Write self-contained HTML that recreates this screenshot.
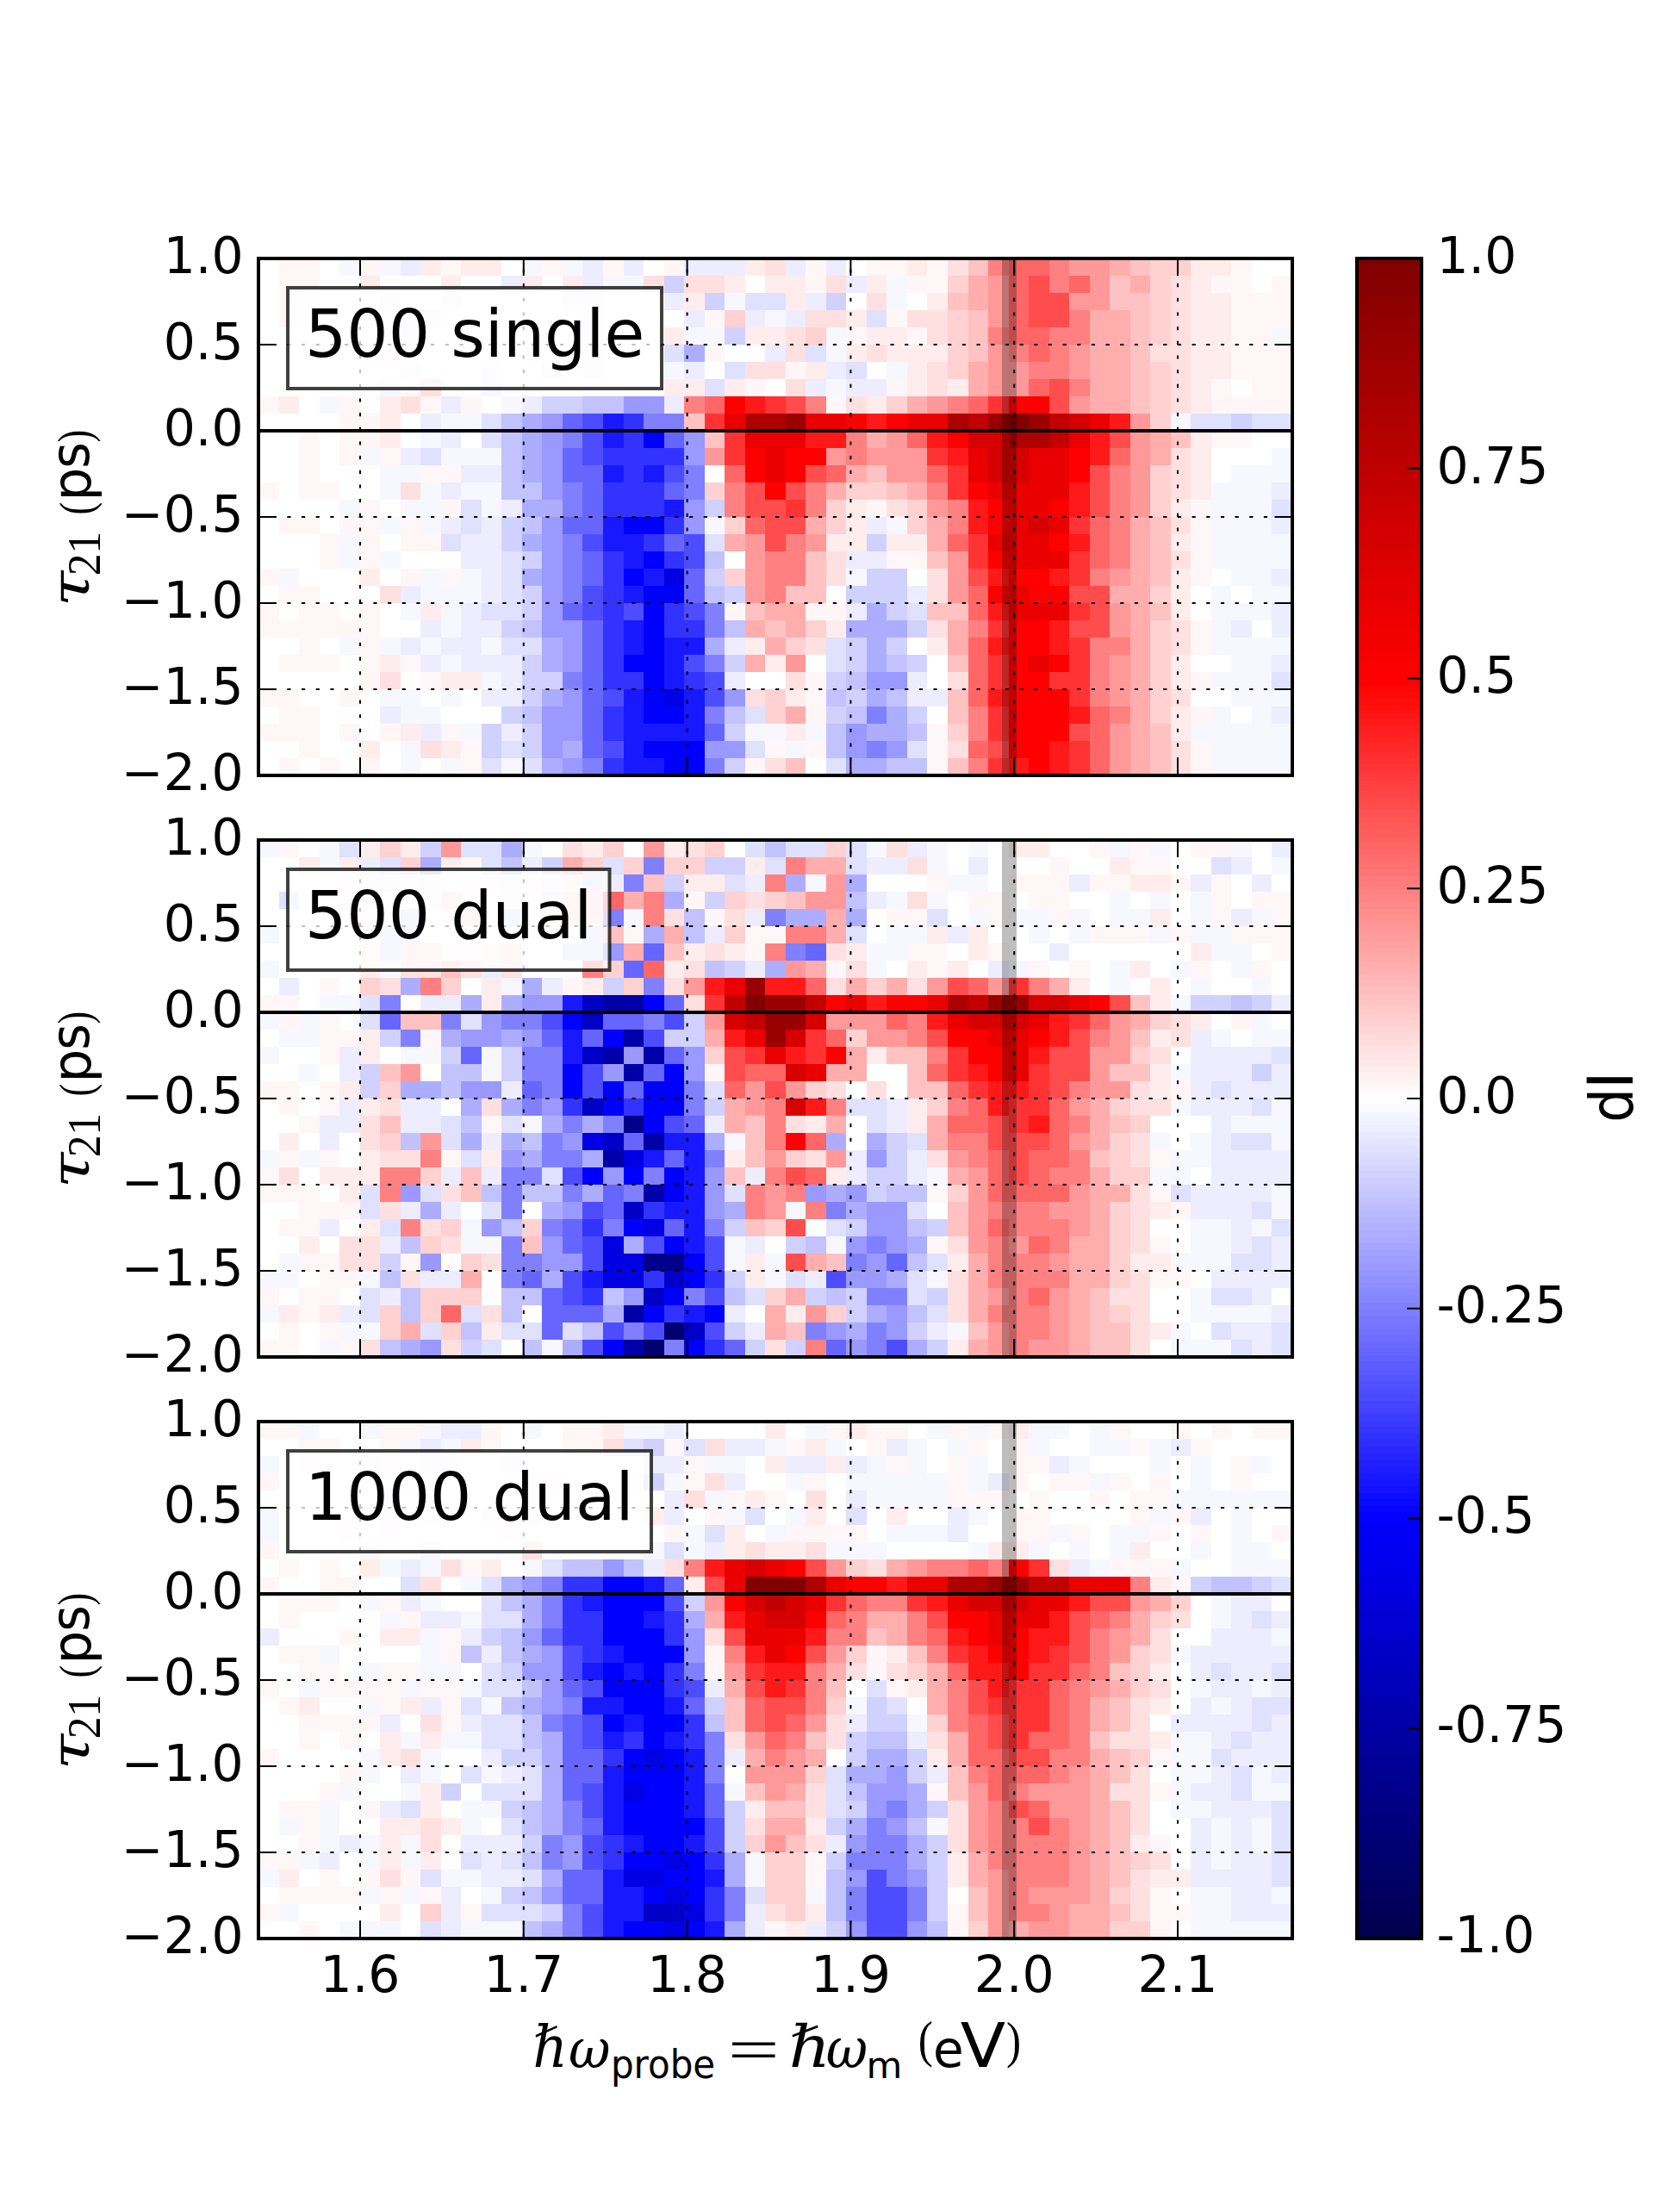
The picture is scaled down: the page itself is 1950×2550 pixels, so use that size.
<!DOCTYPE html><html><head><meta charset="utf-8"><style>html,body{margin:0;padding:0;background:#fff;width:1950px;height:2550px;overflow:hidden}svg{display:block}</style></head><body>
<svg width="1950" height="2550" viewBox="0 0 1950 2550">
<rect width="1950" height="2550" fill="#fff"/>
<g shape-rendering="crispEdges">
<rect x="324" y="300" width="47" height="20" fill="#fff7f7"/>
<rect x="394" y="300" width="24" height="20" fill="#f7f7ff"/>
<rect x="418" y="300" width="23" height="20" fill="#fff7f7"/>
<rect x="441" y="300" width="24" height="20" fill="#f7f7ff"/>
<rect x="465" y="300" width="23" height="20" fill="#ededff"/>
<rect x="488" y="300" width="24" height="20" fill="#ffeded"/>
<rect x="512" y="300" width="23" height="20" fill="#fff7f7"/>
<rect x="535" y="300" width="47" height="20" fill="#ffeded"/>
<rect x="606" y="300" width="23" height="20" fill="#f7f7ff"/>
<rect x="629" y="300" width="24" height="20" fill="#fff7f7"/>
<rect x="653" y="300" width="23" height="20" fill="#f7f7ff"/>
<rect x="676" y="300" width="24" height="20" fill="#ededff"/>
<rect x="700" y="300" width="24" height="20" fill="#fff7f7"/>
<rect x="724" y="300" width="23" height="20" fill="#ededff"/>
<rect x="771" y="300" width="23" height="20" fill="#fff7f7"/>
<rect x="794" y="300" width="71" height="20" fill="#ededff"/>
<rect x="865" y="300" width="23" height="20" fill="#ffeded"/>
<rect x="888" y="300" width="24" height="20" fill="#ffe0e0"/>
<rect x="912" y="300" width="23" height="20" fill="#ededff"/>
<rect x="935" y="300" width="24" height="20" fill="#fff7f7"/>
<rect x="959" y="300" width="23" height="20" fill="#ededff"/>
<rect x="1006" y="300" width="47" height="20" fill="#fff7f7"/>
<rect x="1053" y="300" width="23" height="20" fill="#ffeded"/>
<rect x="1076" y="300" width="24" height="20" fill="#fff7f7"/>
<rect x="1100" y="300" width="24" height="20" fill="#ffe0e0"/>
<rect x="1124" y="300" width="23" height="20" fill="#ffc2c2"/>
<rect x="1147" y="300" width="24" height="20" fill="#ff8080"/>
<rect x="1171" y="300" width="47" height="20" fill="#ff6666"/>
<rect x="1218" y="300" width="23" height="20" fill="#ff8080"/>
<rect x="1241" y="300" width="47" height="20" fill="#ff9999"/>
<rect x="1288" y="300" width="24" height="20" fill="#ffadad"/>
<rect x="1312" y="300" width="23" height="20" fill="#ffc2c2"/>
<rect x="1335" y="300" width="47" height="20" fill="#ffd1d1"/>
<rect x="1382" y="300" width="47" height="20" fill="#ffeded"/>
<rect x="1429" y="300" width="24" height="20" fill="#fff7f7"/>
<rect x="324" y="320" width="47" height="20" fill="#fff7f7"/>
<rect x="418" y="320" width="23" height="20" fill="#ffeded"/>
<rect x="512" y="320" width="23" height="20" fill="#ffeded"/>
<rect x="582" y="320" width="24" height="20" fill="#ededff"/>
<rect x="606" y="320" width="23" height="20" fill="#ffeded"/>
<rect x="653" y="320" width="23" height="20" fill="#ffeded"/>
<rect x="676" y="320" width="24" height="20" fill="#ededff"/>
<rect x="700" y="320" width="47" height="20" fill="#f7f7ff"/>
<rect x="747" y="320" width="24" height="20" fill="#ffe0e0"/>
<rect x="771" y="320" width="23" height="20" fill="#d1d1ff"/>
<rect x="794" y="320" width="47" height="20" fill="#ffe0e0"/>
<rect x="841" y="320" width="24" height="20" fill="#ffeded"/>
<rect x="888" y="320" width="47" height="20" fill="#ffeded"/>
<rect x="935" y="320" width="24" height="20" fill="#fff7f7"/>
<rect x="959" y="320" width="23" height="20" fill="#ffe0e0"/>
<rect x="982" y="320" width="24" height="20" fill="#ededff"/>
<rect x="1006" y="320" width="23" height="20" fill="#ffeded"/>
<rect x="1029" y="320" width="24" height="20" fill="#f7f7ff"/>
<rect x="1053" y="320" width="47" height="20" fill="#fff7f7"/>
<rect x="1100" y="320" width="24" height="20" fill="#ffd1d1"/>
<rect x="1124" y="320" width="23" height="20" fill="#ffadad"/>
<rect x="1147" y="320" width="24" height="20" fill="#ff9999"/>
<rect x="1171" y="320" width="23" height="20" fill="#ff6666"/>
<rect x="1194" y="320" width="24" height="20" fill="#ff4d4d"/>
<rect x="1218" y="320" width="23" height="20" fill="#ff8080"/>
<rect x="1241" y="320" width="24" height="20" fill="#ff6666"/>
<rect x="1265" y="320" width="23" height="20" fill="#ff9999"/>
<rect x="1288" y="320" width="24" height="20" fill="#ffc2c2"/>
<rect x="1312" y="320" width="23" height="20" fill="#ffadad"/>
<rect x="1335" y="320" width="24" height="20" fill="#ffd1d1"/>
<rect x="1359" y="320" width="23" height="20" fill="#ffe0e0"/>
<rect x="1382" y="320" width="24" height="20" fill="#ffeded"/>
<rect x="1406" y="320" width="47" height="20" fill="#fff7f7"/>
<rect x="1476" y="320" width="24" height="20" fill="#fff7f7"/>
<rect x="324" y="340" width="47" height="20" fill="#fff7f7"/>
<rect x="441" y="340" width="24" height="20" fill="#f7f7ff"/>
<rect x="512" y="340" width="23" height="20" fill="#f7f7ff"/>
<rect x="653" y="340" width="47" height="20" fill="#f7f7ff"/>
<rect x="771" y="340" width="23" height="20" fill="#ededff"/>
<rect x="794" y="340" width="24" height="20" fill="#ffeded"/>
<rect x="818" y="340" width="23" height="20" fill="#d1d1ff"/>
<rect x="841" y="340" width="24" height="20" fill="#f7f7ff"/>
<rect x="865" y="340" width="47" height="20" fill="#e0e0ff"/>
<rect x="912" y="340" width="23" height="20" fill="#ffeded"/>
<rect x="935" y="340" width="24" height="20" fill="#ededff"/>
<rect x="959" y="340" width="23" height="20" fill="#d1d1ff"/>
<rect x="1006" y="340" width="23" height="20" fill="#ffe0e0"/>
<rect x="1029" y="340" width="24" height="20" fill="#f7f7ff"/>
<rect x="1076" y="340" width="24" height="20" fill="#ffeded"/>
<rect x="1100" y="340" width="24" height="20" fill="#ffc2c2"/>
<rect x="1124" y="340" width="23" height="20" fill="#ffadad"/>
<rect x="1147" y="340" width="24" height="20" fill="#ff9999"/>
<rect x="1171" y="340" width="23" height="20" fill="#ff6666"/>
<rect x="1194" y="340" width="47" height="20" fill="#ff4d4d"/>
<rect x="1241" y="340" width="47" height="20" fill="#ff9999"/>
<rect x="1288" y="340" width="47" height="20" fill="#ffc2c2"/>
<rect x="1335" y="340" width="24" height="20" fill="#ffd1d1"/>
<rect x="1359" y="340" width="23" height="20" fill="#ffe0e0"/>
<rect x="1382" y="340" width="47" height="20" fill="#ffeded"/>
<rect x="1429" y="340" width="71" height="20" fill="#fff7f7"/>
<rect x="324" y="360" width="23" height="20" fill="#fff7f7"/>
<rect x="465" y="360" width="47" height="20" fill="#f7f7ff"/>
<rect x="676" y="360" width="24" height="20" fill="#f7f7ff"/>
<rect x="794" y="360" width="24" height="20" fill="#ededff"/>
<rect x="818" y="360" width="23" height="20" fill="#fff7f7"/>
<rect x="841" y="360" width="24" height="20" fill="#ffd1d1"/>
<rect x="865" y="360" width="23" height="20" fill="#ededff"/>
<rect x="888" y="360" width="24" height="20" fill="#f7f7ff"/>
<rect x="912" y="360" width="23" height="20" fill="#ededff"/>
<rect x="935" y="360" width="47" height="20" fill="#ffe0e0"/>
<rect x="982" y="360" width="24" height="20" fill="#ffeded"/>
<rect x="1006" y="360" width="23" height="20" fill="#e0e0ff"/>
<rect x="1029" y="360" width="24" height="20" fill="#fff7f7"/>
<rect x="1053" y="360" width="47" height="20" fill="#ffe0e0"/>
<rect x="1100" y="360" width="24" height="20" fill="#ffd1d1"/>
<rect x="1124" y="360" width="23" height="20" fill="#ffc2c2"/>
<rect x="1147" y="360" width="24" height="20" fill="#ff9999"/>
<rect x="1171" y="360" width="23" height="20" fill="#ff6666"/>
<rect x="1194" y="360" width="47" height="20" fill="#ff4d4d"/>
<rect x="1241" y="360" width="24" height="20" fill="#ff8080"/>
<rect x="1265" y="360" width="47" height="20" fill="#ffadad"/>
<rect x="1312" y="360" width="23" height="20" fill="#ffc2c2"/>
<rect x="1335" y="360" width="24" height="20" fill="#ffd1d1"/>
<rect x="1359" y="360" width="23" height="20" fill="#ffe0e0"/>
<rect x="1382" y="360" width="47" height="20" fill="#ffeded"/>
<rect x="1429" y="360" width="71" height="20" fill="#fff7f7"/>
<rect x="465" y="380" width="23" height="20" fill="#f7f7ff"/>
<rect x="676" y="380" width="24" height="20" fill="#f7f7ff"/>
<rect x="771" y="380" width="23" height="20" fill="#ffeded"/>
<rect x="794" y="380" width="47" height="20" fill="#f7f7ff"/>
<rect x="841" y="380" width="24" height="20" fill="#d1d1ff"/>
<rect x="865" y="380" width="47" height="20" fill="#ffeded"/>
<rect x="912" y="380" width="23" height="20" fill="#ffe0e0"/>
<rect x="935" y="380" width="24" height="20" fill="#ffd1d1"/>
<rect x="959" y="380" width="23" height="20" fill="#f7f7ff"/>
<rect x="982" y="380" width="24" height="20" fill="#fff7f7"/>
<rect x="1006" y="380" width="47" height="20" fill="#ffeded"/>
<rect x="1053" y="380" width="23" height="20" fill="#fff7f7"/>
<rect x="1076" y="380" width="24" height="20" fill="#ffe0e0"/>
<rect x="1100" y="380" width="24" height="20" fill="#ffd1d1"/>
<rect x="1124" y="380" width="23" height="20" fill="#ffc2c2"/>
<rect x="1147" y="380" width="24" height="20" fill="#ff8080"/>
<rect x="1171" y="380" width="47" height="20" fill="#ff6666"/>
<rect x="1218" y="380" width="47" height="20" fill="#ff8080"/>
<rect x="1265" y="380" width="47" height="20" fill="#ffadad"/>
<rect x="1312" y="380" width="23" height="20" fill="#ffc2c2"/>
<rect x="1335" y="380" width="24" height="20" fill="#ffd1d1"/>
<rect x="1359" y="380" width="23" height="20" fill="#ffe0e0"/>
<rect x="1382" y="380" width="47" height="20" fill="#ffeded"/>
<rect x="1429" y="380" width="47" height="20" fill="#fff7f7"/>
<rect x="1476" y="380" width="24" height="20" fill="#f7f7ff"/>
<rect x="418" y="400" width="47" height="20" fill="#fff7f7"/>
<rect x="606" y="400" width="23" height="20" fill="#fff7f7"/>
<rect x="676" y="400" width="24" height="20" fill="#f7f7ff"/>
<rect x="771" y="400" width="23" height="20" fill="#e0e0ff"/>
<rect x="794" y="400" width="24" height="20" fill="#adadff"/>
<rect x="818" y="400" width="23" height="20" fill="#fff7f7"/>
<rect x="888" y="400" width="24" height="20" fill="#ededff"/>
<rect x="912" y="400" width="23" height="20" fill="#ffe0e0"/>
<rect x="935" y="400" width="24" height="20" fill="#e0e0ff"/>
<rect x="959" y="400" width="23" height="20" fill="#f7f7ff"/>
<rect x="982" y="400" width="24" height="20" fill="#ffeded"/>
<rect x="1006" y="400" width="23" height="20" fill="#ffe0e0"/>
<rect x="1029" y="400" width="71" height="20" fill="#ffeded"/>
<rect x="1100" y="400" width="24" height="20" fill="#ffd1d1"/>
<rect x="1124" y="400" width="23" height="20" fill="#ffc2c2"/>
<rect x="1147" y="400" width="24" height="20" fill="#ff9999"/>
<rect x="1171" y="400" width="23" height="20" fill="#ff8080"/>
<rect x="1194" y="400" width="24" height="20" fill="#ff6666"/>
<rect x="1218" y="400" width="23" height="20" fill="#ff8080"/>
<rect x="1241" y="400" width="24" height="20" fill="#ff9999"/>
<rect x="1265" y="400" width="47" height="20" fill="#ffadad"/>
<rect x="1312" y="400" width="23" height="20" fill="#ffc2c2"/>
<rect x="1335" y="400" width="47" height="20" fill="#ffe0e0"/>
<rect x="1382" y="400" width="47" height="20" fill="#ffeded"/>
<rect x="1429" y="400" width="71" height="20" fill="#fff7f7"/>
<rect x="465" y="420" width="23" height="20" fill="#f7f7ff"/>
<rect x="559" y="420" width="23" height="20" fill="#f7f7ff"/>
<rect x="629" y="420" width="24" height="20" fill="#f7f7ff"/>
<rect x="676" y="420" width="24" height="20" fill="#f7f7ff"/>
<rect x="771" y="420" width="23" height="20" fill="#f7f7ff"/>
<rect x="794" y="420" width="24" height="20" fill="#ededff"/>
<rect x="841" y="420" width="24" height="20" fill="#e0e0ff"/>
<rect x="865" y="420" width="47" height="20" fill="#ffe0e0"/>
<rect x="912" y="420" width="23" height="20" fill="#fff7f7"/>
<rect x="935" y="420" width="24" height="20" fill="#ffeded"/>
<rect x="959" y="420" width="23" height="20" fill="#ededff"/>
<rect x="982" y="420" width="24" height="20" fill="#e0e0ff"/>
<rect x="1029" y="420" width="24" height="20" fill="#f7f7ff"/>
<rect x="1053" y="420" width="23" height="20" fill="#ffeded"/>
<rect x="1076" y="420" width="24" height="20" fill="#ffe0e0"/>
<rect x="1100" y="420" width="24" height="20" fill="#ffd1d1"/>
<rect x="1124" y="420" width="23" height="20" fill="#ffadad"/>
<rect x="1147" y="420" width="47" height="20" fill="#ff9999"/>
<rect x="1194" y="420" width="47" height="20" fill="#ff8080"/>
<rect x="1241" y="420" width="24" height="20" fill="#ff9999"/>
<rect x="1265" y="420" width="47" height="20" fill="#ffadad"/>
<rect x="1312" y="420" width="23" height="20" fill="#ffc2c2"/>
<rect x="1335" y="420" width="24" height="20" fill="#ffd1d1"/>
<rect x="1359" y="420" width="23" height="20" fill="#ffe0e0"/>
<rect x="1382" y="420" width="47" height="20" fill="#ffeded"/>
<rect x="1429" y="420" width="71" height="20" fill="#fff7f7"/>
<rect x="441" y="440" width="24" height="20" fill="#f7f7ff"/>
<rect x="465" y="440" width="23" height="20" fill="#fff7f7"/>
<rect x="488" y="440" width="24" height="20" fill="#ffe0e0"/>
<rect x="559" y="440" width="23" height="20" fill="#f7f7ff"/>
<rect x="771" y="440" width="47" height="20" fill="#ffeded"/>
<rect x="818" y="440" width="23" height="20" fill="#e0e0ff"/>
<rect x="841" y="440" width="24" height="20" fill="#ffeded"/>
<rect x="865" y="440" width="23" height="20" fill="#fff7f7"/>
<rect x="912" y="440" width="23" height="20" fill="#ffe0e0"/>
<rect x="935" y="440" width="24" height="20" fill="#ededff"/>
<rect x="959" y="440" width="23" height="20" fill="#f7f7ff"/>
<rect x="982" y="440" width="47" height="20" fill="#ededff"/>
<rect x="1029" y="440" width="24" height="20" fill="#fff7f7"/>
<rect x="1053" y="440" width="23" height="20" fill="#ffeded"/>
<rect x="1076" y="440" width="24" height="20" fill="#ffe0e0"/>
<rect x="1100" y="440" width="24" height="20" fill="#ffeded"/>
<rect x="1124" y="440" width="23" height="20" fill="#ffadad"/>
<rect x="1147" y="440" width="47" height="20" fill="#ff9999"/>
<rect x="1194" y="440" width="24" height="20" fill="#ff6666"/>
<rect x="1218" y="440" width="23" height="20" fill="#ff4d4d"/>
<rect x="1241" y="440" width="24" height="20" fill="#ff8080"/>
<rect x="1265" y="440" width="47" height="20" fill="#ffadad"/>
<rect x="1312" y="440" width="23" height="20" fill="#ffc2c2"/>
<rect x="1335" y="440" width="24" height="20" fill="#ffd1d1"/>
<rect x="1359" y="440" width="23" height="20" fill="#ffe0e0"/>
<rect x="1382" y="440" width="24" height="20" fill="#ffeded"/>
<rect x="1406" y="440" width="23" height="20" fill="#fff7f7"/>
<rect x="1453" y="440" width="47" height="20" fill="#fff7f7"/>
<rect x="300" y="460" width="24" height="20" fill="#fff7f7"/>
<rect x="324" y="460" width="23" height="20" fill="#ffeded"/>
<rect x="371" y="460" width="23" height="20" fill="#f7f7ff"/>
<rect x="394" y="460" width="24" height="20" fill="#fff7f7"/>
<rect x="441" y="460" width="24" height="20" fill="#ffeded"/>
<rect x="465" y="460" width="23" height="20" fill="#ffe0e0"/>
<rect x="488" y="460" width="24" height="20" fill="#fff7f7"/>
<rect x="512" y="460" width="23" height="20" fill="#ededff"/>
<rect x="535" y="460" width="24" height="20" fill="#fff7f7"/>
<rect x="582" y="460" width="24" height="20" fill="#f7f7ff"/>
<rect x="606" y="460" width="23" height="20" fill="#ededff"/>
<rect x="629" y="460" width="47" height="20" fill="#d1d1ff"/>
<rect x="676" y="460" width="48" height="20" fill="#c2c2ff"/>
<rect x="724" y="460" width="47" height="20" fill="#9999ff"/>
<rect x="771" y="460" width="23" height="20" fill="#ededff"/>
<rect x="794" y="460" width="24" height="20" fill="#ff8080"/>
<rect x="818" y="460" width="23" height="20" fill="#ff6666"/>
<rect x="841" y="460" width="24" height="20" fill="#ff0000"/>
<rect x="865" y="460" width="23" height="20" fill="#ff1919"/>
<rect x="888" y="460" width="24" height="20" fill="#ff3333"/>
<rect x="912" y="460" width="23" height="20" fill="#ff4d4d"/>
<rect x="935" y="460" width="24" height="20" fill="#ff8080"/>
<rect x="959" y="460" width="23" height="20" fill="#fff7f7"/>
<rect x="982" y="460" width="24" height="20" fill="#ffe0e0"/>
<rect x="1006" y="460" width="23" height="20" fill="#ffeded"/>
<rect x="1029" y="460" width="24" height="20" fill="#ffd1d1"/>
<rect x="1053" y="460" width="23" height="20" fill="#ffadad"/>
<rect x="1076" y="460" width="24" height="20" fill="#ff9999"/>
<rect x="1100" y="460" width="24" height="20" fill="#ff8080"/>
<rect x="1124" y="460" width="23" height="20" fill="#ff6666"/>
<rect x="1147" y="460" width="24" height="20" fill="#ff3333"/>
<rect x="1171" y="460" width="47" height="20" fill="#ff0000"/>
<rect x="1218" y="460" width="23" height="20" fill="#ff4d4d"/>
<rect x="1241" y="460" width="24" height="20" fill="#ff9999"/>
<rect x="1265" y="460" width="47" height="20" fill="#ffadad"/>
<rect x="1312" y="460" width="23" height="20" fill="#ffc2c2"/>
<rect x="1335" y="460" width="24" height="20" fill="#ffd1d1"/>
<rect x="1359" y="460" width="23" height="20" fill="#ffe0e0"/>
<rect x="1382" y="460" width="24" height="20" fill="#ffeded"/>
<rect x="1406" y="460" width="94" height="20" fill="#fff7f7"/>
<rect x="394" y="480" width="47" height="20" fill="#fff7f7"/>
<rect x="441" y="480" width="24" height="20" fill="#ffeded"/>
<rect x="488" y="480" width="24" height="20" fill="#ededff"/>
<rect x="512" y="480" width="47" height="20" fill="#f7f7ff"/>
<rect x="559" y="480" width="23" height="20" fill="#e0e0ff"/>
<rect x="582" y="480" width="24" height="20" fill="#c2c2ff"/>
<rect x="606" y="480" width="23" height="20" fill="#adadff"/>
<rect x="629" y="480" width="24" height="20" fill="#9999ff"/>
<rect x="653" y="480" width="23" height="20" fill="#6666ff"/>
<rect x="676" y="480" width="24" height="20" fill="#4d4dff"/>
<rect x="700" y="480" width="24" height="20" fill="#1919ff"/>
<rect x="724" y="480" width="23" height="20" fill="#3333ff"/>
<rect x="747" y="480" width="47" height="20" fill="#8080ff"/>
<rect x="794" y="480" width="24" height="20" fill="#ffc2c2"/>
<rect x="818" y="480" width="23" height="20" fill="#ff3333"/>
<rect x="841" y="480" width="24" height="20" fill="#eb0000"/>
<rect x="865" y="480" width="47" height="20" fill="#ad0000"/>
<rect x="912" y="480" width="23" height="20" fill="#990000"/>
<rect x="935" y="480" width="47" height="20" fill="#eb0000"/>
<rect x="982" y="480" width="24" height="20" fill="#ff0000"/>
<rect x="1006" y="480" width="23" height="20" fill="#ff1919"/>
<rect x="1029" y="480" width="24" height="20" fill="#ff0000"/>
<rect x="1053" y="480" width="47" height="20" fill="#eb0000"/>
<rect x="1100" y="480" width="24" height="20" fill="#ad0000"/>
<rect x="1124" y="480" width="23" height="20" fill="#c20000"/>
<rect x="1147" y="480" width="24" height="20" fill="#990000"/>
<rect x="1171" y="480" width="23" height="20" fill="#800000"/>
<rect x="1194" y="480" width="24" height="20" fill="#990000"/>
<rect x="1218" y="480" width="23" height="20" fill="#c20000"/>
<rect x="1241" y="480" width="24" height="20" fill="#d60000"/>
<rect x="1265" y="480" width="23" height="20" fill="#eb0000"/>
<rect x="1288" y="480" width="24" height="20" fill="#ff1919"/>
<rect x="1312" y="480" width="23" height="20" fill="#ff9999"/>
<rect x="1335" y="480" width="24" height="20" fill="#ffd1d1"/>
<rect x="1359" y="480" width="23" height="20" fill="#f7f7ff"/>
<rect x="1382" y="480" width="47" height="20" fill="#e0e0ff"/>
<rect x="1429" y="480" width="24" height="20" fill="#d1d1ff"/>
<rect x="1453" y="480" width="47" height="20" fill="#e0e0ff"/>
<rect x="347" y="500" width="24" height="20" fill="#fff7f7"/>
<rect x="394" y="500" width="47" height="20" fill="#fff7f7"/>
<rect x="441" y="500" width="24" height="20" fill="#ffeded"/>
<rect x="488" y="500" width="24" height="20" fill="#f7f7ff"/>
<rect x="512" y="500" width="23" height="20" fill="#ededff"/>
<rect x="559" y="500" width="23" height="20" fill="#e0e0ff"/>
<rect x="582" y="500" width="24" height="20" fill="#c2c2ff"/>
<rect x="606" y="500" width="23" height="20" fill="#adadff"/>
<rect x="629" y="500" width="24" height="20" fill="#9999ff"/>
<rect x="653" y="500" width="23" height="20" fill="#8080ff"/>
<rect x="676" y="500" width="24" height="20" fill="#4d4dff"/>
<rect x="700" y="500" width="24" height="20" fill="#1919ff"/>
<rect x="724" y="500" width="23" height="20" fill="#3333ff"/>
<rect x="747" y="500" width="24" height="20" fill="#0000ff"/>
<rect x="771" y="500" width="23" height="20" fill="#6666ff"/>
<rect x="794" y="500" width="24" height="20" fill="#9999ff"/>
<rect x="818" y="500" width="23" height="20" fill="#ffc2c2"/>
<rect x="841" y="500" width="24" height="20" fill="#ff3333"/>
<rect x="865" y="500" width="70" height="20" fill="#eb0000"/>
<rect x="935" y="500" width="47" height="20" fill="#ff1919"/>
<rect x="982" y="500" width="24" height="20" fill="#ff8080"/>
<rect x="1006" y="500" width="23" height="20" fill="#ffadad"/>
<rect x="1029" y="500" width="24" height="20" fill="#ff9999"/>
<rect x="1053" y="500" width="23" height="20" fill="#ff6666"/>
<rect x="1076" y="500" width="24" height="20" fill="#ff1919"/>
<rect x="1100" y="500" width="24" height="20" fill="#ff0000"/>
<rect x="1124" y="500" width="47" height="20" fill="#d60000"/>
<rect x="1171" y="500" width="47" height="20" fill="#ad0000"/>
<rect x="1218" y="500" width="23" height="20" fill="#c20000"/>
<rect x="1241" y="500" width="24" height="20" fill="#eb0000"/>
<rect x="1265" y="500" width="23" height="20" fill="#ff1919"/>
<rect x="1288" y="500" width="24" height="20" fill="#ff4d4d"/>
<rect x="1312" y="500" width="23" height="20" fill="#ff9999"/>
<rect x="1335" y="500" width="24" height="20" fill="#ffadad"/>
<rect x="1359" y="500" width="23" height="20" fill="#ffc2c2"/>
<rect x="1382" y="500" width="24" height="20" fill="#ffeded"/>
<rect x="1406" y="500" width="47" height="20" fill="#fff7f7"/>
<rect x="347" y="520" width="24" height="20" fill="#fff7f7"/>
<rect x="394" y="520" width="24" height="20" fill="#fff7f7"/>
<rect x="418" y="520" width="23" height="20" fill="#f7f7ff"/>
<rect x="441" y="520" width="24" height="20" fill="#fff7f7"/>
<rect x="465" y="520" width="23" height="20" fill="#ededff"/>
<rect x="488" y="520" width="24" height="20" fill="#e0e0ff"/>
<rect x="512" y="520" width="70" height="20" fill="#f7f7ff"/>
<rect x="582" y="520" width="24" height="20" fill="#c2c2ff"/>
<rect x="606" y="520" width="23" height="20" fill="#adadff"/>
<rect x="629" y="520" width="24" height="20" fill="#9999ff"/>
<rect x="653" y="520" width="23" height="20" fill="#6666ff"/>
<rect x="676" y="520" width="24" height="20" fill="#4d4dff"/>
<rect x="700" y="520" width="94" height="20" fill="#3333ff"/>
<rect x="794" y="520" width="24" height="20" fill="#9999ff"/>
<rect x="818" y="520" width="23" height="20" fill="#ff9999"/>
<rect x="841" y="520" width="24" height="20" fill="#ff3333"/>
<rect x="865" y="520" width="23" height="20" fill="#ff0000"/>
<rect x="888" y="520" width="24" height="20" fill="#eb0000"/>
<rect x="912" y="520" width="47" height="20" fill="#ff0000"/>
<rect x="959" y="520" width="23" height="20" fill="#ff9999"/>
<rect x="982" y="520" width="24" height="20" fill="#ff8080"/>
<rect x="1006" y="520" width="70" height="20" fill="#ff9999"/>
<rect x="1076" y="520" width="24" height="20" fill="#ff3333"/>
<rect x="1100" y="520" width="24" height="20" fill="#ff1919"/>
<rect x="1124" y="520" width="23" height="20" fill="#eb0000"/>
<rect x="1147" y="520" width="47" height="20" fill="#d60000"/>
<rect x="1194" y="520" width="47" height="20" fill="#eb0000"/>
<rect x="1241" y="520" width="24" height="20" fill="#ff0000"/>
<rect x="1265" y="520" width="23" height="20" fill="#ff1919"/>
<rect x="1288" y="520" width="24" height="20" fill="#ff6666"/>
<rect x="1312" y="520" width="23" height="20" fill="#ff9999"/>
<rect x="1335" y="520" width="24" height="20" fill="#ffadad"/>
<rect x="1359" y="520" width="23" height="20" fill="#ffe0e0"/>
<rect x="1382" y="520" width="24" height="20" fill="#ffeded"/>
<rect x="1476" y="520" width="24" height="20" fill="#f7f7ff"/>
<rect x="347" y="540" width="24" height="20" fill="#fff7f7"/>
<rect x="441" y="540" width="47" height="20" fill="#f7f7ff"/>
<rect x="488" y="540" width="47" height="20" fill="#fff7f7"/>
<rect x="535" y="540" width="47" height="20" fill="#ededff"/>
<rect x="582" y="540" width="24" height="20" fill="#c2c2ff"/>
<rect x="606" y="540" width="23" height="20" fill="#adadff"/>
<rect x="629" y="540" width="24" height="20" fill="#9999ff"/>
<rect x="653" y="540" width="47" height="20" fill="#6666ff"/>
<rect x="700" y="540" width="24" height="20" fill="#1919ff"/>
<rect x="724" y="540" width="23" height="20" fill="#3333ff"/>
<rect x="747" y="540" width="24" height="20" fill="#1919ff"/>
<rect x="771" y="540" width="23" height="20" fill="#4d4dff"/>
<rect x="794" y="540" width="24" height="20" fill="#8080ff"/>
<rect x="841" y="540" width="24" height="20" fill="#ff6666"/>
<rect x="865" y="540" width="23" height="20" fill="#ff0000"/>
<rect x="888" y="540" width="24" height="20" fill="#eb0000"/>
<rect x="912" y="540" width="23" height="20" fill="#ff0000"/>
<rect x="935" y="540" width="24" height="20" fill="#ff4d4d"/>
<rect x="959" y="540" width="23" height="20" fill="#ff6666"/>
<rect x="982" y="540" width="24" height="20" fill="#ffadad"/>
<rect x="1006" y="540" width="23" height="20" fill="#ffc2c2"/>
<rect x="1029" y="540" width="47" height="20" fill="#ff9999"/>
<rect x="1076" y="540" width="24" height="20" fill="#ff6666"/>
<rect x="1100" y="540" width="24" height="20" fill="#ff3333"/>
<rect x="1124" y="540" width="23" height="20" fill="#eb0000"/>
<rect x="1147" y="540" width="47" height="20" fill="#d60000"/>
<rect x="1194" y="540" width="47" height="20" fill="#eb0000"/>
<rect x="1241" y="540" width="24" height="20" fill="#ff0000"/>
<rect x="1265" y="540" width="23" height="20" fill="#ff4d4d"/>
<rect x="1288" y="540" width="24" height="20" fill="#ff8080"/>
<rect x="1312" y="540" width="23" height="20" fill="#ff9999"/>
<rect x="1335" y="540" width="24" height="20" fill="#ffd1d1"/>
<rect x="1359" y="540" width="23" height="20" fill="#ffe0e0"/>
<rect x="1382" y="540" width="24" height="20" fill="#ffeded"/>
<rect x="1429" y="540" width="71" height="20" fill="#f7f7ff"/>
<rect x="300" y="560" width="24" height="20" fill="#fff7f7"/>
<rect x="347" y="560" width="47" height="20" fill="#fff7f7"/>
<rect x="441" y="560" width="24" height="20" fill="#f7f7ff"/>
<rect x="465" y="560" width="23" height="20" fill="#ffe0e0"/>
<rect x="488" y="560" width="24" height="20" fill="#f7f7ff"/>
<rect x="512" y="560" width="23" height="20" fill="#ededff"/>
<rect x="535" y="560" width="47" height="20" fill="#f7f7ff"/>
<rect x="582" y="560" width="47" height="20" fill="#c2c2ff"/>
<rect x="629" y="560" width="24" height="20" fill="#9999ff"/>
<rect x="653" y="560" width="23" height="20" fill="#8080ff"/>
<rect x="676" y="560" width="24" height="20" fill="#6666ff"/>
<rect x="700" y="560" width="71" height="20" fill="#3333ff"/>
<rect x="771" y="560" width="23" height="20" fill="#6666ff"/>
<rect x="794" y="560" width="24" height="20" fill="#8080ff"/>
<rect x="818" y="560" width="23" height="20" fill="#ffd1d1"/>
<rect x="841" y="560" width="24" height="20" fill="#ff8080"/>
<rect x="865" y="560" width="23" height="20" fill="#ff4d4d"/>
<rect x="888" y="560" width="24" height="20" fill="#ff0000"/>
<rect x="912" y="560" width="23" height="20" fill="#ff4d4d"/>
<rect x="935" y="560" width="24" height="20" fill="#ff8080"/>
<rect x="959" y="560" width="23" height="20" fill="#ffadad"/>
<rect x="982" y="560" width="47" height="20" fill="#ffd1d1"/>
<rect x="1029" y="560" width="24" height="20" fill="#ffc2c2"/>
<rect x="1053" y="560" width="23" height="20" fill="#ffadad"/>
<rect x="1076" y="560" width="24" height="20" fill="#ff8080"/>
<rect x="1100" y="560" width="24" height="20" fill="#ff3333"/>
<rect x="1124" y="560" width="23" height="20" fill="#ff0000"/>
<rect x="1147" y="560" width="94" height="20" fill="#eb0000"/>
<rect x="1241" y="560" width="24" height="20" fill="#ff1919"/>
<rect x="1265" y="560" width="23" height="20" fill="#ff4d4d"/>
<rect x="1288" y="560" width="24" height="20" fill="#ff8080"/>
<rect x="1312" y="560" width="23" height="20" fill="#ff9999"/>
<rect x="1335" y="560" width="24" height="20" fill="#ffd1d1"/>
<rect x="1359" y="560" width="23" height="20" fill="#ffe0e0"/>
<rect x="1382" y="560" width="24" height="20" fill="#ffeded"/>
<rect x="1406" y="560" width="70" height="20" fill="#f7f7ff"/>
<rect x="1476" y="560" width="24" height="20" fill="#ededff"/>
<rect x="394" y="580" width="24" height="20" fill="#f7f7ff"/>
<rect x="418" y="580" width="23" height="20" fill="#fff7f7"/>
<rect x="465" y="580" width="47" height="20" fill="#f7f7ff"/>
<rect x="512" y="580" width="23" height="20" fill="#fff7f7"/>
<rect x="535" y="580" width="24" height="20" fill="#e0e0ff"/>
<rect x="559" y="580" width="23" height="20" fill="#f7f7ff"/>
<rect x="582" y="580" width="24" height="20" fill="#ededff"/>
<rect x="606" y="580" width="47" height="20" fill="#adadff"/>
<rect x="653" y="580" width="23" height="20" fill="#8080ff"/>
<rect x="676" y="580" width="24" height="20" fill="#6666ff"/>
<rect x="700" y="580" width="71" height="20" fill="#3333ff"/>
<rect x="771" y="580" width="23" height="20" fill="#1919ff"/>
<rect x="794" y="580" width="24" height="20" fill="#9999ff"/>
<rect x="818" y="580" width="23" height="20" fill="#d1d1ff"/>
<rect x="841" y="580" width="24" height="20" fill="#ff8080"/>
<rect x="865" y="580" width="47" height="20" fill="#ff4d4d"/>
<rect x="912" y="580" width="23" height="20" fill="#ff3333"/>
<rect x="935" y="580" width="24" height="20" fill="#ff8080"/>
<rect x="959" y="580" width="23" height="20" fill="#ffd1d1"/>
<rect x="982" y="580" width="24" height="20" fill="#ffeded"/>
<rect x="1006" y="580" width="23" height="20" fill="#fff7f7"/>
<rect x="1029" y="580" width="24" height="20" fill="#ffe0e0"/>
<rect x="1053" y="580" width="23" height="20" fill="#ffd1d1"/>
<rect x="1076" y="580" width="24" height="20" fill="#ff9999"/>
<rect x="1100" y="580" width="24" height="20" fill="#ff8080"/>
<rect x="1124" y="580" width="23" height="20" fill="#ff1919"/>
<rect x="1147" y="580" width="24" height="20" fill="#ff0000"/>
<rect x="1171" y="580" width="47" height="20" fill="#eb0000"/>
<rect x="1218" y="580" width="23" height="20" fill="#ff0000"/>
<rect x="1241" y="580" width="24" height="20" fill="#ff1919"/>
<rect x="1265" y="580" width="23" height="20" fill="#ff4d4d"/>
<rect x="1288" y="580" width="24" height="20" fill="#ff8080"/>
<rect x="1312" y="580" width="23" height="20" fill="#ff9999"/>
<rect x="1335" y="580" width="24" height="20" fill="#ffd1d1"/>
<rect x="1359" y="580" width="23" height="20" fill="#ffeded"/>
<rect x="1382" y="580" width="24" height="20" fill="#fff7f7"/>
<rect x="1406" y="580" width="70" height="20" fill="#f7f7ff"/>
<rect x="1476" y="580" width="24" height="20" fill="#e0e0ff"/>
<rect x="324" y="600" width="47" height="20" fill="#fff7f7"/>
<rect x="394" y="600" width="47" height="20" fill="#fff7f7"/>
<rect x="441" y="600" width="24" height="20" fill="#f7f7ff"/>
<rect x="465" y="600" width="23" height="20" fill="#fff7f7"/>
<rect x="488" y="600" width="24" height="20" fill="#f7f7ff"/>
<rect x="512" y="600" width="23" height="20" fill="#ededff"/>
<rect x="535" y="600" width="24" height="20" fill="#e0e0ff"/>
<rect x="559" y="600" width="23" height="20" fill="#ededff"/>
<rect x="582" y="600" width="24" height="20" fill="#d1d1ff"/>
<rect x="606" y="600" width="23" height="20" fill="#c2c2ff"/>
<rect x="629" y="600" width="24" height="20" fill="#9999ff"/>
<rect x="653" y="600" width="47" height="20" fill="#6666ff"/>
<rect x="700" y="600" width="24" height="20" fill="#1919ff"/>
<rect x="724" y="600" width="47" height="20" fill="#0000ff"/>
<rect x="771" y="600" width="23" height="20" fill="#3333ff"/>
<rect x="794" y="600" width="24" height="20" fill="#9999ff"/>
<rect x="818" y="600" width="23" height="20" fill="#f7f7ff"/>
<rect x="841" y="600" width="24" height="20" fill="#ffd1d1"/>
<rect x="865" y="600" width="23" height="20" fill="#ff6666"/>
<rect x="888" y="600" width="47" height="20" fill="#ff4d4d"/>
<rect x="935" y="600" width="24" height="20" fill="#ffadad"/>
<rect x="959" y="600" width="23" height="20" fill="#ffd1d1"/>
<rect x="982" y="600" width="24" height="20" fill="#ffeded"/>
<rect x="1006" y="600" width="23" height="20" fill="#ededff"/>
<rect x="1029" y="600" width="24" height="20" fill="#f7f7ff"/>
<rect x="1053" y="600" width="23" height="20" fill="#ffd1d1"/>
<rect x="1076" y="600" width="24" height="20" fill="#ffadad"/>
<rect x="1100" y="600" width="24" height="20" fill="#ff8080"/>
<rect x="1124" y="600" width="23" height="20" fill="#ff1919"/>
<rect x="1147" y="600" width="24" height="20" fill="#ff0000"/>
<rect x="1171" y="600" width="23" height="20" fill="#eb0000"/>
<rect x="1194" y="600" width="24" height="20" fill="#d60000"/>
<rect x="1218" y="600" width="23" height="20" fill="#eb0000"/>
<rect x="1241" y="600" width="24" height="20" fill="#ff3333"/>
<rect x="1265" y="600" width="23" height="20" fill="#ff6666"/>
<rect x="1288" y="600" width="24" height="20" fill="#ff8080"/>
<rect x="1312" y="600" width="23" height="20" fill="#ffadad"/>
<rect x="1335" y="600" width="24" height="20" fill="#ffc2c2"/>
<rect x="1359" y="600" width="23" height="20" fill="#ffe0e0"/>
<rect x="1382" y="600" width="24" height="20" fill="#fff7f7"/>
<rect x="1406" y="600" width="70" height="20" fill="#f7f7ff"/>
<rect x="1476" y="600" width="24" height="20" fill="#ededff"/>
<rect x="371" y="620" width="23" height="20" fill="#fff7f7"/>
<rect x="394" y="620" width="24" height="20" fill="#f7f7ff"/>
<rect x="418" y="620" width="23" height="20" fill="#fff7f7"/>
<rect x="465" y="620" width="47" height="20" fill="#fff7f7"/>
<rect x="512" y="620" width="23" height="20" fill="#e0e0ff"/>
<rect x="535" y="620" width="47" height="20" fill="#ededff"/>
<rect x="582" y="620" width="24" height="20" fill="#d1d1ff"/>
<rect x="606" y="620" width="23" height="20" fill="#adadff"/>
<rect x="629" y="620" width="24" height="20" fill="#9999ff"/>
<rect x="653" y="620" width="23" height="20" fill="#8080ff"/>
<rect x="676" y="620" width="24" height="20" fill="#4d4dff"/>
<rect x="700" y="620" width="47" height="20" fill="#1919ff"/>
<rect x="747" y="620" width="24" height="20" fill="#3333ff"/>
<rect x="771" y="620" width="23" height="20" fill="#6666ff"/>
<rect x="794" y="620" width="24" height="20" fill="#4d4dff"/>
<rect x="818" y="620" width="23" height="20" fill="#e0e0ff"/>
<rect x="841" y="620" width="24" height="20" fill="#ffadad"/>
<rect x="865" y="620" width="23" height="20" fill="#ff9999"/>
<rect x="888" y="620" width="24" height="20" fill="#ff4d4d"/>
<rect x="912" y="620" width="23" height="20" fill="#ff8080"/>
<rect x="935" y="620" width="24" height="20" fill="#ff9999"/>
<rect x="959" y="620" width="47" height="20" fill="#ffeded"/>
<rect x="1006" y="620" width="23" height="20" fill="#d1d1ff"/>
<rect x="1029" y="620" width="47" height="20" fill="#ffeded"/>
<rect x="1076" y="620" width="24" height="20" fill="#ffadad"/>
<rect x="1100" y="620" width="24" height="20" fill="#ff6666"/>
<rect x="1124" y="620" width="23" height="20" fill="#ff3333"/>
<rect x="1147" y="620" width="71" height="20" fill="#eb0000"/>
<rect x="1218" y="620" width="23" height="20" fill="#ff0000"/>
<rect x="1241" y="620" width="24" height="20" fill="#ff1919"/>
<rect x="1265" y="620" width="23" height="20" fill="#ff6666"/>
<rect x="1288" y="620" width="24" height="20" fill="#ff8080"/>
<rect x="1312" y="620" width="23" height="20" fill="#ffadad"/>
<rect x="1335" y="620" width="24" height="20" fill="#ffc2c2"/>
<rect x="1359" y="620" width="23" height="20" fill="#ffeded"/>
<rect x="1382" y="620" width="24" height="20" fill="#fff7f7"/>
<rect x="1406" y="620" width="94" height="20" fill="#f7f7ff"/>
<rect x="371" y="640" width="23" height="20" fill="#fff7f7"/>
<rect x="394" y="640" width="24" height="20" fill="#f7f7ff"/>
<rect x="418" y="640" width="23" height="20" fill="#fff7f7"/>
<rect x="441" y="640" width="24" height="20" fill="#f7f7ff"/>
<rect x="535" y="640" width="47" height="20" fill="#ededff"/>
<rect x="582" y="640" width="24" height="20" fill="#e0e0ff"/>
<rect x="606" y="640" width="23" height="20" fill="#d1d1ff"/>
<rect x="629" y="640" width="24" height="20" fill="#9999ff"/>
<rect x="653" y="640" width="23" height="20" fill="#8080ff"/>
<rect x="676" y="640" width="24" height="20" fill="#6666ff"/>
<rect x="700" y="640" width="24" height="20" fill="#3333ff"/>
<rect x="724" y="640" width="23" height="20" fill="#1919ff"/>
<rect x="747" y="640" width="24" height="20" fill="#0000ff"/>
<rect x="771" y="640" width="23" height="20" fill="#3333ff"/>
<rect x="794" y="640" width="24" height="20" fill="#4d4dff"/>
<rect x="818" y="640" width="23" height="20" fill="#c2c2ff"/>
<rect x="865" y="640" width="23" height="20" fill="#ff9999"/>
<rect x="888" y="640" width="47" height="20" fill="#ff8080"/>
<rect x="935" y="640" width="24" height="20" fill="#ffc2c2"/>
<rect x="959" y="640" width="23" height="20" fill="#ffe0e0"/>
<rect x="982" y="640" width="47" height="20" fill="#ededff"/>
<rect x="1029" y="640" width="47" height="20" fill="#fff7f7"/>
<rect x="1076" y="640" width="24" height="20" fill="#ffc2c2"/>
<rect x="1100" y="640" width="24" height="20" fill="#ff9999"/>
<rect x="1124" y="640" width="23" height="20" fill="#ff3333"/>
<rect x="1147" y="640" width="24" height="20" fill="#ff0000"/>
<rect x="1171" y="640" width="70" height="20" fill="#eb0000"/>
<rect x="1241" y="640" width="24" height="20" fill="#ff3333"/>
<rect x="1265" y="640" width="23" height="20" fill="#ff6666"/>
<rect x="1288" y="640" width="24" height="20" fill="#ff8080"/>
<rect x="1312" y="640" width="23" height="20" fill="#ffadad"/>
<rect x="1335" y="640" width="24" height="20" fill="#ffc2c2"/>
<rect x="1359" y="640" width="23" height="20" fill="#ffe0e0"/>
<rect x="1382" y="640" width="24" height="20" fill="#fff7f7"/>
<rect x="1406" y="640" width="94" height="20" fill="#f7f7ff"/>
<rect x="300" y="660" width="24" height="20" fill="#fff7f7"/>
<rect x="324" y="660" width="23" height="20" fill="#f7f7ff"/>
<rect x="418" y="660" width="23" height="20" fill="#ffeded"/>
<rect x="465" y="660" width="23" height="20" fill="#fff7f7"/>
<rect x="488" y="660" width="24" height="20" fill="#f7f7ff"/>
<rect x="512" y="660" width="23" height="20" fill="#fff7f7"/>
<rect x="535" y="660" width="24" height="20" fill="#f7f7ff"/>
<rect x="559" y="660" width="23" height="20" fill="#ededff"/>
<rect x="582" y="660" width="24" height="20" fill="#e0e0ff"/>
<rect x="606" y="660" width="23" height="20" fill="#adadff"/>
<rect x="629" y="660" width="24" height="20" fill="#9999ff"/>
<rect x="653" y="660" width="23" height="20" fill="#8080ff"/>
<rect x="676" y="660" width="24" height="20" fill="#6666ff"/>
<rect x="700" y="660" width="24" height="20" fill="#3333ff"/>
<rect x="724" y="660" width="23" height="20" fill="#0000ff"/>
<rect x="747" y="660" width="24" height="20" fill="#1919ff"/>
<rect x="771" y="660" width="23" height="20" fill="#0000e2"/>
<rect x="794" y="660" width="24" height="20" fill="#6666ff"/>
<rect x="818" y="660" width="23" height="20" fill="#d1d1ff"/>
<rect x="841" y="660" width="24" height="20" fill="#ffd1d1"/>
<rect x="865" y="660" width="23" height="20" fill="#ff9999"/>
<rect x="888" y="660" width="47" height="20" fill="#ff8080"/>
<rect x="935" y="660" width="24" height="20" fill="#ffc2c2"/>
<rect x="959" y="660" width="23" height="20" fill="#ffe0e0"/>
<rect x="982" y="660" width="24" height="20" fill="#f7f7ff"/>
<rect x="1006" y="660" width="47" height="20" fill="#d1d1ff"/>
<rect x="1076" y="660" width="24" height="20" fill="#ffe0e0"/>
<rect x="1100" y="660" width="24" height="20" fill="#ff9999"/>
<rect x="1124" y="660" width="23" height="20" fill="#ff4d4d"/>
<rect x="1147" y="660" width="24" height="20" fill="#ff1919"/>
<rect x="1171" y="660" width="47" height="20" fill="#ff0000"/>
<rect x="1218" y="660" width="23" height="20" fill="#ff1919"/>
<rect x="1241" y="660" width="24" height="20" fill="#ff3333"/>
<rect x="1265" y="660" width="23" height="20" fill="#ff8080"/>
<rect x="1288" y="660" width="24" height="20" fill="#ff9999"/>
<rect x="1312" y="660" width="23" height="20" fill="#ffadad"/>
<rect x="1335" y="660" width="24" height="20" fill="#ffc2c2"/>
<rect x="1359" y="660" width="23" height="20" fill="#ffeded"/>
<rect x="1382" y="660" width="24" height="20" fill="#fff7f7"/>
<rect x="1429" y="660" width="47" height="20" fill="#f7f7ff"/>
<rect x="1476" y="660" width="24" height="20" fill="#ededff"/>
<rect x="324" y="680" width="47" height="20" fill="#fff7f7"/>
<rect x="441" y="680" width="24" height="20" fill="#ffe0e0"/>
<rect x="465" y="680" width="23" height="20" fill="#ededff"/>
<rect x="488" y="680" width="71" height="20" fill="#f7f7ff"/>
<rect x="559" y="680" width="23" height="20" fill="#ededff"/>
<rect x="582" y="680" width="24" height="20" fill="#e0e0ff"/>
<rect x="606" y="680" width="23" height="20" fill="#d1d1ff"/>
<rect x="629" y="680" width="24" height="20" fill="#9999ff"/>
<rect x="653" y="680" width="23" height="20" fill="#8080ff"/>
<rect x="676" y="680" width="24" height="20" fill="#4d4dff"/>
<rect x="700" y="680" width="24" height="20" fill="#3333ff"/>
<rect x="724" y="680" width="23" height="20" fill="#1919ff"/>
<rect x="747" y="680" width="47" height="20" fill="#0000ff"/>
<rect x="794" y="680" width="24" height="20" fill="#6666ff"/>
<rect x="818" y="680" width="23" height="20" fill="#c2c2ff"/>
<rect x="841" y="680" width="24" height="20" fill="#d1d1ff"/>
<rect x="865" y="680" width="23" height="20" fill="#ff9999"/>
<rect x="888" y="680" width="24" height="20" fill="#ff8080"/>
<rect x="912" y="680" width="47" height="20" fill="#ffc2c2"/>
<rect x="982" y="680" width="71" height="20" fill="#d1d1ff"/>
<rect x="1053" y="680" width="23" height="20" fill="#ededff"/>
<rect x="1076" y="680" width="24" height="20" fill="#ffe0e0"/>
<rect x="1100" y="680" width="24" height="20" fill="#ff9999"/>
<rect x="1124" y="680" width="23" height="20" fill="#ff6666"/>
<rect x="1147" y="680" width="24" height="20" fill="#ff0000"/>
<rect x="1171" y="680" width="23" height="20" fill="#eb0000"/>
<rect x="1194" y="680" width="47" height="20" fill="#ff0000"/>
<rect x="1241" y="680" width="47" height="20" fill="#ff4d4d"/>
<rect x="1288" y="680" width="47" height="20" fill="#ffadad"/>
<rect x="1335" y="680" width="24" height="20" fill="#ffd1d1"/>
<rect x="1359" y="680" width="23" height="20" fill="#ffeded"/>
<rect x="1406" y="680" width="23" height="20" fill="#f7f7ff"/>
<rect x="1453" y="680" width="47" height="20" fill="#f7f7ff"/>
<rect x="300" y="700" width="24" height="20" fill="#fff7f7"/>
<rect x="347" y="700" width="47" height="20" fill="#fff7f7"/>
<rect x="418" y="700" width="23" height="20" fill="#fff7f7"/>
<rect x="465" y="700" width="23" height="20" fill="#f7f7ff"/>
<rect x="488" y="700" width="24" height="20" fill="#ffeded"/>
<rect x="512" y="700" width="23" height="20" fill="#f7f7ff"/>
<rect x="535" y="700" width="24" height="20" fill="#ededff"/>
<rect x="559" y="700" width="47" height="20" fill="#e0e0ff"/>
<rect x="606" y="700" width="23" height="20" fill="#d1d1ff"/>
<rect x="629" y="700" width="24" height="20" fill="#9999ff"/>
<rect x="653" y="700" width="23" height="20" fill="#6666ff"/>
<rect x="676" y="700" width="24" height="20" fill="#4d4dff"/>
<rect x="700" y="700" width="24" height="20" fill="#3333ff"/>
<rect x="724" y="700" width="23" height="20" fill="#4d4dff"/>
<rect x="747" y="700" width="24" height="20" fill="#0000ff"/>
<rect x="771" y="700" width="23" height="20" fill="#3333ff"/>
<rect x="794" y="700" width="24" height="20" fill="#4d4dff"/>
<rect x="818" y="700" width="23" height="20" fill="#8080ff"/>
<rect x="841" y="700" width="24" height="20" fill="#fff7f7"/>
<rect x="865" y="700" width="23" height="20" fill="#ffc2c2"/>
<rect x="888" y="700" width="47" height="20" fill="#ffadad"/>
<rect x="935" y="700" width="47" height="20" fill="#fff7f7"/>
<rect x="982" y="700" width="24" height="20" fill="#ededff"/>
<rect x="1006" y="700" width="23" height="20" fill="#adadff"/>
<rect x="1029" y="700" width="24" height="20" fill="#d1d1ff"/>
<rect x="1053" y="700" width="23" height="20" fill="#e0e0ff"/>
<rect x="1076" y="700" width="48" height="20" fill="#ffc2c2"/>
<rect x="1124" y="700" width="23" height="20" fill="#ff6666"/>
<rect x="1147" y="700" width="24" height="20" fill="#ff1919"/>
<rect x="1171" y="700" width="70" height="20" fill="#eb0000"/>
<rect x="1241" y="700" width="24" height="20" fill="#ff3333"/>
<rect x="1265" y="700" width="23" height="20" fill="#ff4d4d"/>
<rect x="1288" y="700" width="24" height="20" fill="#ff9999"/>
<rect x="1312" y="700" width="23" height="20" fill="#ffadad"/>
<rect x="1335" y="700" width="24" height="20" fill="#ffc2c2"/>
<rect x="1359" y="700" width="23" height="20" fill="#ffeded"/>
<rect x="1406" y="700" width="70" height="20" fill="#f7f7ff"/>
<rect x="1476" y="700" width="24" height="20" fill="#ededff"/>
<rect x="300" y="720" width="141" height="20" fill="#fff7f7"/>
<rect x="488" y="720" width="24" height="20" fill="#ededff"/>
<rect x="512" y="720" width="23" height="20" fill="#f7f7ff"/>
<rect x="535" y="720" width="47" height="20" fill="#ededff"/>
<rect x="582" y="720" width="24" height="20" fill="#d1d1ff"/>
<rect x="606" y="720" width="23" height="20" fill="#c2c2ff"/>
<rect x="629" y="720" width="47" height="20" fill="#9999ff"/>
<rect x="676" y="720" width="24" height="20" fill="#6666ff"/>
<rect x="700" y="720" width="24" height="20" fill="#3333ff"/>
<rect x="724" y="720" width="23" height="20" fill="#1919ff"/>
<rect x="747" y="720" width="24" height="20" fill="#0000ff"/>
<rect x="771" y="720" width="47" height="20" fill="#3333ff"/>
<rect x="818" y="720" width="23" height="20" fill="#8080ff"/>
<rect x="841" y="720" width="24" height="20" fill="#c2c2ff"/>
<rect x="865" y="720" width="23" height="20" fill="#ffadad"/>
<rect x="888" y="720" width="24" height="20" fill="#ffc2c2"/>
<rect x="912" y="720" width="23" height="20" fill="#ffadad"/>
<rect x="935" y="720" width="24" height="20" fill="#ffd1d1"/>
<rect x="959" y="720" width="23" height="20" fill="#ffeded"/>
<rect x="982" y="720" width="71" height="20" fill="#adadff"/>
<rect x="1053" y="720" width="23" height="20" fill="#d1d1ff"/>
<rect x="1076" y="720" width="24" height="20" fill="#ffe0e0"/>
<rect x="1100" y="720" width="24" height="20" fill="#ffadad"/>
<rect x="1124" y="720" width="23" height="20" fill="#ff8080"/>
<rect x="1147" y="720" width="24" height="20" fill="#ff3333"/>
<rect x="1171" y="720" width="47" height="20" fill="#ff0000"/>
<rect x="1218" y="720" width="23" height="20" fill="#ff1919"/>
<rect x="1241" y="720" width="47" height="20" fill="#ff4d4d"/>
<rect x="1288" y="720" width="24" height="20" fill="#ff9999"/>
<rect x="1312" y="720" width="23" height="20" fill="#ffadad"/>
<rect x="1335" y="720" width="24" height="20" fill="#ffd1d1"/>
<rect x="1359" y="720" width="23" height="20" fill="#ffe0e0"/>
<rect x="1382" y="720" width="24" height="20" fill="#fff7f7"/>
<rect x="1406" y="720" width="23" height="20" fill="#f7f7ff"/>
<rect x="1429" y="720" width="24" height="20" fill="#ededff"/>
<rect x="1476" y="720" width="24" height="20" fill="#ededff"/>
<rect x="347" y="740" width="24" height="20" fill="#fff7f7"/>
<rect x="394" y="740" width="24" height="20" fill="#f7f7ff"/>
<rect x="418" y="740" width="23" height="20" fill="#fff7f7"/>
<rect x="441" y="740" width="24" height="20" fill="#f7f7ff"/>
<rect x="465" y="740" width="23" height="20" fill="#ededff"/>
<rect x="488" y="740" width="24" height="20" fill="#f7f7ff"/>
<rect x="512" y="740" width="47" height="20" fill="#ededff"/>
<rect x="559" y="740" width="23" height="20" fill="#f7f7ff"/>
<rect x="582" y="740" width="47" height="20" fill="#e0e0ff"/>
<rect x="629" y="740" width="24" height="20" fill="#adadff"/>
<rect x="653" y="740" width="23" height="20" fill="#9999ff"/>
<rect x="676" y="740" width="24" height="20" fill="#6666ff"/>
<rect x="700" y="740" width="24" height="20" fill="#3333ff"/>
<rect x="724" y="740" width="23" height="20" fill="#1919ff"/>
<rect x="747" y="740" width="24" height="20" fill="#0000ff"/>
<rect x="771" y="740" width="47" height="20" fill="#1919ff"/>
<rect x="818" y="740" width="23" height="20" fill="#adadff"/>
<rect x="841" y="740" width="24" height="20" fill="#ededff"/>
<rect x="865" y="740" width="23" height="20" fill="#ffeded"/>
<rect x="888" y="740" width="24" height="20" fill="#ffadad"/>
<rect x="912" y="740" width="23" height="20" fill="#ffd1d1"/>
<rect x="935" y="740" width="24" height="20" fill="#ffe0e0"/>
<rect x="959" y="740" width="23" height="20" fill="#e0e0ff"/>
<rect x="982" y="740" width="24" height="20" fill="#d1d1ff"/>
<rect x="1006" y="740" width="23" height="20" fill="#adadff"/>
<rect x="1029" y="740" width="24" height="20" fill="#d1d1ff"/>
<rect x="1076" y="740" width="24" height="20" fill="#ffeded"/>
<rect x="1100" y="740" width="24" height="20" fill="#ffadad"/>
<rect x="1124" y="740" width="23" height="20" fill="#ff6666"/>
<rect x="1147" y="740" width="24" height="20" fill="#ff1919"/>
<rect x="1171" y="740" width="47" height="20" fill="#ff0000"/>
<rect x="1218" y="740" width="23" height="20" fill="#ff1919"/>
<rect x="1241" y="740" width="24" height="20" fill="#ff3333"/>
<rect x="1265" y="740" width="47" height="20" fill="#ff8080"/>
<rect x="1312" y="740" width="23" height="20" fill="#ffadad"/>
<rect x="1335" y="740" width="24" height="20" fill="#ffd1d1"/>
<rect x="1359" y="740" width="23" height="20" fill="#ffe0e0"/>
<rect x="1382" y="740" width="24" height="20" fill="#fff7f7"/>
<rect x="1406" y="740" width="94" height="20" fill="#f7f7ff"/>
<rect x="324" y="760" width="70" height="20" fill="#fff7f7"/>
<rect x="418" y="760" width="23" height="20" fill="#fff7f7"/>
<rect x="441" y="760" width="24" height="20" fill="#ffeded"/>
<rect x="465" y="760" width="23" height="20" fill="#fff7f7"/>
<rect x="488" y="760" width="24" height="20" fill="#ededff"/>
<rect x="512" y="760" width="23" height="20" fill="#f7f7ff"/>
<rect x="535" y="760" width="71" height="20" fill="#ededff"/>
<rect x="606" y="760" width="23" height="20" fill="#d1d1ff"/>
<rect x="629" y="760" width="24" height="20" fill="#adadff"/>
<rect x="653" y="760" width="23" height="20" fill="#9999ff"/>
<rect x="676" y="760" width="24" height="20" fill="#6666ff"/>
<rect x="700" y="760" width="24" height="20" fill="#3333ff"/>
<rect x="724" y="760" width="47" height="20" fill="#0000ff"/>
<rect x="771" y="760" width="23" height="20" fill="#1919ff"/>
<rect x="794" y="760" width="24" height="20" fill="#4d4dff"/>
<rect x="818" y="760" width="23" height="20" fill="#8080ff"/>
<rect x="841" y="760" width="24" height="20" fill="#d1d1ff"/>
<rect x="865" y="760" width="23" height="20" fill="#ffadad"/>
<rect x="888" y="760" width="24" height="20" fill="#ffeded"/>
<rect x="912" y="760" width="23" height="20" fill="#ff9999"/>
<rect x="959" y="760" width="23" height="20" fill="#e0e0ff"/>
<rect x="982" y="760" width="24" height="20" fill="#d1d1ff"/>
<rect x="1006" y="760" width="23" height="20" fill="#adadff"/>
<rect x="1029" y="760" width="24" height="20" fill="#c2c2ff"/>
<rect x="1053" y="760" width="23" height="20" fill="#d1d1ff"/>
<rect x="1100" y="760" width="24" height="20" fill="#ffc2c2"/>
<rect x="1124" y="760" width="23" height="20" fill="#ff6666"/>
<rect x="1147" y="760" width="24" height="20" fill="#ff3333"/>
<rect x="1171" y="760" width="23" height="20" fill="#ff0000"/>
<rect x="1194" y="760" width="24" height="20" fill="#eb0000"/>
<rect x="1218" y="760" width="23" height="20" fill="#ff0000"/>
<rect x="1241" y="760" width="24" height="20" fill="#ff3333"/>
<rect x="1265" y="760" width="23" height="20" fill="#ff8080"/>
<rect x="1288" y="760" width="24" height="20" fill="#ff9999"/>
<rect x="1312" y="760" width="23" height="20" fill="#ffadad"/>
<rect x="1335" y="760" width="24" height="20" fill="#ffd1d1"/>
<rect x="1359" y="760" width="23" height="20" fill="#ffeded"/>
<rect x="1429" y="760" width="47" height="20" fill="#f7f7ff"/>
<rect x="1476" y="760" width="24" height="20" fill="#ededff"/>
<rect x="418" y="780" width="23" height="20" fill="#fff7f7"/>
<rect x="441" y="780" width="24" height="20" fill="#ffe0e0"/>
<rect x="488" y="780" width="24" height="20" fill="#fff7f7"/>
<rect x="512" y="780" width="47" height="20" fill="#ffeded"/>
<rect x="559" y="780" width="23" height="20" fill="#f7f7ff"/>
<rect x="582" y="780" width="24" height="20" fill="#ededff"/>
<rect x="606" y="780" width="47" height="20" fill="#d1d1ff"/>
<rect x="653" y="780" width="23" height="20" fill="#8080ff"/>
<rect x="676" y="780" width="24" height="20" fill="#6666ff"/>
<rect x="700" y="780" width="47" height="20" fill="#3333ff"/>
<rect x="747" y="780" width="24" height="20" fill="#0000ff"/>
<rect x="771" y="780" width="23" height="20" fill="#1919ff"/>
<rect x="794" y="780" width="24" height="20" fill="#3333ff"/>
<rect x="818" y="780" width="23" height="20" fill="#4d4dff"/>
<rect x="841" y="780" width="24" height="20" fill="#ededff"/>
<rect x="912" y="780" width="23" height="20" fill="#ffe0e0"/>
<rect x="935" y="780" width="24" height="20" fill="#fff7f7"/>
<rect x="959" y="780" width="23" height="20" fill="#d1d1ff"/>
<rect x="982" y="780" width="24" height="20" fill="#c2c2ff"/>
<rect x="1006" y="780" width="47" height="20" fill="#9999ff"/>
<rect x="1053" y="780" width="23" height="20" fill="#ededff"/>
<rect x="1100" y="780" width="24" height="20" fill="#ffe0e0"/>
<rect x="1124" y="780" width="23" height="20" fill="#ff6666"/>
<rect x="1147" y="780" width="24" height="20" fill="#ff3333"/>
<rect x="1171" y="780" width="47" height="20" fill="#ff0000"/>
<rect x="1218" y="780" width="47" height="20" fill="#ff3333"/>
<rect x="1265" y="780" width="23" height="20" fill="#ff8080"/>
<rect x="1288" y="780" width="24" height="20" fill="#ff9999"/>
<rect x="1312" y="780" width="23" height="20" fill="#ffadad"/>
<rect x="1335" y="780" width="24" height="20" fill="#ffd1d1"/>
<rect x="1359" y="780" width="23" height="20" fill="#ffeded"/>
<rect x="1382" y="780" width="24" height="20" fill="#fff7f7"/>
<rect x="1406" y="780" width="70" height="20" fill="#f7f7ff"/>
<rect x="1476" y="780" width="24" height="20" fill="#e0e0ff"/>
<rect x="300" y="800" width="47" height="20" fill="#fff7f7"/>
<rect x="394" y="800" width="24" height="20" fill="#fff7f7"/>
<rect x="441" y="800" width="47" height="20" fill="#f7f7ff"/>
<rect x="512" y="800" width="23" height="20" fill="#f7f7ff"/>
<rect x="559" y="800" width="47" height="20" fill="#ededff"/>
<rect x="606" y="800" width="23" height="20" fill="#d1d1ff"/>
<rect x="629" y="800" width="24" height="20" fill="#adadff"/>
<rect x="653" y="800" width="23" height="20" fill="#9999ff"/>
<rect x="676" y="800" width="24" height="20" fill="#6666ff"/>
<rect x="700" y="800" width="24" height="20" fill="#4d4dff"/>
<rect x="724" y="800" width="23" height="20" fill="#1919ff"/>
<rect x="747" y="800" width="24" height="20" fill="#0000ff"/>
<rect x="771" y="800" width="23" height="20" fill="#0000e2"/>
<rect x="794" y="800" width="24" height="20" fill="#1919ff"/>
<rect x="818" y="800" width="23" height="20" fill="#4d4dff"/>
<rect x="841" y="800" width="24" height="20" fill="#9999ff"/>
<rect x="865" y="800" width="23" height="20" fill="#ffe0e0"/>
<rect x="888" y="800" width="24" height="20" fill="#ffd1d1"/>
<rect x="912" y="800" width="23" height="20" fill="#ffeded"/>
<rect x="935" y="800" width="24" height="20" fill="#fff7f7"/>
<rect x="959" y="800" width="23" height="20" fill="#c2c2ff"/>
<rect x="982" y="800" width="24" height="20" fill="#d1d1ff"/>
<rect x="1006" y="800" width="23" height="20" fill="#adadff"/>
<rect x="1029" y="800" width="24" height="20" fill="#c2c2ff"/>
<rect x="1053" y="800" width="47" height="20" fill="#ededff"/>
<rect x="1100" y="800" width="24" height="20" fill="#ffc2c2"/>
<rect x="1124" y="800" width="23" height="20" fill="#ff6666"/>
<rect x="1147" y="800" width="24" height="20" fill="#ff1919"/>
<rect x="1171" y="800" width="70" height="20" fill="#ff0000"/>
<rect x="1241" y="800" width="24" height="20" fill="#ff3333"/>
<rect x="1265" y="800" width="23" height="20" fill="#ff8080"/>
<rect x="1288" y="800" width="24" height="20" fill="#ff9999"/>
<rect x="1312" y="800" width="23" height="20" fill="#ffadad"/>
<rect x="1335" y="800" width="24" height="20" fill="#ffd1d1"/>
<rect x="1359" y="800" width="23" height="20" fill="#ffe0e0"/>
<rect x="1429" y="800" width="71" height="20" fill="#f7f7ff"/>
<rect x="324" y="820" width="47" height="20" fill="#fff7f7"/>
<rect x="441" y="820" width="24" height="20" fill="#ededff"/>
<rect x="465" y="820" width="47" height="20" fill="#f7f7ff"/>
<rect x="582" y="820" width="24" height="20" fill="#d1d1ff"/>
<rect x="606" y="820" width="23" height="20" fill="#c2c2ff"/>
<rect x="629" y="820" width="47" height="20" fill="#9999ff"/>
<rect x="676" y="820" width="24" height="20" fill="#6666ff"/>
<rect x="700" y="820" width="24" height="20" fill="#3333ff"/>
<rect x="724" y="820" width="23" height="20" fill="#1919ff"/>
<rect x="747" y="820" width="47" height="20" fill="#0000ff"/>
<rect x="794" y="820" width="24" height="20" fill="#1919ff"/>
<rect x="818" y="820" width="23" height="20" fill="#8080ff"/>
<rect x="841" y="820" width="24" height="20" fill="#c2c2ff"/>
<rect x="865" y="820" width="23" height="20" fill="#e0e0ff"/>
<rect x="888" y="820" width="24" height="20" fill="#ffd1d1"/>
<rect x="912" y="820" width="23" height="20" fill="#ffadad"/>
<rect x="935" y="820" width="24" height="20" fill="#fff7f7"/>
<rect x="959" y="820" width="23" height="20" fill="#d1d1ff"/>
<rect x="982" y="820" width="24" height="20" fill="#c2c2ff"/>
<rect x="1006" y="820" width="23" height="20" fill="#8080ff"/>
<rect x="1029" y="820" width="24" height="20" fill="#adadff"/>
<rect x="1053" y="820" width="23" height="20" fill="#d1d1ff"/>
<rect x="1100" y="820" width="24" height="20" fill="#ffc2c2"/>
<rect x="1124" y="820" width="23" height="20" fill="#ff8080"/>
<rect x="1147" y="820" width="24" height="20" fill="#ff3333"/>
<rect x="1171" y="820" width="70" height="20" fill="#ff0000"/>
<rect x="1241" y="820" width="24" height="20" fill="#ff1919"/>
<rect x="1265" y="820" width="23" height="20" fill="#ff6666"/>
<rect x="1288" y="820" width="24" height="20" fill="#ff8080"/>
<rect x="1312" y="820" width="23" height="20" fill="#ffadad"/>
<rect x="1335" y="820" width="24" height="20" fill="#ffd1d1"/>
<rect x="1359" y="820" width="23" height="20" fill="#ffeded"/>
<rect x="1382" y="820" width="24" height="20" fill="#fff7f7"/>
<rect x="1406" y="820" width="23" height="20" fill="#f7f7ff"/>
<rect x="1453" y="820" width="23" height="20" fill="#f7f7ff"/>
<rect x="1476" y="820" width="24" height="20" fill="#ededff"/>
<rect x="300" y="840" width="71" height="20" fill="#fff7f7"/>
<rect x="394" y="840" width="24" height="20" fill="#fff7f7"/>
<rect x="441" y="840" width="24" height="20" fill="#fff7f7"/>
<rect x="465" y="840" width="23" height="20" fill="#ffeded"/>
<rect x="488" y="840" width="24" height="20" fill="#ededff"/>
<rect x="512" y="840" width="23" height="20" fill="#fff7f7"/>
<rect x="535" y="840" width="24" height="20" fill="#f7f7ff"/>
<rect x="559" y="840" width="23" height="20" fill="#d1d1ff"/>
<rect x="582" y="840" width="24" height="20" fill="#ededff"/>
<rect x="606" y="840" width="23" height="20" fill="#d1d1ff"/>
<rect x="629" y="840" width="47" height="20" fill="#9999ff"/>
<rect x="676" y="840" width="24" height="20" fill="#6666ff"/>
<rect x="700" y="840" width="24" height="20" fill="#3333ff"/>
<rect x="724" y="840" width="94" height="20" fill="#1919ff"/>
<rect x="818" y="840" width="23" height="20" fill="#6666ff"/>
<rect x="841" y="840" width="24" height="20" fill="#d1d1ff"/>
<rect x="865" y="840" width="47" height="20" fill="#f7f7ff"/>
<rect x="912" y="840" width="23" height="20" fill="#ffeded"/>
<rect x="935" y="840" width="24" height="20" fill="#f7f7ff"/>
<rect x="959" y="840" width="23" height="20" fill="#c2c2ff"/>
<rect x="982" y="840" width="24" height="20" fill="#9999ff"/>
<rect x="1006" y="840" width="47" height="20" fill="#adadff"/>
<rect x="1053" y="840" width="23" height="20" fill="#c2c2ff"/>
<rect x="1076" y="840" width="24" height="20" fill="#fff7f7"/>
<rect x="1100" y="840" width="24" height="20" fill="#ffd1d1"/>
<rect x="1124" y="840" width="23" height="20" fill="#ff8080"/>
<rect x="1147" y="840" width="24" height="20" fill="#ff3333"/>
<rect x="1171" y="840" width="70" height="20" fill="#ff0000"/>
<rect x="1241" y="840" width="24" height="20" fill="#ff4d4d"/>
<rect x="1265" y="840" width="23" height="20" fill="#ff6666"/>
<rect x="1288" y="840" width="24" height="20" fill="#ff9999"/>
<rect x="1312" y="840" width="23" height="20" fill="#ffadad"/>
<rect x="1335" y="840" width="24" height="20" fill="#ffc2c2"/>
<rect x="1359" y="840" width="23" height="20" fill="#ffeded"/>
<rect x="1382" y="840" width="118" height="20" fill="#f7f7ff"/>
<rect x="347" y="860" width="24" height="20" fill="#fff7f7"/>
<rect x="418" y="860" width="23" height="20" fill="#ffeded"/>
<rect x="465" y="860" width="23" height="20" fill="#f7f7ff"/>
<rect x="488" y="860" width="24" height="20" fill="#ffe0e0"/>
<rect x="512" y="860" width="23" height="20" fill="#ffeded"/>
<rect x="535" y="860" width="24" height="20" fill="#fff7f7"/>
<rect x="559" y="860" width="23" height="20" fill="#d1d1ff"/>
<rect x="582" y="860" width="24" height="20" fill="#e0e0ff"/>
<rect x="606" y="860" width="23" height="20" fill="#d1d1ff"/>
<rect x="629" y="860" width="24" height="20" fill="#9999ff"/>
<rect x="653" y="860" width="23" height="20" fill="#adadff"/>
<rect x="676" y="860" width="24" height="20" fill="#6666ff"/>
<rect x="700" y="860" width="24" height="20" fill="#4d4dff"/>
<rect x="724" y="860" width="23" height="20" fill="#1919ff"/>
<rect x="747" y="860" width="71" height="20" fill="#0000ff"/>
<rect x="818" y="860" width="47" height="20" fill="#9999ff"/>
<rect x="865" y="860" width="23" height="20" fill="#e0e0ff"/>
<rect x="888" y="860" width="24" height="20" fill="#fff7f7"/>
<rect x="912" y="860" width="23" height="20" fill="#f7f7ff"/>
<rect x="935" y="860" width="24" height="20" fill="#fff7f7"/>
<rect x="959" y="860" width="23" height="20" fill="#c2c2ff"/>
<rect x="982" y="860" width="24" height="20" fill="#9999ff"/>
<rect x="1006" y="860" width="23" height="20" fill="#8080ff"/>
<rect x="1029" y="860" width="24" height="20" fill="#9999ff"/>
<rect x="1053" y="860" width="23" height="20" fill="#e0e0ff"/>
<rect x="1076" y="860" width="24" height="20" fill="#fff7f7"/>
<rect x="1100" y="860" width="24" height="20" fill="#ffe0e0"/>
<rect x="1124" y="860" width="23" height="20" fill="#ff6666"/>
<rect x="1147" y="860" width="24" height="20" fill="#ff4d4d"/>
<rect x="1171" y="860" width="47" height="20" fill="#ff0000"/>
<rect x="1218" y="860" width="23" height="20" fill="#ff1919"/>
<rect x="1241" y="860" width="24" height="20" fill="#ff3333"/>
<rect x="1265" y="860" width="23" height="20" fill="#ff6666"/>
<rect x="1288" y="860" width="24" height="20" fill="#ff9999"/>
<rect x="1312" y="860" width="23" height="20" fill="#ffadad"/>
<rect x="1335" y="860" width="24" height="20" fill="#ffc2c2"/>
<rect x="1359" y="860" width="23" height="20" fill="#ffe0e0"/>
<rect x="1382" y="860" width="24" height="20" fill="#fff7f7"/>
<rect x="1406" y="860" width="94" height="20" fill="#f7f7ff"/>
<rect x="324" y="880" width="23" height="20" fill="#fff7f7"/>
<rect x="371" y="880" width="23" height="20" fill="#fff7f7"/>
<rect x="418" y="880" width="23" height="20" fill="#fff7f7"/>
<rect x="465" y="880" width="23" height="20" fill="#f7f7ff"/>
<rect x="512" y="880" width="23" height="20" fill="#f7f7ff"/>
<rect x="535" y="880" width="24" height="20" fill="#fff7f7"/>
<rect x="559" y="880" width="23" height="20" fill="#e0e0ff"/>
<rect x="582" y="880" width="24" height="20" fill="#f7f7ff"/>
<rect x="606" y="880" width="23" height="20" fill="#e0e0ff"/>
<rect x="629" y="880" width="24" height="20" fill="#adadff"/>
<rect x="653" y="880" width="23" height="20" fill="#9999ff"/>
<rect x="676" y="880" width="24" height="20" fill="#8080ff"/>
<rect x="700" y="880" width="24" height="20" fill="#3333ff"/>
<rect x="724" y="880" width="47" height="20" fill="#1919ff"/>
<rect x="771" y="880" width="47" height="20" fill="#0000ff"/>
<rect x="818" y="880" width="23" height="20" fill="#8080ff"/>
<rect x="841" y="880" width="24" height="20" fill="#d1d1ff"/>
<rect x="865" y="880" width="23" height="20" fill="#fff7f7"/>
<rect x="888" y="880" width="24" height="20" fill="#ffe0e0"/>
<rect x="912" y="880" width="23" height="20" fill="#ffc2c2"/>
<rect x="959" y="880" width="23" height="20" fill="#e0e0ff"/>
<rect x="982" y="880" width="47" height="20" fill="#adadff"/>
<rect x="1029" y="880" width="47" height="20" fill="#c2c2ff"/>
<rect x="1076" y="880" width="24" height="20" fill="#fff7f7"/>
<rect x="1100" y="880" width="24" height="20" fill="#ffc2c2"/>
<rect x="1124" y="880" width="23" height="20" fill="#ff8080"/>
<rect x="1147" y="880" width="24" height="20" fill="#ff3333"/>
<rect x="1171" y="880" width="23" height="20" fill="#ff1919"/>
<rect x="1194" y="880" width="24" height="20" fill="#ff0000"/>
<rect x="1218" y="880" width="23" height="20" fill="#ff1919"/>
<rect x="1241" y="880" width="24" height="20" fill="#ff3333"/>
<rect x="1265" y="880" width="23" height="20" fill="#ff6666"/>
<rect x="1288" y="880" width="24" height="20" fill="#ff9999"/>
<rect x="1312" y="880" width="23" height="20" fill="#ffadad"/>
<rect x="1335" y="880" width="24" height="20" fill="#ffc2c2"/>
<rect x="1359" y="880" width="23" height="20" fill="#ffe0e0"/>
<rect x="1382" y="880" width="24" height="20" fill="#fff7f7"/>
<rect x="1406" y="880" width="94" height="20" fill="#f7f7ff"/>
</g>
<rect x="1163" y="300" width="17" height="600" fill="#000" fill-opacity="0.25"/>
<line x1="418.0" y1="900" x2="418.0" y2="300" stroke="#000" stroke-width="2" stroke-dasharray="4.17 12.5"/>
<line x1="607.8" y1="900" x2="607.8" y2="300" stroke="#000" stroke-width="2" stroke-dasharray="4.17 12.5"/>
<line x1="797.6" y1="900" x2="797.6" y2="300" stroke="#000" stroke-width="2" stroke-dasharray="4.17 12.5"/>
<line x1="987.4" y1="900" x2="987.4" y2="300" stroke="#000" stroke-width="2" stroke-dasharray="4.17 12.5"/>
<line x1="1177.2" y1="900" x2="1177.2" y2="300" stroke="#000" stroke-width="2" stroke-dasharray="4.17 12.5"/>
<line x1="1367.0" y1="900" x2="1367.0" y2="300" stroke="#000" stroke-width="2" stroke-dasharray="4.17 12.5"/>
<line x1="300" y1="400.0" x2="1500" y2="400.0" stroke="#000" stroke-width="2" stroke-dasharray="4.17 12.5"/>
<line x1="300" y1="600.0" x2="1500" y2="600.0" stroke="#000" stroke-width="2" stroke-dasharray="4.17 12.5"/>
<line x1="300" y1="700.0" x2="1500" y2="700.0" stroke="#000" stroke-width="2" stroke-dasharray="4.17 12.5"/>
<line x1="300" y1="800.0" x2="1500" y2="800.0" stroke="#000" stroke-width="2" stroke-dasharray="4.17 12.5"/>
<line x1="300" y1="500" x2="1500" y2="500" stroke="#000" stroke-width="4"/>
<path d="M418.0 300V320M418.0 900V879.5M607.8 300V320M607.8 900V879.5M797.6 300V320M797.6 900V879.5M987.4 300V320M987.4 900V879.5M1177.2 300V320M1177.2 900V879.5M1367.0 300V320M1367.0 900V879.5M300 300H320.5M1500 300H1479.5M300 400H320.5M1500 400H1479.5M300 500H320.5M1500 500H1479.5M300 600H320.5M1500 600H1479.5M300 700H320.5M1500 700H1479.5M300 800H320.5M1500 800H1479.5M300 900H320.5M1500 900H1479.5" stroke="#000" stroke-width="2" fill="none"/>
<rect x="300" y="300" width="1200" height="600" fill="none" stroke="#000" stroke-width="4"/>
<text x="282.5" y="317.3" text-anchor="end" style="font-family:'DejaVu Sans','Liberation Sans',sans-serif;font-size:58.33px">1.0</text>
<text x="282.5" y="417.3" text-anchor="end" style="font-family:'DejaVu Sans','Liberation Sans',sans-serif;font-size:58.33px">0.5</text>
<text x="282.5" y="517.3" text-anchor="end" style="font-family:'DejaVu Sans','Liberation Sans',sans-serif;font-size:58.33px">0.0</text>
<text x="282.5" y="617.3" text-anchor="end" style="font-family:'DejaVu Sans','Liberation Sans',sans-serif;font-size:58.33px">−0.5</text>
<text x="282.5" y="717.3" text-anchor="end" style="font-family:'DejaVu Sans','Liberation Sans',sans-serif;font-size:58.33px">−1.0</text>
<text x="282.5" y="817.3" text-anchor="end" style="font-family:'DejaVu Sans','Liberation Sans',sans-serif;font-size:58.33px">−1.5</text>
<text x="282.5" y="917.3" text-anchor="end" style="font-family:'DejaVu Sans','Liberation Sans',sans-serif;font-size:58.33px">−2.0</text>
<g transform="translate(0 600) rotate(-90)">
<text transform="matrix(0.7551 0 0 0.6189 -104.29 102.98)" style="font-family:'DejaVu Serif',serif;font-style:italic;font-size:100px">τ</text>
<text transform="matrix(0.5144 0 0 0.5446 -68.36 116.00)" style="font-family:'Liberation Serif',serif;font-size:100px">21</text>
<text transform="matrix(0.4385 0 0 0.5522 2.45 106.70)" style="font-family:'Liberation Serif',serif;font-size:100px">(</text>
<text transform="matrix(0.6122 0 0 0.6167 18.49 105.05)" style="font-family:'DejaVu Sans',sans-serif;font-size:100px">p</text>
<text transform="matrix(0.5881 0 0 0.6172 56.36 103.18)" style="font-family:'DejaVu Sans',sans-serif;font-size:100px">s</text>
<text transform="matrix(0.4385 0 0 0.5433 86.48 105.49)" style="font-family:'Liberation Serif',serif;font-size:100px">)</text>
</g>
<rect x="334" y="334" width="434.0" height="117" fill="#fff" fill-opacity="0.75" stroke="#000" stroke-opacity="0.75" stroke-width="4"/>
<text x="354" y="413.7" style="font-family:'DejaVu Sans','Liberation Sans',sans-serif;font-size:76px">500 single</text>
<g shape-rendering="crispEdges">
<rect x="300" y="975" width="24" height="20" fill="#f7f7ff"/>
<rect x="324" y="975" width="23" height="20" fill="#fff7f7"/>
<rect x="371" y="975" width="23" height="20" fill="#f7f7ff"/>
<rect x="394" y="975" width="24" height="20" fill="#e0e0ff"/>
<rect x="418" y="975" width="23" height="20" fill="#ffeded"/>
<rect x="441" y="975" width="24" height="20" fill="#ffd1d1"/>
<rect x="465" y="975" width="23" height="20" fill="#ffeded"/>
<rect x="488" y="975" width="24" height="20" fill="#d1d1ff"/>
<rect x="512" y="975" width="23" height="20" fill="#ff9999"/>
<rect x="535" y="975" width="47" height="20" fill="#e0e0ff"/>
<rect x="582" y="975" width="24" height="20" fill="#adadff"/>
<rect x="606" y="975" width="23" height="20" fill="#f7f7ff"/>
<rect x="653" y="975" width="23" height="20" fill="#ffe0e0"/>
<rect x="676" y="975" width="24" height="20" fill="#ffeded"/>
<rect x="700" y="975" width="24" height="20" fill="#ffd1d1"/>
<rect x="747" y="975" width="24" height="20" fill="#ff9999"/>
<rect x="771" y="975" width="23" height="20" fill="#ffeded"/>
<rect x="794" y="975" width="24" height="20" fill="#ffe0e0"/>
<rect x="818" y="975" width="23" height="20" fill="#ffd1d1"/>
<rect x="865" y="975" width="23" height="20" fill="#e0e0ff"/>
<rect x="888" y="975" width="24" height="20" fill="#c2c2ff"/>
<rect x="912" y="975" width="47" height="20" fill="#e0e0ff"/>
<rect x="959" y="975" width="23" height="20" fill="#ffd1d1"/>
<rect x="982" y="975" width="24" height="20" fill="#e0e0ff"/>
<rect x="1006" y="975" width="23" height="20" fill="#f7f7ff"/>
<rect x="1029" y="975" width="24" height="20" fill="#ffe0e0"/>
<rect x="1053" y="975" width="23" height="20" fill="#ededff"/>
<rect x="1076" y="975" width="24" height="20" fill="#f7f7ff"/>
<rect x="1124" y="975" width="23" height="20" fill="#f7f7ff"/>
<rect x="1171" y="975" width="47" height="20" fill="#ffeded"/>
<rect x="1265" y="975" width="23" height="20" fill="#fff7f7"/>
<rect x="1288" y="975" width="24" height="20" fill="#f7f7ff"/>
<rect x="1312" y="975" width="23" height="20" fill="#fff7f7"/>
<rect x="1335" y="975" width="24" height="20" fill="#f7f7ff"/>
<rect x="1382" y="975" width="47" height="20" fill="#fff7f7"/>
<rect x="1429" y="975" width="24" height="20" fill="#f7f7ff"/>
<rect x="1476" y="975" width="24" height="20" fill="#ededff"/>
<rect x="347" y="995" width="24" height="20" fill="#ffeded"/>
<rect x="371" y="995" width="23" height="20" fill="#f7f7ff"/>
<rect x="394" y="995" width="24" height="20" fill="#ffeded"/>
<rect x="418" y="995" width="23" height="20" fill="#ededff"/>
<rect x="441" y="995" width="24" height="20" fill="#e0e0ff"/>
<rect x="465" y="995" width="23" height="20" fill="#ffd1d1"/>
<rect x="488" y="995" width="24" height="20" fill="#adadff"/>
<rect x="512" y="995" width="23" height="20" fill="#ffeded"/>
<rect x="535" y="995" width="24" height="20" fill="#fff7f7"/>
<rect x="559" y="995" width="23" height="20" fill="#e0e0ff"/>
<rect x="582" y="995" width="24" height="20" fill="#c2c2ff"/>
<rect x="606" y="995" width="23" height="20" fill="#ededff"/>
<rect x="629" y="995" width="24" height="20" fill="#d1d1ff"/>
<rect x="653" y="995" width="23" height="20" fill="#ffadad"/>
<rect x="676" y="995" width="24" height="20" fill="#ffd1d1"/>
<rect x="700" y="995" width="24" height="20" fill="#e0e0ff"/>
<rect x="724" y="995" width="23" height="20" fill="#ffd1d1"/>
<rect x="747" y="995" width="24" height="20" fill="#8080ff"/>
<rect x="771" y="995" width="47" height="20" fill="#ffd1d1"/>
<rect x="818" y="995" width="47" height="20" fill="#d1d1ff"/>
<rect x="865" y="995" width="23" height="20" fill="#ffeded"/>
<rect x="888" y="995" width="24" height="20" fill="#e0e0ff"/>
<rect x="912" y="995" width="23" height="20" fill="#ff8080"/>
<rect x="935" y="995" width="47" height="20" fill="#ffadad"/>
<rect x="982" y="995" width="24" height="20" fill="#e0e0ff"/>
<rect x="1006" y="995" width="47" height="20" fill="#ededff"/>
<rect x="1053" y="995" width="23" height="20" fill="#ffe0e0"/>
<rect x="1076" y="995" width="24" height="20" fill="#f7f7ff"/>
<rect x="1124" y="995" width="23" height="20" fill="#ededff"/>
<rect x="1218" y="995" width="23" height="20" fill="#fff7f7"/>
<rect x="1288" y="995" width="24" height="20" fill="#ffeded"/>
<rect x="1312" y="995" width="47" height="20" fill="#fff7f7"/>
<rect x="1406" y="995" width="23" height="20" fill="#e0e0ff"/>
<rect x="1429" y="995" width="24" height="20" fill="#ededff"/>
<rect x="1476" y="995" width="24" height="20" fill="#f7f7ff"/>
<rect x="394" y="1015" width="24" height="20" fill="#fff7f7"/>
<rect x="418" y="1015" width="47" height="20" fill="#f7f7ff"/>
<rect x="465" y="1015" width="23" height="20" fill="#fff7f7"/>
<rect x="488" y="1015" width="24" height="20" fill="#f7f7ff"/>
<rect x="535" y="1015" width="47" height="20" fill="#fff7f7"/>
<rect x="582" y="1015" width="24" height="20" fill="#f7f7ff"/>
<rect x="606" y="1015" width="23" height="20" fill="#fff7f7"/>
<rect x="629" y="1015" width="24" height="20" fill="#f7f7ff"/>
<rect x="653" y="1015" width="23" height="20" fill="#ffeded"/>
<rect x="676" y="1015" width="24" height="20" fill="#e0e0ff"/>
<rect x="700" y="1015" width="24" height="20" fill="#ededff"/>
<rect x="724" y="1015" width="23" height="20" fill="#8080ff"/>
<rect x="747" y="1015" width="24" height="20" fill="#ffc2c2"/>
<rect x="771" y="1015" width="23" height="20" fill="#d1d1ff"/>
<rect x="794" y="1015" width="47" height="20" fill="#ffeded"/>
<rect x="841" y="1015" width="24" height="20" fill="#e0e0ff"/>
<rect x="865" y="1015" width="23" height="20" fill="#ededff"/>
<rect x="888" y="1015" width="24" height="20" fill="#ff8080"/>
<rect x="912" y="1015" width="23" height="20" fill="#adadff"/>
<rect x="935" y="1015" width="24" height="20" fill="#f7f7ff"/>
<rect x="959" y="1015" width="23" height="20" fill="#ff9999"/>
<rect x="982" y="1015" width="24" height="20" fill="#adadff"/>
<rect x="1076" y="1015" width="24" height="20" fill="#fff7f7"/>
<rect x="1100" y="1015" width="47" height="20" fill="#f7f7ff"/>
<rect x="1171" y="1015" width="70" height="20" fill="#fff7f7"/>
<rect x="1241" y="1015" width="24" height="20" fill="#ededff"/>
<rect x="1265" y="1015" width="47" height="20" fill="#fff7f7"/>
<rect x="1312" y="1015" width="47" height="20" fill="#ffeded"/>
<rect x="1359" y="1015" width="23" height="20" fill="#fff7f7"/>
<rect x="1382" y="1015" width="24" height="20" fill="#ededff"/>
<rect x="1406" y="1015" width="23" height="20" fill="#fff7f7"/>
<rect x="1453" y="1015" width="23" height="20" fill="#ededff"/>
<rect x="324" y="1035" width="23" height="20" fill="#e0e0ff"/>
<rect x="394" y="1035" width="24" height="20" fill="#fff7f7"/>
<rect x="418" y="1035" width="23" height="20" fill="#f7f7ff"/>
<rect x="488" y="1035" width="24" height="20" fill="#f7f7ff"/>
<rect x="512" y="1035" width="23" height="20" fill="#ffe0e0"/>
<rect x="535" y="1035" width="24" height="20" fill="#fff7f7"/>
<rect x="582" y="1035" width="24" height="20" fill="#f7f7ff"/>
<rect x="629" y="1035" width="24" height="20" fill="#ededff"/>
<rect x="653" y="1035" width="47" height="20" fill="#ffe0e0"/>
<rect x="700" y="1035" width="24" height="20" fill="#ff6666"/>
<rect x="724" y="1035" width="23" height="20" fill="#ffadad"/>
<rect x="747" y="1035" width="24" height="20" fill="#ff8080"/>
<rect x="771" y="1035" width="23" height="20" fill="#adadff"/>
<rect x="794" y="1035" width="24" height="20" fill="#fff7f7"/>
<rect x="818" y="1035" width="23" height="20" fill="#d1d1ff"/>
<rect x="841" y="1035" width="24" height="20" fill="#ffd1d1"/>
<rect x="865" y="1035" width="23" height="20" fill="#ffe0e0"/>
<rect x="888" y="1035" width="24" height="20" fill="#ffd1d1"/>
<rect x="912" y="1035" width="23" height="20" fill="#ffc2c2"/>
<rect x="935" y="1035" width="47" height="20" fill="#ff9999"/>
<rect x="982" y="1035" width="24" height="20" fill="#c2c2ff"/>
<rect x="1006" y="1035" width="23" height="20" fill="#ededff"/>
<rect x="1029" y="1035" width="24" height="20" fill="#f7f7ff"/>
<rect x="1053" y="1035" width="23" height="20" fill="#ffe0e0"/>
<rect x="1076" y="1035" width="24" height="20" fill="#f7f7ff"/>
<rect x="1124" y="1035" width="47" height="20" fill="#fff7f7"/>
<rect x="1194" y="1035" width="47" height="20" fill="#fff7f7"/>
<rect x="1288" y="1035" width="24" height="20" fill="#f7f7ff"/>
<rect x="1335" y="1035" width="24" height="20" fill="#f7f7ff"/>
<rect x="1382" y="1035" width="24" height="20" fill="#f7f7ff"/>
<rect x="1406" y="1035" width="23" height="20" fill="#fff7f7"/>
<rect x="1453" y="1035" width="47" height="20" fill="#fff7f7"/>
<rect x="418" y="1055" width="23" height="20" fill="#fff7f7"/>
<rect x="465" y="1055" width="23" height="20" fill="#e0e0ff"/>
<rect x="512" y="1055" width="23" height="20" fill="#fff7f7"/>
<rect x="535" y="1055" width="24" height="20" fill="#ffe0e0"/>
<rect x="582" y="1055" width="24" height="20" fill="#e0e0ff"/>
<rect x="629" y="1055" width="24" height="20" fill="#ffeded"/>
<rect x="653" y="1055" width="47" height="20" fill="#ffe0e0"/>
<rect x="700" y="1055" width="24" height="20" fill="#8080ff"/>
<rect x="724" y="1055" width="23" height="20" fill="#f7f7ff"/>
<rect x="747" y="1055" width="24" height="20" fill="#ff8080"/>
<rect x="771" y="1055" width="23" height="20" fill="#ffe0e0"/>
<rect x="794" y="1055" width="24" height="20" fill="#c2c2ff"/>
<rect x="818" y="1055" width="23" height="20" fill="#fff7f7"/>
<rect x="841" y="1055" width="24" height="20" fill="#ffe0e0"/>
<rect x="865" y="1055" width="23" height="20" fill="#ededff"/>
<rect x="888" y="1055" width="24" height="20" fill="#8080ff"/>
<rect x="912" y="1055" width="47" height="20" fill="#adadff"/>
<rect x="959" y="1055" width="23" height="20" fill="#ffadad"/>
<rect x="982" y="1055" width="24" height="20" fill="#adadff"/>
<rect x="1029" y="1055" width="47" height="20" fill="#fff7f7"/>
<rect x="1076" y="1055" width="24" height="20" fill="#e0e0ff"/>
<rect x="1124" y="1055" width="23" height="20" fill="#f7f7ff"/>
<rect x="1147" y="1055" width="24" height="20" fill="#fff7f7"/>
<rect x="1171" y="1055" width="47" height="20" fill="#f7f7ff"/>
<rect x="1218" y="1055" width="23" height="20" fill="#fff7f7"/>
<rect x="1241" y="1055" width="24" height="20" fill="#f7f7ff"/>
<rect x="1288" y="1055" width="47" height="20" fill="#f7f7ff"/>
<rect x="1335" y="1055" width="24" height="20" fill="#ffeded"/>
<rect x="1382" y="1055" width="24" height="20" fill="#f7f7ff"/>
<rect x="1406" y="1055" width="23" height="20" fill="#fff7f7"/>
<rect x="1429" y="1055" width="24" height="20" fill="#ededff"/>
<rect x="1453" y="1055" width="23" height="20" fill="#f7f7ff"/>
<rect x="1476" y="1055" width="24" height="20" fill="#fff7f7"/>
<rect x="300" y="1075" width="24" height="20" fill="#f7f7ff"/>
<rect x="441" y="1075" width="47" height="20" fill="#e0e0ff"/>
<rect x="629" y="1075" width="24" height="20" fill="#f7f7ff"/>
<rect x="676" y="1075" width="24" height="20" fill="#e0e0ff"/>
<rect x="700" y="1075" width="24" height="20" fill="#ffc2c2"/>
<rect x="724" y="1075" width="23" height="20" fill="#fff7f7"/>
<rect x="747" y="1075" width="24" height="20" fill="#adadff"/>
<rect x="771" y="1075" width="23" height="20" fill="#ffadad"/>
<rect x="794" y="1075" width="24" height="20" fill="#c2c2ff"/>
<rect x="818" y="1075" width="23" height="20" fill="#ededff"/>
<rect x="841" y="1075" width="24" height="20" fill="#ffd1d1"/>
<rect x="865" y="1075" width="47" height="20" fill="#fff7f7"/>
<rect x="912" y="1075" width="47" height="20" fill="#ff8080"/>
<rect x="959" y="1075" width="23" height="20" fill="#ffadad"/>
<rect x="982" y="1075" width="24" height="20" fill="#e0e0ff"/>
<rect x="1029" y="1075" width="47" height="20" fill="#f7f7ff"/>
<rect x="1076" y="1075" width="24" height="20" fill="#ffeded"/>
<rect x="1100" y="1075" width="24" height="20" fill="#ededff"/>
<rect x="1124" y="1075" width="23" height="20" fill="#ffeded"/>
<rect x="1194" y="1075" width="24" height="20" fill="#f7f7ff"/>
<rect x="1241" y="1075" width="24" height="20" fill="#f7f7ff"/>
<rect x="1265" y="1075" width="70" height="20" fill="#fff7f7"/>
<rect x="1335" y="1075" width="24" height="20" fill="#f7f7ff"/>
<rect x="1359" y="1075" width="23" height="20" fill="#fff7f7"/>
<rect x="1382" y="1075" width="47" height="20" fill="#f7f7ff"/>
<rect x="1429" y="1075" width="71" height="20" fill="#fff7f7"/>
<rect x="418" y="1095" width="23" height="20" fill="#ffeded"/>
<rect x="441" y="1095" width="24" height="20" fill="#e0e0ff"/>
<rect x="465" y="1095" width="47" height="20" fill="#ffe0e0"/>
<rect x="512" y="1095" width="47" height="20" fill="#fff7f7"/>
<rect x="559" y="1095" width="23" height="20" fill="#ffeded"/>
<rect x="582" y="1095" width="24" height="20" fill="#ffe0e0"/>
<rect x="653" y="1095" width="47" height="20" fill="#e0e0ff"/>
<rect x="700" y="1095" width="24" height="20" fill="#9999ff"/>
<rect x="724" y="1095" width="23" height="20" fill="#ffadad"/>
<rect x="747" y="1095" width="24" height="20" fill="#6666ff"/>
<rect x="771" y="1095" width="23" height="20" fill="#ffc2c2"/>
<rect x="794" y="1095" width="24" height="20" fill="#ffeded"/>
<rect x="818" y="1095" width="23" height="20" fill="#ffe0e0"/>
<rect x="841" y="1095" width="24" height="20" fill="#ffeded"/>
<rect x="865" y="1095" width="23" height="20" fill="#fff7f7"/>
<rect x="888" y="1095" width="24" height="20" fill="#ff8080"/>
<rect x="912" y="1095" width="23" height="20" fill="#8080ff"/>
<rect x="935" y="1095" width="24" height="20" fill="#6666ff"/>
<rect x="959" y="1095" width="23" height="20" fill="#ffe0e0"/>
<rect x="982" y="1095" width="24" height="20" fill="#ffeded"/>
<rect x="1006" y="1095" width="47" height="20" fill="#f7f7ff"/>
<rect x="1053" y="1095" width="47" height="20" fill="#fff7f7"/>
<rect x="1124" y="1095" width="23" height="20" fill="#ffeded"/>
<rect x="1147" y="1095" width="24" height="20" fill="#fff7f7"/>
<rect x="1218" y="1095" width="23" height="20" fill="#ededff"/>
<rect x="1382" y="1095" width="24" height="20" fill="#ffeded"/>
<rect x="1406" y="1095" width="47" height="20" fill="#f7f7ff"/>
<rect x="1476" y="1095" width="24" height="20" fill="#fff7f7"/>
<rect x="300" y="1115" width="24" height="20" fill="#f7f7ff"/>
<rect x="418" y="1115" width="23" height="20" fill="#ffeded"/>
<rect x="441" y="1115" width="24" height="20" fill="#f7f7ff"/>
<rect x="465" y="1115" width="47" height="20" fill="#ffe0e0"/>
<rect x="512" y="1115" width="23" height="20" fill="#ffc2c2"/>
<rect x="535" y="1115" width="24" height="20" fill="#ffe0e0"/>
<rect x="559" y="1115" width="23" height="20" fill="#ededff"/>
<rect x="582" y="1115" width="24" height="20" fill="#ffe0e0"/>
<rect x="676" y="1115" width="24" height="20" fill="#ff8080"/>
<rect x="700" y="1115" width="24" height="20" fill="#ffd1d1"/>
<rect x="724" y="1115" width="23" height="20" fill="#6666ff"/>
<rect x="747" y="1115" width="24" height="20" fill="#ff6666"/>
<rect x="771" y="1115" width="23" height="20" fill="#ffeded"/>
<rect x="794" y="1115" width="24" height="20" fill="#ffe0e0"/>
<rect x="818" y="1115" width="23" height="20" fill="#c2c2ff"/>
<rect x="841" y="1115" width="24" height="20" fill="#d1d1ff"/>
<rect x="865" y="1115" width="23" height="20" fill="#ededff"/>
<rect x="888" y="1115" width="24" height="20" fill="#adadff"/>
<rect x="912" y="1115" width="23" height="20" fill="#ff9999"/>
<rect x="935" y="1115" width="24" height="20" fill="#ffadad"/>
<rect x="959" y="1115" width="23" height="20" fill="#fff7f7"/>
<rect x="982" y="1115" width="24" height="20" fill="#ffe0e0"/>
<rect x="1006" y="1115" width="23" height="20" fill="#f7f7ff"/>
<rect x="1053" y="1115" width="23" height="20" fill="#ffeded"/>
<rect x="1076" y="1115" width="24" height="20" fill="#fff7f7"/>
<rect x="1100" y="1115" width="24" height="20" fill="#ffeded"/>
<rect x="1147" y="1115" width="24" height="20" fill="#ededff"/>
<rect x="1171" y="1115" width="23" height="20" fill="#f7f7ff"/>
<rect x="1194" y="1115" width="24" height="20" fill="#fff7f7"/>
<rect x="1241" y="1115" width="24" height="20" fill="#fff7f7"/>
<rect x="1288" y="1115" width="24" height="20" fill="#f7f7ff"/>
<rect x="1312" y="1115" width="23" height="20" fill="#ffeded"/>
<rect x="1359" y="1115" width="23" height="20" fill="#f7f7ff"/>
<rect x="1382" y="1115" width="24" height="20" fill="#fff7f7"/>
<rect x="1429" y="1115" width="24" height="20" fill="#f7f7ff"/>
<rect x="1453" y="1115" width="23" height="20" fill="#fff7f7"/>
<rect x="324" y="1135" width="23" height="20" fill="#ededff"/>
<rect x="371" y="1135" width="23" height="20" fill="#fff7f7"/>
<rect x="418" y="1135" width="23" height="20" fill="#ffd1d1"/>
<rect x="441" y="1135" width="24" height="20" fill="#ffe0e0"/>
<rect x="465" y="1135" width="23" height="20" fill="#adadff"/>
<rect x="488" y="1135" width="24" height="20" fill="#ff8080"/>
<rect x="512" y="1135" width="23" height="20" fill="#ffd1d1"/>
<rect x="559" y="1135" width="23" height="20" fill="#ffeded"/>
<rect x="582" y="1135" width="24" height="20" fill="#f7f7ff"/>
<rect x="606" y="1135" width="23" height="20" fill="#adadff"/>
<rect x="629" y="1135" width="24" height="20" fill="#ededff"/>
<rect x="653" y="1135" width="23" height="20" fill="#fff7f7"/>
<rect x="676" y="1135" width="24" height="20" fill="#ffeded"/>
<rect x="700" y="1135" width="24" height="20" fill="#d1d1ff"/>
<rect x="724" y="1135" width="23" height="20" fill="#ffd1d1"/>
<rect x="747" y="1135" width="24" height="20" fill="#8080ff"/>
<rect x="771" y="1135" width="23" height="20" fill="#ffe0e0"/>
<rect x="794" y="1135" width="24" height="20" fill="#ff9999"/>
<rect x="818" y="1135" width="23" height="20" fill="#ff1919"/>
<rect x="841" y="1135" width="24" height="20" fill="#eb0000"/>
<rect x="865" y="1135" width="23" height="20" fill="#990000"/>
<rect x="888" y="1135" width="47" height="20" fill="#ff1919"/>
<rect x="935" y="1135" width="24" height="20" fill="#ff6666"/>
<rect x="959" y="1135" width="23" height="20" fill="#ffe0e0"/>
<rect x="982" y="1135" width="24" height="20" fill="#ffadad"/>
<rect x="1006" y="1135" width="23" height="20" fill="#ffd1d1"/>
<rect x="1029" y="1135" width="24" height="20" fill="#ffadad"/>
<rect x="1053" y="1135" width="23" height="20" fill="#ffe0e0"/>
<rect x="1076" y="1135" width="24" height="20" fill="#ff9999"/>
<rect x="1100" y="1135" width="24" height="20" fill="#ff4d4d"/>
<rect x="1124" y="1135" width="23" height="20" fill="#ff6666"/>
<rect x="1147" y="1135" width="24" height="20" fill="#ff9999"/>
<rect x="1171" y="1135" width="23" height="20" fill="#ff3333"/>
<rect x="1194" y="1135" width="24" height="20" fill="#ff8080"/>
<rect x="1218" y="1135" width="23" height="20" fill="#ffadad"/>
<rect x="1241" y="1135" width="24" height="20" fill="#ffeded"/>
<rect x="1288" y="1135" width="24" height="20" fill="#f7f7ff"/>
<rect x="1335" y="1135" width="24" height="20" fill="#ffeded"/>
<rect x="1382" y="1135" width="24" height="20" fill="#f7f7ff"/>
<rect x="1453" y="1135" width="23" height="20" fill="#f7f7ff"/>
<rect x="300" y="1155" width="47" height="20" fill="#fff7f7"/>
<rect x="371" y="1155" width="47" height="20" fill="#f7f7ff"/>
<rect x="418" y="1155" width="23" height="20" fill="#e0e0ff"/>
<rect x="441" y="1155" width="24" height="20" fill="#8080ff"/>
<rect x="488" y="1155" width="47" height="20" fill="#ededff"/>
<rect x="535" y="1155" width="24" height="20" fill="#adadff"/>
<rect x="559" y="1155" width="23" height="20" fill="#ffeded"/>
<rect x="582" y="1155" width="24" height="20" fill="#adadff"/>
<rect x="606" y="1155" width="47" height="20" fill="#9999ff"/>
<rect x="653" y="1155" width="23" height="20" fill="#1919ff"/>
<rect x="676" y="1155" width="24" height="20" fill="#0000c6"/>
<rect x="700" y="1155" width="47" height="20" fill="#0000a9"/>
<rect x="747" y="1155" width="24" height="20" fill="#0000ff"/>
<rect x="771" y="1155" width="23" height="20" fill="#6666ff"/>
<rect x="794" y="1155" width="24" height="20" fill="#ffe0e0"/>
<rect x="818" y="1155" width="23" height="20" fill="#ff3333"/>
<rect x="841" y="1155" width="24" height="20" fill="#c20000"/>
<rect x="865" y="1155" width="23" height="20" fill="#800000"/>
<rect x="888" y="1155" width="47" height="20" fill="#990000"/>
<rect x="935" y="1155" width="24" height="20" fill="#c20000"/>
<rect x="959" y="1155" width="23" height="20" fill="#ff0000"/>
<rect x="982" y="1155" width="24" height="20" fill="#eb0000"/>
<rect x="1006" y="1155" width="23" height="20" fill="#ff1919"/>
<rect x="1029" y="1155" width="47" height="20" fill="#ff0000"/>
<rect x="1076" y="1155" width="24" height="20" fill="#eb0000"/>
<rect x="1100" y="1155" width="24" height="20" fill="#ad0000"/>
<rect x="1124" y="1155" width="23" height="20" fill="#c20000"/>
<rect x="1147" y="1155" width="47" height="20" fill="#990000"/>
<rect x="1194" y="1155" width="47" height="20" fill="#d60000"/>
<rect x="1241" y="1155" width="24" height="20" fill="#eb0000"/>
<rect x="1265" y="1155" width="23" height="20" fill="#ff0000"/>
<rect x="1288" y="1155" width="24" height="20" fill="#ff4d4d"/>
<rect x="1312" y="1155" width="23" height="20" fill="#ffc2c2"/>
<rect x="1335" y="1155" width="24" height="20" fill="#ffeded"/>
<rect x="1359" y="1155" width="23" height="20" fill="#f7f7ff"/>
<rect x="1382" y="1155" width="47" height="20" fill="#d1d1ff"/>
<rect x="1429" y="1155" width="24" height="20" fill="#c2c2ff"/>
<rect x="1453" y="1155" width="23" height="20" fill="#d1d1ff"/>
<rect x="1476" y="1155" width="24" height="20" fill="#ededff"/>
<rect x="300" y="1175" width="24" height="20" fill="#f7f7ff"/>
<rect x="324" y="1175" width="23" height="20" fill="#fff7f7"/>
<rect x="347" y="1175" width="24" height="20" fill="#f7f7ff"/>
<rect x="371" y="1175" width="23" height="20" fill="#fff7f7"/>
<rect x="418" y="1175" width="23" height="20" fill="#e0e0ff"/>
<rect x="441" y="1175" width="24" height="20" fill="#6666ff"/>
<rect x="465" y="1175" width="47" height="20" fill="#ffc2c2"/>
<rect x="512" y="1175" width="23" height="20" fill="#8080ff"/>
<rect x="535" y="1175" width="24" height="20" fill="#e0e0ff"/>
<rect x="559" y="1175" width="23" height="20" fill="#9999ff"/>
<rect x="582" y="1175" width="47" height="20" fill="#8080ff"/>
<rect x="629" y="1175" width="24" height="20" fill="#4d4dff"/>
<rect x="653" y="1175" width="23" height="20" fill="#0000ff"/>
<rect x="676" y="1175" width="24" height="20" fill="#0000c6"/>
<rect x="700" y="1175" width="47" height="20" fill="#6666ff"/>
<rect x="747" y="1175" width="24" height="20" fill="#8080ff"/>
<rect x="771" y="1175" width="23" height="20" fill="#4d4dff"/>
<rect x="794" y="1175" width="24" height="20" fill="#d1d1ff"/>
<rect x="818" y="1175" width="23" height="20" fill="#ff9999"/>
<rect x="841" y="1175" width="24" height="20" fill="#d60000"/>
<rect x="865" y="1175" width="23" height="20" fill="#c20000"/>
<rect x="888" y="1175" width="47" height="20" fill="#990000"/>
<rect x="935" y="1175" width="24" height="20" fill="#d60000"/>
<rect x="959" y="1175" width="70" height="20" fill="#ff9999"/>
<rect x="1029" y="1175" width="24" height="20" fill="#ff6666"/>
<rect x="1053" y="1175" width="23" height="20" fill="#ff8080"/>
<rect x="1076" y="1175" width="24" height="20" fill="#ff1919"/>
<rect x="1100" y="1175" width="24" height="20" fill="#eb0000"/>
<rect x="1124" y="1175" width="70" height="20" fill="#d60000"/>
<rect x="1194" y="1175" width="24" height="20" fill="#eb0000"/>
<rect x="1218" y="1175" width="23" height="20" fill="#ff1919"/>
<rect x="1241" y="1175" width="24" height="20" fill="#ff3333"/>
<rect x="1265" y="1175" width="23" height="20" fill="#ff6666"/>
<rect x="1288" y="1175" width="24" height="20" fill="#ff9999"/>
<rect x="1312" y="1175" width="23" height="20" fill="#ffadad"/>
<rect x="1335" y="1175" width="24" height="20" fill="#ffd1d1"/>
<rect x="1359" y="1175" width="23" height="20" fill="#ffe0e0"/>
<rect x="1382" y="1175" width="24" height="20" fill="#ffeded"/>
<rect x="1429" y="1175" width="24" height="20" fill="#fff7f7"/>
<rect x="1453" y="1175" width="23" height="20" fill="#f7f7ff"/>
<rect x="324" y="1195" width="47" height="20" fill="#f7f7ff"/>
<rect x="371" y="1195" width="47" height="20" fill="#fff7f7"/>
<rect x="418" y="1195" width="23" height="20" fill="#ffeded"/>
<rect x="441" y="1195" width="24" height="20" fill="#d1d1ff"/>
<rect x="465" y="1195" width="23" height="20" fill="#8080ff"/>
<rect x="488" y="1195" width="24" height="20" fill="#fff7f7"/>
<rect x="512" y="1195" width="23" height="20" fill="#adadff"/>
<rect x="535" y="1195" width="47" height="20" fill="#9999ff"/>
<rect x="582" y="1195" width="24" height="20" fill="#adadff"/>
<rect x="606" y="1195" width="23" height="20" fill="#9999ff"/>
<rect x="629" y="1195" width="24" height="20" fill="#6666ff"/>
<rect x="653" y="1195" width="23" height="20" fill="#1919ff"/>
<rect x="676" y="1195" width="24" height="20" fill="#6666ff"/>
<rect x="700" y="1195" width="24" height="20" fill="#0000ff"/>
<rect x="724" y="1195" width="23" height="20" fill="#0000a9"/>
<rect x="747" y="1195" width="24" height="20" fill="#4d4dff"/>
<rect x="771" y="1195" width="47" height="20" fill="#d1d1ff"/>
<rect x="818" y="1195" width="23" height="20" fill="#ffadad"/>
<rect x="841" y="1195" width="24" height="20" fill="#ff1919"/>
<rect x="865" y="1195" width="23" height="20" fill="#eb0000"/>
<rect x="888" y="1195" width="24" height="20" fill="#990000"/>
<rect x="912" y="1195" width="23" height="20" fill="#d60000"/>
<rect x="935" y="1195" width="24" height="20" fill="#ff3333"/>
<rect x="959" y="1195" width="23" height="20" fill="#ff6666"/>
<rect x="982" y="1195" width="24" height="20" fill="#ffd1d1"/>
<rect x="1006" y="1195" width="47" height="20" fill="#ff9999"/>
<rect x="1053" y="1195" width="23" height="20" fill="#ff8080"/>
<rect x="1076" y="1195" width="24" height="20" fill="#ff4d4d"/>
<rect x="1100" y="1195" width="47" height="20" fill="#ff0000"/>
<rect x="1147" y="1195" width="47" height="20" fill="#eb0000"/>
<rect x="1194" y="1195" width="24" height="20" fill="#ff0000"/>
<rect x="1218" y="1195" width="23" height="20" fill="#ff1919"/>
<rect x="1241" y="1195" width="24" height="20" fill="#ff4d4d"/>
<rect x="1265" y="1195" width="23" height="20" fill="#ff8080"/>
<rect x="1288" y="1195" width="24" height="20" fill="#ff9999"/>
<rect x="1312" y="1195" width="23" height="20" fill="#ffc2c2"/>
<rect x="1335" y="1195" width="24" height="20" fill="#ffeded"/>
<rect x="1359" y="1195" width="23" height="20" fill="#ffe0e0"/>
<rect x="1382" y="1195" width="24" height="20" fill="#ededff"/>
<rect x="1406" y="1195" width="23" height="20" fill="#f7f7ff"/>
<rect x="1453" y="1195" width="47" height="20" fill="#f7f7ff"/>
<rect x="300" y="1215" width="24" height="20" fill="#f7f7ff"/>
<rect x="371" y="1215" width="23" height="20" fill="#fff7f7"/>
<rect x="394" y="1215" width="24" height="20" fill="#ededff"/>
<rect x="418" y="1215" width="23" height="20" fill="#ffeded"/>
<rect x="465" y="1215" width="47" height="20" fill="#f7f7ff"/>
<rect x="512" y="1215" width="23" height="20" fill="#d1d1ff"/>
<rect x="535" y="1215" width="24" height="20" fill="#6666ff"/>
<rect x="559" y="1215" width="23" height="20" fill="#f7f7ff"/>
<rect x="582" y="1215" width="24" height="20" fill="#d1d1ff"/>
<rect x="606" y="1215" width="47" height="20" fill="#8080ff"/>
<rect x="653" y="1215" width="23" height="20" fill="#1919ff"/>
<rect x="676" y="1215" width="24" height="20" fill="#0000c6"/>
<rect x="700" y="1215" width="24" height="20" fill="#0000a9"/>
<rect x="724" y="1215" width="23" height="20" fill="#9999ff"/>
<rect x="747" y="1215" width="24" height="20" fill="#0000a9"/>
<rect x="771" y="1215" width="23" height="20" fill="#6666ff"/>
<rect x="794" y="1215" width="24" height="20" fill="#9999ff"/>
<rect x="818" y="1215" width="23" height="20" fill="#ffd1d1"/>
<rect x="841" y="1215" width="24" height="20" fill="#ff4d4d"/>
<rect x="865" y="1215" width="23" height="20" fill="#ff3333"/>
<rect x="888" y="1215" width="24" height="20" fill="#eb0000"/>
<rect x="912" y="1215" width="23" height="20" fill="#ff1919"/>
<rect x="935" y="1215" width="24" height="20" fill="#ff3333"/>
<rect x="959" y="1215" width="23" height="20" fill="#ff0000"/>
<rect x="982" y="1215" width="24" height="20" fill="#ffadad"/>
<rect x="1006" y="1215" width="23" height="20" fill="#ffeded"/>
<rect x="1029" y="1215" width="47" height="20" fill="#ffc2c2"/>
<rect x="1076" y="1215" width="24" height="20" fill="#ff8080"/>
<rect x="1100" y="1215" width="24" height="20" fill="#ff3333"/>
<rect x="1124" y="1215" width="47" height="20" fill="#ff0000"/>
<rect x="1171" y="1215" width="23" height="20" fill="#eb0000"/>
<rect x="1194" y="1215" width="24" height="20" fill="#ff1919"/>
<rect x="1218" y="1215" width="47" height="20" fill="#ff4d4d"/>
<rect x="1265" y="1215" width="47" height="20" fill="#ff9999"/>
<rect x="1312" y="1215" width="23" height="20" fill="#ffd1d1"/>
<rect x="1335" y="1215" width="24" height="20" fill="#ffe0e0"/>
<rect x="1382" y="1215" width="94" height="20" fill="#ededff"/>
<rect x="1476" y="1215" width="24" height="20" fill="#e0e0ff"/>
<rect x="347" y="1235" width="24" height="20" fill="#f7f7ff"/>
<rect x="394" y="1235" width="24" height="20" fill="#ededff"/>
<rect x="418" y="1235" width="23" height="20" fill="#d1d1ff"/>
<rect x="441" y="1235" width="24" height="20" fill="#ffc2c2"/>
<rect x="465" y="1235" width="23" height="20" fill="#ff9999"/>
<rect x="512" y="1235" width="47" height="20" fill="#c2c2ff"/>
<rect x="559" y="1235" width="23" height="20" fill="#f7f7ff"/>
<rect x="582" y="1235" width="24" height="20" fill="#d1d1ff"/>
<rect x="606" y="1235" width="47" height="20" fill="#8080ff"/>
<rect x="653" y="1235" width="23" height="20" fill="#0000ff"/>
<rect x="676" y="1235" width="24" height="20" fill="#4d4dff"/>
<rect x="700" y="1235" width="24" height="20" fill="#9999ff"/>
<rect x="724" y="1235" width="23" height="20" fill="#0000a9"/>
<rect x="747" y="1235" width="24" height="20" fill="#6666ff"/>
<rect x="771" y="1235" width="23" height="20" fill="#0000ff"/>
<rect x="794" y="1235" width="24" height="20" fill="#9999ff"/>
<rect x="818" y="1235" width="23" height="20" fill="#fff7f7"/>
<rect x="841" y="1235" width="24" height="20" fill="#ff4d4d"/>
<rect x="865" y="1235" width="47" height="20" fill="#ff6666"/>
<rect x="912" y="1235" width="23" height="20" fill="#d60000"/>
<rect x="935" y="1235" width="24" height="20" fill="#eb0000"/>
<rect x="959" y="1235" width="47" height="20" fill="#ffadad"/>
<rect x="1053" y="1235" width="23" height="20" fill="#ffc2c2"/>
<rect x="1076" y="1235" width="24" height="20" fill="#ff6666"/>
<rect x="1100" y="1235" width="24" height="20" fill="#ff3333"/>
<rect x="1124" y="1235" width="23" height="20" fill="#ff1919"/>
<rect x="1147" y="1235" width="24" height="20" fill="#ff0000"/>
<rect x="1171" y="1235" width="23" height="20" fill="#eb0000"/>
<rect x="1194" y="1235" width="24" height="20" fill="#ff3333"/>
<rect x="1218" y="1235" width="47" height="20" fill="#ff4d4d"/>
<rect x="1265" y="1235" width="23" height="20" fill="#ff9999"/>
<rect x="1288" y="1235" width="47" height="20" fill="#ffc2c2"/>
<rect x="1335" y="1235" width="24" height="20" fill="#ffeded"/>
<rect x="1359" y="1235" width="23" height="20" fill="#f7f7ff"/>
<rect x="1382" y="1235" width="71" height="20" fill="#ededff"/>
<rect x="1453" y="1235" width="23" height="20" fill="#d1d1ff"/>
<rect x="1476" y="1235" width="24" height="20" fill="#ededff"/>
<rect x="300" y="1255" width="47" height="20" fill="#fff7f7"/>
<rect x="371" y="1255" width="23" height="20" fill="#fff7f7"/>
<rect x="394" y="1255" width="24" height="20" fill="#ffeded"/>
<rect x="418" y="1255" width="23" height="20" fill="#d1d1ff"/>
<rect x="441" y="1255" width="24" height="20" fill="#ffd1d1"/>
<rect x="465" y="1255" width="47" height="20" fill="#adadff"/>
<rect x="512" y="1255" width="23" height="20" fill="#c2c2ff"/>
<rect x="535" y="1255" width="47" height="20" fill="#9999ff"/>
<rect x="582" y="1255" width="24" height="20" fill="#ededff"/>
<rect x="606" y="1255" width="23" height="20" fill="#6666ff"/>
<rect x="629" y="1255" width="24" height="20" fill="#8080ff"/>
<rect x="653" y="1255" width="23" height="20" fill="#0000ff"/>
<rect x="676" y="1255" width="24" height="20" fill="#4d4dff"/>
<rect x="700" y="1255" width="24" height="20" fill="#0000ff"/>
<rect x="724" y="1255" width="23" height="20" fill="#6666ff"/>
<rect x="747" y="1255" width="47" height="20" fill="#0000ff"/>
<rect x="794" y="1255" width="24" height="20" fill="#8080ff"/>
<rect x="818" y="1255" width="23" height="20" fill="#e0e0ff"/>
<rect x="841" y="1255" width="24" height="20" fill="#ff6666"/>
<rect x="865" y="1255" width="23" height="20" fill="#ff9999"/>
<rect x="888" y="1255" width="24" height="20" fill="#ff4d4d"/>
<rect x="912" y="1255" width="23" height="20" fill="#ff9999"/>
<rect x="935" y="1255" width="24" height="20" fill="#ffd1d1"/>
<rect x="959" y="1255" width="23" height="20" fill="#ffe0e0"/>
<rect x="1006" y="1255" width="23" height="20" fill="#ffe0e0"/>
<rect x="1053" y="1255" width="47" height="20" fill="#ffc2c2"/>
<rect x="1100" y="1255" width="24" height="20" fill="#ff6666"/>
<rect x="1124" y="1255" width="23" height="20" fill="#ff3333"/>
<rect x="1147" y="1255" width="47" height="20" fill="#ff1919"/>
<rect x="1194" y="1255" width="24" height="20" fill="#ff3333"/>
<rect x="1218" y="1255" width="23" height="20" fill="#ff4d4d"/>
<rect x="1241" y="1255" width="24" height="20" fill="#ff8080"/>
<rect x="1265" y="1255" width="47" height="20" fill="#ff9999"/>
<rect x="1312" y="1255" width="23" height="20" fill="#ffe0e0"/>
<rect x="1335" y="1255" width="24" height="20" fill="#ffeded"/>
<rect x="1359" y="1255" width="23" height="20" fill="#fff7f7"/>
<rect x="1382" y="1255" width="24" height="20" fill="#ededff"/>
<rect x="1406" y="1255" width="23" height="20" fill="#e0e0ff"/>
<rect x="1429" y="1255" width="71" height="20" fill="#ededff"/>
<rect x="324" y="1275" width="23" height="20" fill="#fff7f7"/>
<rect x="371" y="1275" width="23" height="20" fill="#fff7f7"/>
<rect x="394" y="1275" width="24" height="20" fill="#ededff"/>
<rect x="418" y="1275" width="23" height="20" fill="#ffeded"/>
<rect x="441" y="1275" width="24" height="20" fill="#ffe0e0"/>
<rect x="465" y="1275" width="47" height="20" fill="#ededff"/>
<rect x="535" y="1275" width="24" height="20" fill="#adadff"/>
<rect x="559" y="1275" width="23" height="20" fill="#ffe0e0"/>
<rect x="582" y="1275" width="24" height="20" fill="#adadff"/>
<rect x="606" y="1275" width="23" height="20" fill="#8080ff"/>
<rect x="629" y="1275" width="24" height="20" fill="#9999ff"/>
<rect x="653" y="1275" width="23" height="20" fill="#3333ff"/>
<rect x="676" y="1275" width="24" height="20" fill="#0000c6"/>
<rect x="700" y="1275" width="24" height="20" fill="#0000ff"/>
<rect x="724" y="1275" width="23" height="20" fill="#3333ff"/>
<rect x="747" y="1275" width="47" height="20" fill="#0000ff"/>
<rect x="794" y="1275" width="24" height="20" fill="#8080ff"/>
<rect x="818" y="1275" width="23" height="20" fill="#d1d1ff"/>
<rect x="841" y="1275" width="24" height="20" fill="#ffadad"/>
<rect x="865" y="1275" width="23" height="20" fill="#ff9999"/>
<rect x="888" y="1275" width="24" height="20" fill="#ff8080"/>
<rect x="912" y="1275" width="23" height="20" fill="#d60000"/>
<rect x="935" y="1275" width="24" height="20" fill="#ff1919"/>
<rect x="959" y="1275" width="23" height="20" fill="#ff8080"/>
<rect x="982" y="1275" width="47" height="20" fill="#e0e0ff"/>
<rect x="1029" y="1275" width="24" height="20" fill="#ededff"/>
<rect x="1053" y="1275" width="23" height="20" fill="#ffeded"/>
<rect x="1076" y="1275" width="24" height="20" fill="#ffd1d1"/>
<rect x="1100" y="1275" width="24" height="20" fill="#ff8080"/>
<rect x="1124" y="1275" width="23" height="20" fill="#ff6666"/>
<rect x="1147" y="1275" width="24" height="20" fill="#ff1919"/>
<rect x="1171" y="1275" width="47" height="20" fill="#ff3333"/>
<rect x="1218" y="1275" width="23" height="20" fill="#ff6666"/>
<rect x="1241" y="1275" width="24" height="20" fill="#ff9999"/>
<rect x="1265" y="1275" width="23" height="20" fill="#ffadad"/>
<rect x="1288" y="1275" width="24" height="20" fill="#ffd1d1"/>
<rect x="1312" y="1275" width="47" height="20" fill="#ffe0e0"/>
<rect x="1359" y="1275" width="23" height="20" fill="#f7f7ff"/>
<rect x="1382" y="1275" width="71" height="20" fill="#ededff"/>
<rect x="1453" y="1275" width="23" height="20" fill="#e0e0ff"/>
<rect x="1476" y="1275" width="24" height="20" fill="#f7f7ff"/>
<rect x="347" y="1295" width="24" height="20" fill="#fff7f7"/>
<rect x="371" y="1295" width="47" height="20" fill="#ededff"/>
<rect x="418" y="1295" width="23" height="20" fill="#ffe0e0"/>
<rect x="441" y="1295" width="24" height="20" fill="#ffc2c2"/>
<rect x="465" y="1295" width="47" height="20" fill="#ededff"/>
<rect x="512" y="1295" width="23" height="20" fill="#e0e0ff"/>
<rect x="535" y="1295" width="24" height="20" fill="#c2c2ff"/>
<rect x="559" y="1295" width="23" height="20" fill="#fff7f7"/>
<rect x="582" y="1295" width="24" height="20" fill="#e0e0ff"/>
<rect x="606" y="1295" width="23" height="20" fill="#f7f7ff"/>
<rect x="629" y="1295" width="24" height="20" fill="#adadff"/>
<rect x="653" y="1295" width="23" height="20" fill="#8080ff"/>
<rect x="676" y="1295" width="24" height="20" fill="#adadff"/>
<rect x="700" y="1295" width="24" height="20" fill="#8080ff"/>
<rect x="724" y="1295" width="23" height="20" fill="#00008d"/>
<rect x="747" y="1295" width="24" height="20" fill="#0000ff"/>
<rect x="771" y="1295" width="23" height="20" fill="#4d4dff"/>
<rect x="794" y="1295" width="24" height="20" fill="#6666ff"/>
<rect x="818" y="1295" width="23" height="20" fill="#ededff"/>
<rect x="841" y="1295" width="24" height="20" fill="#ffadad"/>
<rect x="865" y="1295" width="23" height="20" fill="#ffc2c2"/>
<rect x="888" y="1295" width="24" height="20" fill="#ff8080"/>
<rect x="912" y="1295" width="23" height="20" fill="#ffe0e0"/>
<rect x="935" y="1295" width="24" height="20" fill="#ffeded"/>
<rect x="959" y="1295" width="23" height="20" fill="#ffadad"/>
<rect x="1006" y="1295" width="23" height="20" fill="#e0e0ff"/>
<rect x="1029" y="1295" width="24" height="20" fill="#ededff"/>
<rect x="1053" y="1295" width="23" height="20" fill="#ffeded"/>
<rect x="1076" y="1295" width="24" height="20" fill="#ffadad"/>
<rect x="1100" y="1295" width="47" height="20" fill="#ff6666"/>
<rect x="1147" y="1295" width="24" height="20" fill="#ff4d4d"/>
<rect x="1171" y="1295" width="23" height="20" fill="#ff3333"/>
<rect x="1194" y="1295" width="24" height="20" fill="#ff1919"/>
<rect x="1218" y="1295" width="23" height="20" fill="#ff6666"/>
<rect x="1241" y="1295" width="24" height="20" fill="#ff8080"/>
<rect x="1265" y="1295" width="23" height="20" fill="#ffadad"/>
<rect x="1288" y="1295" width="24" height="20" fill="#ffc2c2"/>
<rect x="1312" y="1295" width="23" height="20" fill="#ffd1d1"/>
<rect x="1406" y="1295" width="23" height="20" fill="#ededff"/>
<rect x="1429" y="1295" width="71" height="20" fill="#f7f7ff"/>
<rect x="324" y="1315" width="23" height="20" fill="#ffeded"/>
<rect x="371" y="1315" width="23" height="20" fill="#ededff"/>
<rect x="418" y="1315" width="23" height="20" fill="#ffe0e0"/>
<rect x="441" y="1315" width="24" height="20" fill="#ffd1d1"/>
<rect x="465" y="1315" width="23" height="20" fill="#c2c2ff"/>
<rect x="488" y="1315" width="24" height="20" fill="#ff9999"/>
<rect x="512" y="1315" width="23" height="20" fill="#e0e0ff"/>
<rect x="535" y="1315" width="24" height="20" fill="#adadff"/>
<rect x="559" y="1315" width="23" height="20" fill="#ededff"/>
<rect x="582" y="1315" width="24" height="20" fill="#adadff"/>
<rect x="606" y="1315" width="23" height="20" fill="#c2c2ff"/>
<rect x="629" y="1315" width="24" height="20" fill="#8080ff"/>
<rect x="653" y="1315" width="23" height="20" fill="#9999ff"/>
<rect x="676" y="1315" width="24" height="20" fill="#0000e2"/>
<rect x="700" y="1315" width="24" height="20" fill="#0000c6"/>
<rect x="724" y="1315" width="23" height="20" fill="#6666ff"/>
<rect x="747" y="1315" width="24" height="20" fill="#0000a9"/>
<rect x="771" y="1315" width="47" height="20" fill="#1919ff"/>
<rect x="818" y="1315" width="23" height="20" fill="#adadff"/>
<rect x="841" y="1315" width="24" height="20" fill="#f7f7ff"/>
<rect x="865" y="1315" width="23" height="20" fill="#ffc2c2"/>
<rect x="888" y="1315" width="24" height="20" fill="#ff8080"/>
<rect x="912" y="1315" width="23" height="20" fill="#ff0000"/>
<rect x="935" y="1315" width="24" height="20" fill="#ff6666"/>
<rect x="959" y="1315" width="23" height="20" fill="#adadff"/>
<rect x="1006" y="1315" width="23" height="20" fill="#adadff"/>
<rect x="1029" y="1315" width="24" height="20" fill="#d1d1ff"/>
<rect x="1053" y="1315" width="23" height="20" fill="#e0e0ff"/>
<rect x="1076" y="1315" width="24" height="20" fill="#ffadad"/>
<rect x="1100" y="1315" width="47" height="20" fill="#ff8080"/>
<rect x="1147" y="1315" width="71" height="20" fill="#ff4d4d"/>
<rect x="1218" y="1315" width="23" height="20" fill="#ff6666"/>
<rect x="1241" y="1315" width="24" height="20" fill="#ff9999"/>
<rect x="1265" y="1315" width="23" height="20" fill="#ffadad"/>
<rect x="1288" y="1315" width="24" height="20" fill="#ffd1d1"/>
<rect x="1312" y="1315" width="23" height="20" fill="#ffe0e0"/>
<rect x="1335" y="1315" width="24" height="20" fill="#f7f7ff"/>
<rect x="1382" y="1315" width="24" height="20" fill="#f7f7ff"/>
<rect x="1406" y="1315" width="23" height="20" fill="#ededff"/>
<rect x="1429" y="1315" width="47" height="20" fill="#e0e0ff"/>
<rect x="1476" y="1315" width="24" height="20" fill="#f7f7ff"/>
<rect x="300" y="1335" width="24" height="20" fill="#f7f7ff"/>
<rect x="324" y="1335" width="23" height="20" fill="#fff7f7"/>
<rect x="347" y="1335" width="24" height="20" fill="#f7f7ff"/>
<rect x="371" y="1335" width="23" height="20" fill="#fff7f7"/>
<rect x="418" y="1335" width="23" height="20" fill="#ffeded"/>
<rect x="441" y="1335" width="47" height="20" fill="#ffe0e0"/>
<rect x="488" y="1335" width="24" height="20" fill="#ff8080"/>
<rect x="512" y="1335" width="23" height="20" fill="#fff7f7"/>
<rect x="535" y="1335" width="24" height="20" fill="#e0e0ff"/>
<rect x="559" y="1335" width="23" height="20" fill="#ffeded"/>
<rect x="582" y="1335" width="24" height="20" fill="#9999ff"/>
<rect x="606" y="1335" width="23" height="20" fill="#adadff"/>
<rect x="629" y="1335" width="47" height="20" fill="#8080ff"/>
<rect x="676" y="1335" width="24" height="20" fill="#adadff"/>
<rect x="700" y="1335" width="24" height="20" fill="#0000a9"/>
<rect x="724" y="1335" width="23" height="20" fill="#0000e2"/>
<rect x="747" y="1335" width="24" height="20" fill="#1919ff"/>
<rect x="771" y="1335" width="23" height="20" fill="#6666ff"/>
<rect x="794" y="1335" width="24" height="20" fill="#1919ff"/>
<rect x="818" y="1335" width="23" height="20" fill="#8080ff"/>
<rect x="841" y="1335" width="24" height="20" fill="#ffeded"/>
<rect x="865" y="1335" width="23" height="20" fill="#ffc2c2"/>
<rect x="888" y="1335" width="24" height="20" fill="#ff9999"/>
<rect x="912" y="1335" width="23" height="20" fill="#ffd1d1"/>
<rect x="935" y="1335" width="24" height="20" fill="#ffe0e0"/>
<rect x="959" y="1335" width="23" height="20" fill="#ff9999"/>
<rect x="982" y="1335" width="24" height="20" fill="#ededff"/>
<rect x="1006" y="1335" width="23" height="20" fill="#9999ff"/>
<rect x="1029" y="1335" width="24" height="20" fill="#d1d1ff"/>
<rect x="1053" y="1335" width="23" height="20" fill="#ededff"/>
<rect x="1076" y="1335" width="24" height="20" fill="#ffe0e0"/>
<rect x="1100" y="1335" width="24" height="20" fill="#ff9999"/>
<rect x="1124" y="1335" width="23" height="20" fill="#ff8080"/>
<rect x="1147" y="1335" width="24" height="20" fill="#ff6666"/>
<rect x="1171" y="1335" width="23" height="20" fill="#ff4d4d"/>
<rect x="1194" y="1335" width="47" height="20" fill="#ff6666"/>
<rect x="1241" y="1335" width="24" height="20" fill="#ff8080"/>
<rect x="1265" y="1335" width="23" height="20" fill="#ffc2c2"/>
<rect x="1288" y="1335" width="24" height="20" fill="#ffd1d1"/>
<rect x="1312" y="1335" width="23" height="20" fill="#ffe0e0"/>
<rect x="1335" y="1335" width="24" height="20" fill="#fff7f7"/>
<rect x="1359" y="1335" width="47" height="20" fill="#f7f7ff"/>
<rect x="1406" y="1335" width="94" height="20" fill="#ededff"/>
<rect x="300" y="1355" width="24" height="20" fill="#fff7f7"/>
<rect x="324" y="1355" width="23" height="20" fill="#ffe0e0"/>
<rect x="371" y="1355" width="70" height="20" fill="#ffeded"/>
<rect x="441" y="1355" width="47" height="20" fill="#ff8080"/>
<rect x="488" y="1355" width="24" height="20" fill="#ffd1d1"/>
<rect x="512" y="1355" width="23" height="20" fill="#ededff"/>
<rect x="535" y="1355" width="24" height="20" fill="#ffc2c2"/>
<rect x="559" y="1355" width="23" height="20" fill="#ededff"/>
<rect x="582" y="1355" width="47" height="20" fill="#8080ff"/>
<rect x="629" y="1355" width="24" height="20" fill="#e0e0ff"/>
<rect x="653" y="1355" width="23" height="20" fill="#4d4dff"/>
<rect x="676" y="1355" width="24" height="20" fill="#0000ff"/>
<rect x="700" y="1355" width="24" height="20" fill="#9999ff"/>
<rect x="724" y="1355" width="23" height="20" fill="#0000ff"/>
<rect x="747" y="1355" width="24" height="20" fill="#8080ff"/>
<rect x="771" y="1355" width="23" height="20" fill="#0000ff"/>
<rect x="794" y="1355" width="24" height="20" fill="#1919ff"/>
<rect x="818" y="1355" width="23" height="20" fill="#9999ff"/>
<rect x="841" y="1355" width="24" height="20" fill="#ffc2c2"/>
<rect x="865" y="1355" width="23" height="20" fill="#ededff"/>
<rect x="888" y="1355" width="24" height="20" fill="#ff8080"/>
<rect x="912" y="1355" width="23" height="20" fill="#ff4d4d"/>
<rect x="935" y="1355" width="24" height="20" fill="#ff6666"/>
<rect x="959" y="1355" width="23" height="20" fill="#ffeded"/>
<rect x="982" y="1355" width="24" height="20" fill="#ededff"/>
<rect x="1006" y="1355" width="47" height="20" fill="#d1d1ff"/>
<rect x="1053" y="1355" width="23" height="20" fill="#ededff"/>
<rect x="1076" y="1355" width="24" height="20" fill="#f7f7ff"/>
<rect x="1100" y="1355" width="24" height="20" fill="#ffadad"/>
<rect x="1124" y="1355" width="23" height="20" fill="#ff9999"/>
<rect x="1147" y="1355" width="24" height="20" fill="#ff6666"/>
<rect x="1171" y="1355" width="23" height="20" fill="#ff4d4d"/>
<rect x="1194" y="1355" width="24" height="20" fill="#ff6666"/>
<rect x="1218" y="1355" width="47" height="20" fill="#ff8080"/>
<rect x="1265" y="1355" width="23" height="20" fill="#ffadad"/>
<rect x="1288" y="1355" width="47" height="20" fill="#ffd1d1"/>
<rect x="1335" y="1355" width="47" height="20" fill="#f7f7ff"/>
<rect x="1406" y="1355" width="94" height="20" fill="#ededff"/>
<rect x="300" y="1375" width="71" height="20" fill="#fff7f7"/>
<rect x="394" y="1375" width="24" height="20" fill="#ffeded"/>
<rect x="418" y="1375" width="23" height="20" fill="#e0e0ff"/>
<rect x="441" y="1375" width="24" height="20" fill="#ff8080"/>
<rect x="465" y="1375" width="23" height="20" fill="#9999ff"/>
<rect x="488" y="1375" width="24" height="20" fill="#e0e0ff"/>
<rect x="512" y="1375" width="23" height="20" fill="#ffe0e0"/>
<rect x="535" y="1375" width="24" height="20" fill="#ffc2c2"/>
<rect x="559" y="1375" width="23" height="20" fill="#c2c2ff"/>
<rect x="582" y="1375" width="24" height="20" fill="#8080ff"/>
<rect x="606" y="1375" width="47" height="20" fill="#c2c2ff"/>
<rect x="653" y="1375" width="23" height="20" fill="#8080ff"/>
<rect x="676" y="1375" width="24" height="20" fill="#adadff"/>
<rect x="700" y="1375" width="24" height="20" fill="#6666ff"/>
<rect x="724" y="1375" width="23" height="20" fill="#8080ff"/>
<rect x="747" y="1375" width="24" height="20" fill="#0000a9"/>
<rect x="771" y="1375" width="23" height="20" fill="#0000ff"/>
<rect x="794" y="1375" width="24" height="20" fill="#1919ff"/>
<rect x="818" y="1375" width="23" height="20" fill="#9999ff"/>
<rect x="841" y="1375" width="24" height="20" fill="#e0e0ff"/>
<rect x="865" y="1375" width="23" height="20" fill="#ff8080"/>
<rect x="888" y="1375" width="24" height="20" fill="#ff9999"/>
<rect x="912" y="1375" width="23" height="20" fill="#ff8080"/>
<rect x="935" y="1375" width="24" height="20" fill="#9999ff"/>
<rect x="959" y="1375" width="23" height="20" fill="#adadff"/>
<rect x="982" y="1375" width="24" height="20" fill="#9999ff"/>
<rect x="1006" y="1375" width="23" height="20" fill="#d1d1ff"/>
<rect x="1029" y="1375" width="47" height="20" fill="#c2c2ff"/>
<rect x="1076" y="1375" width="24" height="20" fill="#fff7f7"/>
<rect x="1100" y="1375" width="24" height="20" fill="#ffd1d1"/>
<rect x="1124" y="1375" width="23" height="20" fill="#ff9999"/>
<rect x="1147" y="1375" width="94" height="20" fill="#ff6666"/>
<rect x="1241" y="1375" width="24" height="20" fill="#ff9999"/>
<rect x="1265" y="1375" width="47" height="20" fill="#ffadad"/>
<rect x="1312" y="1375" width="23" height="20" fill="#ffe0e0"/>
<rect x="1335" y="1375" width="24" height="20" fill="#fff7f7"/>
<rect x="1359" y="1375" width="23" height="20" fill="#e0e0ff"/>
<rect x="1382" y="1375" width="94" height="20" fill="#ededff"/>
<rect x="1476" y="1375" width="24" height="20" fill="#f7f7ff"/>
<rect x="347" y="1395" width="71" height="20" fill="#fff7f7"/>
<rect x="418" y="1395" width="23" height="20" fill="#e0e0ff"/>
<rect x="441" y="1395" width="24" height="20" fill="#ffe0e0"/>
<rect x="465" y="1395" width="23" height="20" fill="#ededff"/>
<rect x="488" y="1395" width="24" height="20" fill="#adadff"/>
<rect x="512" y="1395" width="23" height="20" fill="#ededff"/>
<rect x="559" y="1395" width="23" height="20" fill="#e0e0ff"/>
<rect x="582" y="1395" width="24" height="20" fill="#8080ff"/>
<rect x="629" y="1395" width="24" height="20" fill="#adadff"/>
<rect x="653" y="1395" width="23" height="20" fill="#9999ff"/>
<rect x="676" y="1395" width="24" height="20" fill="#4d4dff"/>
<rect x="700" y="1395" width="24" height="20" fill="#6666ff"/>
<rect x="724" y="1395" width="23" height="20" fill="#0000c6"/>
<rect x="747" y="1395" width="24" height="20" fill="#3333ff"/>
<rect x="771" y="1395" width="47" height="20" fill="#1919ff"/>
<rect x="818" y="1395" width="23" height="20" fill="#9999ff"/>
<rect x="841" y="1395" width="24" height="20" fill="#adadff"/>
<rect x="865" y="1395" width="23" height="20" fill="#ff8080"/>
<rect x="888" y="1395" width="24" height="20" fill="#ff9999"/>
<rect x="912" y="1395" width="23" height="20" fill="#f7f7ff"/>
<rect x="935" y="1395" width="24" height="20" fill="#ff8080"/>
<rect x="959" y="1395" width="23" height="20" fill="#8080ff"/>
<rect x="982" y="1395" width="24" height="20" fill="#adadff"/>
<rect x="1006" y="1395" width="47" height="20" fill="#9999ff"/>
<rect x="1053" y="1395" width="23" height="20" fill="#e0e0ff"/>
<rect x="1100" y="1395" width="24" height="20" fill="#ffc2c2"/>
<rect x="1124" y="1395" width="23" height="20" fill="#ff9999"/>
<rect x="1147" y="1395" width="71" height="20" fill="#ff8080"/>
<rect x="1218" y="1395" width="47" height="20" fill="#ff9999"/>
<rect x="1265" y="1395" width="23" height="20" fill="#ffadad"/>
<rect x="1288" y="1395" width="24" height="20" fill="#ffd1d1"/>
<rect x="1312" y="1395" width="23" height="20" fill="#ffe0e0"/>
<rect x="1335" y="1395" width="24" height="20" fill="#ffeded"/>
<rect x="1359" y="1395" width="23" height="20" fill="#fff7f7"/>
<rect x="1382" y="1395" width="71" height="20" fill="#ededff"/>
<rect x="1453" y="1395" width="23" height="20" fill="#e0e0ff"/>
<rect x="1476" y="1395" width="24" height="20" fill="#f7f7ff"/>
<rect x="324" y="1415" width="47" height="20" fill="#fff7f7"/>
<rect x="371" y="1415" width="23" height="20" fill="#ededff"/>
<rect x="418" y="1415" width="23" height="20" fill="#ffeded"/>
<rect x="441" y="1415" width="24" height="20" fill="#e0e0ff"/>
<rect x="465" y="1415" width="23" height="20" fill="#ff8080"/>
<rect x="488" y="1415" width="24" height="20" fill="#ffe0e0"/>
<rect x="512" y="1415" width="23" height="20" fill="#ffd1d1"/>
<rect x="535" y="1415" width="24" height="20" fill="#f7f7ff"/>
<rect x="559" y="1415" width="23" height="20" fill="#9999ff"/>
<rect x="582" y="1415" width="24" height="20" fill="#c2c2ff"/>
<rect x="606" y="1415" width="23" height="20" fill="#ffd1d1"/>
<rect x="629" y="1415" width="24" height="20" fill="#8080ff"/>
<rect x="653" y="1415" width="23" height="20" fill="#6666ff"/>
<rect x="676" y="1415" width="24" height="20" fill="#3333ff"/>
<rect x="700" y="1415" width="24" height="20" fill="#8080ff"/>
<rect x="724" y="1415" width="23" height="20" fill="#0000ff"/>
<rect x="747" y="1415" width="24" height="20" fill="#0000e2"/>
<rect x="771" y="1415" width="23" height="20" fill="#6666ff"/>
<rect x="794" y="1415" width="24" height="20" fill="#1919ff"/>
<rect x="818" y="1415" width="23" height="20" fill="#8080ff"/>
<rect x="841" y="1415" width="24" height="20" fill="#d1d1ff"/>
<rect x="865" y="1415" width="23" height="20" fill="#ffc2c2"/>
<rect x="888" y="1415" width="24" height="20" fill="#ffd1d1"/>
<rect x="912" y="1415" width="23" height="20" fill="#ff4d4d"/>
<rect x="959" y="1415" width="23" height="20" fill="#e0e0ff"/>
<rect x="982" y="1415" width="24" height="20" fill="#d1d1ff"/>
<rect x="1006" y="1415" width="47" height="20" fill="#9999ff"/>
<rect x="1053" y="1415" width="23" height="20" fill="#c2c2ff"/>
<rect x="1076" y="1415" width="24" height="20" fill="#d1d1ff"/>
<rect x="1100" y="1415" width="24" height="20" fill="#ffc2c2"/>
<rect x="1124" y="1415" width="23" height="20" fill="#ff9999"/>
<rect x="1147" y="1415" width="24" height="20" fill="#ff6666"/>
<rect x="1171" y="1415" width="70" height="20" fill="#ff8080"/>
<rect x="1241" y="1415" width="24" height="20" fill="#ff9999"/>
<rect x="1265" y="1415" width="23" height="20" fill="#ffadad"/>
<rect x="1288" y="1415" width="24" height="20" fill="#ffd1d1"/>
<rect x="1312" y="1415" width="23" height="20" fill="#ffe0e0"/>
<rect x="1382" y="1415" width="47" height="20" fill="#f7f7ff"/>
<rect x="1429" y="1415" width="24" height="20" fill="#ededff"/>
<rect x="1453" y="1415" width="23" height="20" fill="#f7f7ff"/>
<rect x="1476" y="1415" width="24" height="20" fill="#e0e0ff"/>
<rect x="347" y="1435" width="24" height="20" fill="#ffeded"/>
<rect x="394" y="1435" width="47" height="20" fill="#ffe0e0"/>
<rect x="441" y="1435" width="24" height="20" fill="#ededff"/>
<rect x="465" y="1435" width="23" height="20" fill="#c2c2ff"/>
<rect x="488" y="1435" width="24" height="20" fill="#ffd1d1"/>
<rect x="512" y="1435" width="23" height="20" fill="#ffe0e0"/>
<rect x="535" y="1435" width="47" height="20" fill="#f7f7ff"/>
<rect x="582" y="1435" width="24" height="20" fill="#8080ff"/>
<rect x="606" y="1435" width="23" height="20" fill="#ffc2c2"/>
<rect x="629" y="1435" width="24" height="20" fill="#9999ff"/>
<rect x="653" y="1435" width="23" height="20" fill="#6666ff"/>
<rect x="676" y="1435" width="24" height="20" fill="#4d4dff"/>
<rect x="700" y="1435" width="24" height="20" fill="#0000e2"/>
<rect x="724" y="1435" width="23" height="20" fill="#adadff"/>
<rect x="747" y="1435" width="24" height="20" fill="#4d4dff"/>
<rect x="771" y="1435" width="23" height="20" fill="#0000ff"/>
<rect x="794" y="1435" width="24" height="20" fill="#1919ff"/>
<rect x="818" y="1435" width="23" height="20" fill="#4d4dff"/>
<rect x="841" y="1435" width="24" height="20" fill="#f7f7ff"/>
<rect x="865" y="1435" width="23" height="20" fill="#ededff"/>
<rect x="912" y="1435" width="23" height="20" fill="#d1d1ff"/>
<rect x="935" y="1435" width="24" height="20" fill="#c2c2ff"/>
<rect x="959" y="1435" width="23" height="20" fill="#f7f7ff"/>
<rect x="982" y="1435" width="24" height="20" fill="#9999ff"/>
<rect x="1006" y="1435" width="23" height="20" fill="#8080ff"/>
<rect x="1029" y="1435" width="24" height="20" fill="#9999ff"/>
<rect x="1053" y="1435" width="23" height="20" fill="#adadff"/>
<rect x="1076" y="1435" width="24" height="20" fill="#fff7f7"/>
<rect x="1100" y="1435" width="24" height="20" fill="#ffe0e0"/>
<rect x="1124" y="1435" width="23" height="20" fill="#ff9999"/>
<rect x="1147" y="1435" width="24" height="20" fill="#ff8080"/>
<rect x="1171" y="1435" width="23" height="20" fill="#ff9999"/>
<rect x="1194" y="1435" width="24" height="20" fill="#ff6666"/>
<rect x="1218" y="1435" width="23" height="20" fill="#ff8080"/>
<rect x="1241" y="1435" width="47" height="20" fill="#ffadad"/>
<rect x="1288" y="1435" width="24" height="20" fill="#ffd1d1"/>
<rect x="1312" y="1435" width="23" height="20" fill="#ffe0e0"/>
<rect x="1335" y="1435" width="24" height="20" fill="#fff7f7"/>
<rect x="1382" y="1435" width="47" height="20" fill="#f7f7ff"/>
<rect x="1429" y="1435" width="24" height="20" fill="#ededff"/>
<rect x="1453" y="1435" width="23" height="20" fill="#e0e0ff"/>
<rect x="1476" y="1435" width="24" height="20" fill="#ededff"/>
<rect x="324" y="1455" width="23" height="20" fill="#f7f7ff"/>
<rect x="347" y="1455" width="47" height="20" fill="#fff7f7"/>
<rect x="394" y="1455" width="47" height="20" fill="#ffe0e0"/>
<rect x="441" y="1455" width="24" height="20" fill="#d1d1ff"/>
<rect x="465" y="1455" width="23" height="20" fill="#fff7f7"/>
<rect x="488" y="1455" width="24" height="20" fill="#9999ff"/>
<rect x="535" y="1455" width="24" height="20" fill="#ffd1d1"/>
<rect x="559" y="1455" width="23" height="20" fill="#ffe0e0"/>
<rect x="582" y="1455" width="47" height="20" fill="#8080ff"/>
<rect x="629" y="1455" width="47" height="20" fill="#9999ff"/>
<rect x="676" y="1455" width="24" height="20" fill="#4d4dff"/>
<rect x="700" y="1455" width="47" height="20" fill="#0000e2"/>
<rect x="747" y="1455" width="47" height="20" fill="#00008d"/>
<rect x="794" y="1455" width="24" height="20" fill="#0000ff"/>
<rect x="818" y="1455" width="23" height="20" fill="#4d4dff"/>
<rect x="841" y="1455" width="24" height="20" fill="#f7f7ff"/>
<rect x="865" y="1455" width="23" height="20" fill="#ffeded"/>
<rect x="888" y="1455" width="24" height="20" fill="#f7f7ff"/>
<rect x="912" y="1455" width="23" height="20" fill="#ff4d4d"/>
<rect x="935" y="1455" width="24" height="20" fill="#ffadad"/>
<rect x="959" y="1455" width="23" height="20" fill="#ffc2c2"/>
<rect x="982" y="1455" width="24" height="20" fill="#8080ff"/>
<rect x="1006" y="1455" width="23" height="20" fill="#9999ff"/>
<rect x="1029" y="1455" width="24" height="20" fill="#6666ff"/>
<rect x="1053" y="1455" width="23" height="20" fill="#c2c2ff"/>
<rect x="1076" y="1455" width="24" height="20" fill="#e0e0ff"/>
<rect x="1100" y="1455" width="24" height="20" fill="#ffeded"/>
<rect x="1124" y="1455" width="23" height="20" fill="#ffadad"/>
<rect x="1147" y="1455" width="71" height="20" fill="#ff8080"/>
<rect x="1218" y="1455" width="23" height="20" fill="#ff9999"/>
<rect x="1241" y="1455" width="47" height="20" fill="#ffadad"/>
<rect x="1288" y="1455" width="24" height="20" fill="#ffd1d1"/>
<rect x="1312" y="1455" width="47" height="20" fill="#ffeded"/>
<rect x="1359" y="1455" width="70" height="20" fill="#f7f7ff"/>
<rect x="1429" y="1455" width="47" height="20" fill="#e0e0ff"/>
<rect x="1476" y="1455" width="24" height="20" fill="#ededff"/>
<rect x="300" y="1475" width="47" height="20" fill="#f7f7ff"/>
<rect x="371" y="1475" width="47" height="20" fill="#fff7f7"/>
<rect x="418" y="1475" width="23" height="20" fill="#f7f7ff"/>
<rect x="441" y="1475" width="24" height="20" fill="#c2c2ff"/>
<rect x="465" y="1475" width="23" height="20" fill="#ffe0e0"/>
<rect x="488" y="1475" width="47" height="20" fill="#ededff"/>
<rect x="535" y="1475" width="24" height="20" fill="#ffadad"/>
<rect x="582" y="1475" width="24" height="20" fill="#8080ff"/>
<rect x="606" y="1475" width="23" height="20" fill="#6666ff"/>
<rect x="629" y="1475" width="24" height="20" fill="#adadff"/>
<rect x="653" y="1475" width="23" height="20" fill="#4d4dff"/>
<rect x="676" y="1475" width="24" height="20" fill="#1919ff"/>
<rect x="700" y="1475" width="47" height="20" fill="#0000e2"/>
<rect x="747" y="1475" width="24" height="20" fill="#3333ff"/>
<rect x="771" y="1475" width="23" height="20" fill="#0000c6"/>
<rect x="794" y="1475" width="24" height="20" fill="#0000ff"/>
<rect x="818" y="1475" width="23" height="20" fill="#3333ff"/>
<rect x="841" y="1475" width="24" height="20" fill="#d1d1ff"/>
<rect x="865" y="1475" width="23" height="20" fill="#ffeded"/>
<rect x="888" y="1475" width="24" height="20" fill="#f7f7ff"/>
<rect x="912" y="1475" width="23" height="20" fill="#e0e0ff"/>
<rect x="935" y="1475" width="24" height="20" fill="#ededff"/>
<rect x="959" y="1475" width="23" height="20" fill="#4d4dff"/>
<rect x="982" y="1475" width="47" height="20" fill="#9999ff"/>
<rect x="1029" y="1475" width="24" height="20" fill="#adadff"/>
<rect x="1053" y="1475" width="23" height="20" fill="#e0e0ff"/>
<rect x="1076" y="1475" width="24" height="20" fill="#f7f7ff"/>
<rect x="1100" y="1475" width="24" height="20" fill="#ffe0e0"/>
<rect x="1124" y="1475" width="23" height="20" fill="#ffadad"/>
<rect x="1147" y="1475" width="94" height="20" fill="#ff8080"/>
<rect x="1241" y="1475" width="47" height="20" fill="#ffadad"/>
<rect x="1288" y="1475" width="24" height="20" fill="#ffd1d1"/>
<rect x="1312" y="1475" width="23" height="20" fill="#ffe0e0"/>
<rect x="1335" y="1475" width="47" height="20" fill="#fff7f7"/>
<rect x="1406" y="1475" width="94" height="20" fill="#ededff"/>
<rect x="300" y="1495" width="24" height="20" fill="#fff7f7"/>
<rect x="347" y="1495" width="47" height="20" fill="#fff7f7"/>
<rect x="418" y="1495" width="23" height="20" fill="#e0e0ff"/>
<rect x="441" y="1495" width="24" height="20" fill="#ededff"/>
<rect x="465" y="1495" width="23" height="20" fill="#c2c2ff"/>
<rect x="488" y="1495" width="71" height="20" fill="#ffd1d1"/>
<rect x="582" y="1495" width="47" height="20" fill="#c2c2ff"/>
<rect x="629" y="1495" width="24" height="20" fill="#6666ff"/>
<rect x="653" y="1495" width="23" height="20" fill="#4d4dff"/>
<rect x="676" y="1495" width="24" height="20" fill="#3333ff"/>
<rect x="700" y="1495" width="24" height="20" fill="#c2c2ff"/>
<rect x="724" y="1495" width="23" height="20" fill="#9999ff"/>
<rect x="747" y="1495" width="24" height="20" fill="#0000c6"/>
<rect x="771" y="1495" width="23" height="20" fill="#0000ff"/>
<rect x="794" y="1495" width="24" height="20" fill="#8080ff"/>
<rect x="818" y="1495" width="23" height="20" fill="#4d4dff"/>
<rect x="841" y="1495" width="24" height="20" fill="#c2c2ff"/>
<rect x="865" y="1495" width="23" height="20" fill="#e0e0ff"/>
<rect x="888" y="1495" width="24" height="20" fill="#ffd1d1"/>
<rect x="912" y="1495" width="23" height="20" fill="#ffadad"/>
<rect x="935" y="1495" width="24" height="20" fill="#d1d1ff"/>
<rect x="959" y="1495" width="23" height="20" fill="#c2c2ff"/>
<rect x="982" y="1495" width="24" height="20" fill="#d1d1ff"/>
<rect x="1006" y="1495" width="47" height="20" fill="#8080ff"/>
<rect x="1053" y="1495" width="23" height="20" fill="#e0e0ff"/>
<rect x="1076" y="1495" width="24" height="20" fill="#d1d1ff"/>
<rect x="1100" y="1495" width="24" height="20" fill="#ffe0e0"/>
<rect x="1124" y="1495" width="23" height="20" fill="#ffadad"/>
<rect x="1147" y="1495" width="24" height="20" fill="#ff9999"/>
<rect x="1171" y="1495" width="23" height="20" fill="#ff8080"/>
<rect x="1194" y="1495" width="24" height="20" fill="#ff6666"/>
<rect x="1218" y="1495" width="23" height="20" fill="#ff9999"/>
<rect x="1241" y="1495" width="24" height="20" fill="#ffadad"/>
<rect x="1265" y="1495" width="23" height="20" fill="#ffc2c2"/>
<rect x="1288" y="1495" width="47" height="20" fill="#ffe0e0"/>
<rect x="1382" y="1495" width="24" height="20" fill="#f7f7ff"/>
<rect x="1406" y="1495" width="47" height="20" fill="#e0e0ff"/>
<rect x="1453" y="1495" width="23" height="20" fill="#ededff"/>
<rect x="300" y="1515" width="24" height="20" fill="#f7f7ff"/>
<rect x="324" y="1515" width="23" height="20" fill="#ffeded"/>
<rect x="347" y="1515" width="24" height="20" fill="#fff7f7"/>
<rect x="371" y="1515" width="23" height="20" fill="#ffeded"/>
<rect x="394" y="1515" width="24" height="20" fill="#ededff"/>
<rect x="418" y="1515" width="23" height="20" fill="#e0e0ff"/>
<rect x="441" y="1515" width="24" height="20" fill="#ffd1d1"/>
<rect x="465" y="1515" width="23" height="20" fill="#c2c2ff"/>
<rect x="488" y="1515" width="24" height="20" fill="#ffd1d1"/>
<rect x="512" y="1515" width="23" height="20" fill="#ff6666"/>
<rect x="535" y="1515" width="24" height="20" fill="#e0e0ff"/>
<rect x="559" y="1515" width="23" height="20" fill="#ffe0e0"/>
<rect x="582" y="1515" width="24" height="20" fill="#c2c2ff"/>
<rect x="629" y="1515" width="71" height="20" fill="#6666ff"/>
<rect x="700" y="1515" width="24" height="20" fill="#adadff"/>
<rect x="724" y="1515" width="23" height="20" fill="#0000a9"/>
<rect x="747" y="1515" width="24" height="20" fill="#0000ff"/>
<rect x="771" y="1515" width="23" height="20" fill="#3333ff"/>
<rect x="794" y="1515" width="24" height="20" fill="#1919ff"/>
<rect x="818" y="1515" width="23" height="20" fill="#0000ff"/>
<rect x="841" y="1515" width="24" height="20" fill="#ededff"/>
<rect x="888" y="1515" width="24" height="20" fill="#ffadad"/>
<rect x="912" y="1515" width="23" height="20" fill="#ffeded"/>
<rect x="935" y="1515" width="24" height="20" fill="#ff9999"/>
<rect x="959" y="1515" width="23" height="20" fill="#ffd1d1"/>
<rect x="982" y="1515" width="24" height="20" fill="#d1d1ff"/>
<rect x="1006" y="1515" width="23" height="20" fill="#adadff"/>
<rect x="1029" y="1515" width="24" height="20" fill="#9999ff"/>
<rect x="1053" y="1515" width="23" height="20" fill="#c2c2ff"/>
<rect x="1076" y="1515" width="24" height="20" fill="#e0e0ff"/>
<rect x="1100" y="1515" width="24" height="20" fill="#ffe0e0"/>
<rect x="1124" y="1515" width="23" height="20" fill="#ffadad"/>
<rect x="1147" y="1515" width="71" height="20" fill="#ff8080"/>
<rect x="1218" y="1515" width="23" height="20" fill="#ff9999"/>
<rect x="1241" y="1515" width="24" height="20" fill="#ffadad"/>
<rect x="1265" y="1515" width="23" height="20" fill="#ffc2c2"/>
<rect x="1288" y="1515" width="24" height="20" fill="#ffd1d1"/>
<rect x="1312" y="1515" width="23" height="20" fill="#ffe0e0"/>
<rect x="1382" y="1515" width="94" height="20" fill="#f7f7ff"/>
<rect x="1476" y="1515" width="24" height="20" fill="#ededff"/>
<rect x="324" y="1535" width="23" height="20" fill="#fff7f7"/>
<rect x="371" y="1535" width="23" height="20" fill="#fff7f7"/>
<rect x="394" y="1535" width="47" height="20" fill="#f7f7ff"/>
<rect x="441" y="1535" width="24" height="20" fill="#ffd1d1"/>
<rect x="465" y="1535" width="23" height="20" fill="#ffadad"/>
<rect x="488" y="1535" width="24" height="20" fill="#e0e0ff"/>
<rect x="512" y="1535" width="23" height="20" fill="#ffd1d1"/>
<rect x="535" y="1535" width="24" height="20" fill="#c2c2ff"/>
<rect x="559" y="1535" width="23" height="20" fill="#ffeded"/>
<rect x="582" y="1535" width="47" height="20" fill="#e0e0ff"/>
<rect x="629" y="1535" width="24" height="20" fill="#6666ff"/>
<rect x="653" y="1535" width="23" height="20" fill="#e0e0ff"/>
<rect x="676" y="1535" width="24" height="20" fill="#c2c2ff"/>
<rect x="700" y="1535" width="24" height="20" fill="#4d4dff"/>
<rect x="724" y="1535" width="23" height="20" fill="#8080ff"/>
<rect x="747" y="1535" width="24" height="20" fill="#4d4dff"/>
<rect x="771" y="1535" width="23" height="20" fill="#000070"/>
<rect x="794" y="1535" width="24" height="20" fill="#0000c6"/>
<rect x="818" y="1535" width="23" height="20" fill="#4d4dff"/>
<rect x="841" y="1535" width="24" height="20" fill="#d1d1ff"/>
<rect x="865" y="1535" width="23" height="20" fill="#ededff"/>
<rect x="888" y="1535" width="24" height="20" fill="#ffadad"/>
<rect x="912" y="1535" width="23" height="20" fill="#ffc2c2"/>
<rect x="935" y="1535" width="24" height="20" fill="#8080ff"/>
<rect x="959" y="1535" width="23" height="20" fill="#9999ff"/>
<rect x="982" y="1535" width="24" height="20" fill="#adadff"/>
<rect x="1006" y="1535" width="23" height="20" fill="#8080ff"/>
<rect x="1029" y="1535" width="24" height="20" fill="#9999ff"/>
<rect x="1053" y="1535" width="23" height="20" fill="#d1d1ff"/>
<rect x="1076" y="1535" width="24" height="20" fill="#ededff"/>
<rect x="1100" y="1535" width="24" height="20" fill="#f7f7ff"/>
<rect x="1124" y="1535" width="23" height="20" fill="#ffc2c2"/>
<rect x="1147" y="1535" width="24" height="20" fill="#ff9999"/>
<rect x="1171" y="1535" width="47" height="20" fill="#ff8080"/>
<rect x="1218" y="1535" width="23" height="20" fill="#ff9999"/>
<rect x="1241" y="1535" width="24" height="20" fill="#ffadad"/>
<rect x="1265" y="1535" width="47" height="20" fill="#ffc2c2"/>
<rect x="1312" y="1535" width="23" height="20" fill="#ffe0e0"/>
<rect x="1335" y="1535" width="24" height="20" fill="#ffeded"/>
<rect x="1359" y="1535" width="23" height="20" fill="#f7f7ff"/>
<rect x="1406" y="1535" width="23" height="20" fill="#e0e0ff"/>
<rect x="1429" y="1535" width="47" height="20" fill="#ededff"/>
<rect x="1476" y="1535" width="24" height="20" fill="#e0e0ff"/>
<rect x="300" y="1555" width="47" height="20" fill="#fff7f7"/>
<rect x="371" y="1555" width="23" height="20" fill="#f7f7ff"/>
<rect x="394" y="1555" width="24" height="20" fill="#fff7f7"/>
<rect x="418" y="1555" width="23" height="20" fill="#ffe0e0"/>
<rect x="441" y="1555" width="24" height="20" fill="#c2c2ff"/>
<rect x="465" y="1555" width="23" height="20" fill="#adadff"/>
<rect x="488" y="1555" width="24" height="20" fill="#9999ff"/>
<rect x="512" y="1555" width="23" height="20" fill="#ffe0e0"/>
<rect x="535" y="1555" width="24" height="20" fill="#d1d1ff"/>
<rect x="559" y="1555" width="23" height="20" fill="#e0e0ff"/>
<rect x="606" y="1555" width="23" height="20" fill="#c2c2ff"/>
<rect x="629" y="1555" width="24" height="20" fill="#f7f7ff"/>
<rect x="653" y="1555" width="23" height="20" fill="#adadff"/>
<rect x="676" y="1555" width="24" height="20" fill="#4d4dff"/>
<rect x="700" y="1555" width="24" height="20" fill="#0000ff"/>
<rect x="724" y="1555" width="23" height="20" fill="#0000a9"/>
<rect x="747" y="1555" width="24" height="20" fill="#000070"/>
<rect x="771" y="1555" width="23" height="20" fill="#8080ff"/>
<rect x="794" y="1555" width="24" height="20" fill="#0000ff"/>
<rect x="818" y="1555" width="23" height="20" fill="#3333ff"/>
<rect x="841" y="1555" width="24" height="20" fill="#6666ff"/>
<rect x="865" y="1555" width="23" height="20" fill="#d1d1ff"/>
<rect x="888" y="1555" width="24" height="20" fill="#ffe0e0"/>
<rect x="912" y="1555" width="23" height="20" fill="#d1d1ff"/>
<rect x="935" y="1555" width="24" height="20" fill="#ff8080"/>
<rect x="959" y="1555" width="23" height="20" fill="#6666ff"/>
<rect x="982" y="1555" width="24" height="20" fill="#9999ff"/>
<rect x="1006" y="1555" width="23" height="20" fill="#8080ff"/>
<rect x="1029" y="1555" width="24" height="20" fill="#4d4dff"/>
<rect x="1053" y="1555" width="23" height="20" fill="#adadff"/>
<rect x="1076" y="1555" width="24" height="20" fill="#d1d1ff"/>
<rect x="1100" y="1555" width="24" height="20" fill="#ffeded"/>
<rect x="1124" y="1555" width="23" height="20" fill="#ffadad"/>
<rect x="1147" y="1555" width="24" height="20" fill="#ff9999"/>
<rect x="1171" y="1555" width="23" height="20" fill="#ff8080"/>
<rect x="1194" y="1555" width="47" height="20" fill="#ff9999"/>
<rect x="1241" y="1555" width="24" height="20" fill="#ffadad"/>
<rect x="1265" y="1555" width="47" height="20" fill="#ffc2c2"/>
<rect x="1312" y="1555" width="23" height="20" fill="#ffe0e0"/>
<rect x="1359" y="1555" width="70" height="20" fill="#f7f7ff"/>
<rect x="1429" y="1555" width="24" height="20" fill="#e0e0ff"/>
<rect x="1453" y="1555" width="23" height="20" fill="#ededff"/>
<rect x="1476" y="1555" width="24" height="20" fill="#e0e0ff"/>
</g>
<rect x="1163" y="975" width="17" height="600" fill="#000" fill-opacity="0.25"/>
<line x1="418.0" y1="1575" x2="418.0" y2="975" stroke="#000" stroke-width="2" stroke-dasharray="4.17 12.5"/>
<line x1="607.8" y1="1575" x2="607.8" y2="975" stroke="#000" stroke-width="2" stroke-dasharray="4.17 12.5"/>
<line x1="797.6" y1="1575" x2="797.6" y2="975" stroke="#000" stroke-width="2" stroke-dasharray="4.17 12.5"/>
<line x1="987.4" y1="1575" x2="987.4" y2="975" stroke="#000" stroke-width="2" stroke-dasharray="4.17 12.5"/>
<line x1="1177.2" y1="1575" x2="1177.2" y2="975" stroke="#000" stroke-width="2" stroke-dasharray="4.17 12.5"/>
<line x1="1367.0" y1="1575" x2="1367.0" y2="975" stroke="#000" stroke-width="2" stroke-dasharray="4.17 12.5"/>
<line x1="300" y1="1075.0" x2="1500" y2="1075.0" stroke="#000" stroke-width="2" stroke-dasharray="4.17 12.5"/>
<line x1="300" y1="1275.0" x2="1500" y2="1275.0" stroke="#000" stroke-width="2" stroke-dasharray="4.17 12.5"/>
<line x1="300" y1="1375.0" x2="1500" y2="1375.0" stroke="#000" stroke-width="2" stroke-dasharray="4.17 12.5"/>
<line x1="300" y1="1475.0" x2="1500" y2="1475.0" stroke="#000" stroke-width="2" stroke-dasharray="4.17 12.5"/>
<line x1="300" y1="1175" x2="1500" y2="1175" stroke="#000" stroke-width="4"/>
<path d="M418.0 975V995M418.0 1575V1554.5M607.8 975V995M607.8 1575V1554.5M797.6 975V995M797.6 1575V1554.5M987.4 975V995M987.4 1575V1554.5M1177.2 975V995M1177.2 1575V1554.5M1367.0 975V995M1367.0 1575V1554.5M300 975H320.5M1500 975H1479.5M300 1075H320.5M1500 1075H1479.5M300 1175H320.5M1500 1175H1479.5M300 1275H320.5M1500 1275H1479.5M300 1375H320.5M1500 1375H1479.5M300 1475H320.5M1500 1475H1479.5M300 1575H320.5M1500 1575H1479.5" stroke="#000" stroke-width="2" fill="none"/>
<rect x="300" y="975" width="1200" height="600" fill="none" stroke="#000" stroke-width="4"/>
<text x="282.5" y="992.3" text-anchor="end" style="font-family:'DejaVu Sans','Liberation Sans',sans-serif;font-size:58.33px">1.0</text>
<text x="282.5" y="1092.3" text-anchor="end" style="font-family:'DejaVu Sans','Liberation Sans',sans-serif;font-size:58.33px">0.5</text>
<text x="282.5" y="1192.3" text-anchor="end" style="font-family:'DejaVu Sans','Liberation Sans',sans-serif;font-size:58.33px">0.0</text>
<text x="282.5" y="1292.3" text-anchor="end" style="font-family:'DejaVu Sans','Liberation Sans',sans-serif;font-size:58.33px">−0.5</text>
<text x="282.5" y="1392.3" text-anchor="end" style="font-family:'DejaVu Sans','Liberation Sans',sans-serif;font-size:58.33px">−1.0</text>
<text x="282.5" y="1492.3" text-anchor="end" style="font-family:'DejaVu Sans','Liberation Sans',sans-serif;font-size:58.33px">−1.5</text>
<text x="282.5" y="1592.3" text-anchor="end" style="font-family:'DejaVu Sans','Liberation Sans',sans-serif;font-size:58.33px">−2.0</text>
<g transform="translate(0 1275) rotate(-90)">
<text transform="matrix(0.7551 0 0 0.6189 -104.29 102.98)" style="font-family:'DejaVu Serif',serif;font-style:italic;font-size:100px">τ</text>
<text transform="matrix(0.5144 0 0 0.5446 -68.36 116.00)" style="font-family:'Liberation Serif',serif;font-size:100px">21</text>
<text transform="matrix(0.4385 0 0 0.5522 2.45 106.70)" style="font-family:'Liberation Serif',serif;font-size:100px">(</text>
<text transform="matrix(0.6122 0 0 0.6167 18.49 105.05)" style="font-family:'DejaVu Sans',sans-serif;font-size:100px">p</text>
<text transform="matrix(0.5881 0 0 0.6172 56.36 103.18)" style="font-family:'DejaVu Sans',sans-serif;font-size:100px">s</text>
<text transform="matrix(0.4385 0 0 0.5433 86.48 105.49)" style="font-family:'Liberation Serif',serif;font-size:100px">)</text>
</g>
<rect x="334" y="1009" width="373.5" height="117" fill="#fff" fill-opacity="0.75" stroke="#000" stroke-opacity="0.75" stroke-width="4"/>
<text x="354" y="1088.7" style="font-family:'DejaVu Sans','Liberation Sans',sans-serif;font-size:76px">500 dual</text>
<g shape-rendering="crispEdges">
<rect x="300" y="1650" width="47" height="20" fill="#fff7f7"/>
<rect x="347" y="1650" width="24" height="20" fill="#f7f7ff"/>
<rect x="418" y="1650" width="23" height="20" fill="#f7f7ff"/>
<rect x="441" y="1650" width="47" height="20" fill="#fff7f7"/>
<rect x="488" y="1650" width="24" height="20" fill="#f7f7ff"/>
<rect x="512" y="1650" width="47" height="20" fill="#ededff"/>
<rect x="559" y="1650" width="23" height="20" fill="#fff7f7"/>
<rect x="606" y="1650" width="23" height="20" fill="#f7f7ff"/>
<rect x="653" y="1650" width="47" height="20" fill="#fff7f7"/>
<rect x="700" y="1650" width="24" height="20" fill="#ffeded"/>
<rect x="724" y="1650" width="47" height="20" fill="#f7f7ff"/>
<rect x="771" y="1650" width="23" height="20" fill="#ededff"/>
<rect x="888" y="1650" width="24" height="20" fill="#ffeded"/>
<rect x="935" y="1650" width="24" height="20" fill="#f7f7ff"/>
<rect x="959" y="1650" width="23" height="20" fill="#fff7f7"/>
<rect x="982" y="1650" width="24" height="20" fill="#ffeded"/>
<rect x="1006" y="1650" width="47" height="20" fill="#fff7f7"/>
<rect x="1076" y="1650" width="24" height="20" fill="#f7f7ff"/>
<rect x="1100" y="1650" width="24" height="20" fill="#fff7f7"/>
<rect x="1124" y="1650" width="23" height="20" fill="#f7f7ff"/>
<rect x="1147" y="1650" width="24" height="20" fill="#fff7f7"/>
<rect x="1171" y="1650" width="23" height="20" fill="#ffeded"/>
<rect x="1194" y="1650" width="47" height="20" fill="#f7f7ff"/>
<rect x="1265" y="1650" width="23" height="20" fill="#f7f7ff"/>
<rect x="1288" y="1650" width="24" height="20" fill="#fff7f7"/>
<rect x="1359" y="1650" width="23" height="20" fill="#fff7f7"/>
<rect x="1406" y="1650" width="23" height="20" fill="#fff7f7"/>
<rect x="1453" y="1650" width="47" height="20" fill="#fff7f7"/>
<rect x="347" y="1670" width="47" height="20" fill="#fff7f7"/>
<rect x="441" y="1670" width="24" height="20" fill="#fff7f7"/>
<rect x="465" y="1670" width="23" height="20" fill="#f7f7ff"/>
<rect x="488" y="1670" width="24" height="20" fill="#ededff"/>
<rect x="512" y="1670" width="23" height="20" fill="#f7f7ff"/>
<rect x="535" y="1670" width="24" height="20" fill="#ffeded"/>
<rect x="559" y="1670" width="23" height="20" fill="#fff7f7"/>
<rect x="653" y="1670" width="47" height="20" fill="#fff7f7"/>
<rect x="700" y="1670" width="24" height="20" fill="#ffe0e0"/>
<rect x="724" y="1670" width="23" height="20" fill="#e0e0ff"/>
<rect x="747" y="1670" width="24" height="20" fill="#d1d1ff"/>
<rect x="771" y="1670" width="23" height="20" fill="#fff7f7"/>
<rect x="794" y="1670" width="24" height="20" fill="#e0e0ff"/>
<rect x="818" y="1670" width="23" height="20" fill="#ffe0e0"/>
<rect x="841" y="1670" width="47" height="20" fill="#ededff"/>
<rect x="888" y="1670" width="24" height="20" fill="#f7f7ff"/>
<rect x="912" y="1670" width="23" height="20" fill="#fff7f7"/>
<rect x="935" y="1670" width="24" height="20" fill="#ffeded"/>
<rect x="959" y="1670" width="23" height="20" fill="#f7f7ff"/>
<rect x="1006" y="1670" width="23" height="20" fill="#fff7f7"/>
<rect x="1029" y="1670" width="24" height="20" fill="#ededff"/>
<rect x="1053" y="1670" width="23" height="20" fill="#f7f7ff"/>
<rect x="1100" y="1670" width="24" height="20" fill="#f7f7ff"/>
<rect x="1124" y="1670" width="23" height="20" fill="#fff7f7"/>
<rect x="1171" y="1670" width="23" height="20" fill="#fff7f7"/>
<rect x="1194" y="1670" width="24" height="20" fill="#f7f7ff"/>
<rect x="1265" y="1670" width="47" height="20" fill="#f7f7ff"/>
<rect x="1312" y="1670" width="23" height="20" fill="#fff7f7"/>
<rect x="1335" y="1670" width="24" height="20" fill="#f7f7ff"/>
<rect x="1359" y="1670" width="23" height="20" fill="#ededff"/>
<rect x="1382" y="1670" width="24" height="20" fill="#fff7f7"/>
<rect x="300" y="1690" width="24" height="20" fill="#f7f7ff"/>
<rect x="347" y="1690" width="24" height="20" fill="#fff7f7"/>
<rect x="418" y="1690" width="23" height="20" fill="#f7f7ff"/>
<rect x="441" y="1690" width="24" height="20" fill="#fff7f7"/>
<rect x="488" y="1690" width="47" height="20" fill="#f7f7ff"/>
<rect x="582" y="1690" width="24" height="20" fill="#f7f7ff"/>
<rect x="747" y="1690" width="47" height="20" fill="#ededff"/>
<rect x="794" y="1690" width="24" height="20" fill="#fff7f7"/>
<rect x="818" y="1690" width="47" height="20" fill="#f7f7ff"/>
<rect x="888" y="1690" width="24" height="20" fill="#ffeded"/>
<rect x="912" y="1690" width="47" height="20" fill="#ededff"/>
<rect x="959" y="1690" width="23" height="20" fill="#ffeded"/>
<rect x="982" y="1690" width="24" height="20" fill="#ededff"/>
<rect x="1006" y="1690" width="23" height="20" fill="#f7f7ff"/>
<rect x="1029" y="1690" width="24" height="20" fill="#fff7f7"/>
<rect x="1053" y="1690" width="23" height="20" fill="#f7f7ff"/>
<rect x="1100" y="1690" width="24" height="20" fill="#fff7f7"/>
<rect x="1124" y="1690" width="23" height="20" fill="#f7f7ff"/>
<rect x="1171" y="1690" width="47" height="20" fill="#fff7f7"/>
<rect x="1218" y="1690" width="23" height="20" fill="#ededff"/>
<rect x="1241" y="1690" width="24" height="20" fill="#f7f7ff"/>
<rect x="1335" y="1690" width="24" height="20" fill="#f7f7ff"/>
<rect x="1382" y="1690" width="24" height="20" fill="#f7f7ff"/>
<rect x="1429" y="1690" width="24" height="20" fill="#fff7f7"/>
<rect x="1453" y="1690" width="23" height="20" fill="#f7f7ff"/>
<rect x="300" y="1710" width="24" height="20" fill="#fff7f7"/>
<rect x="465" y="1710" width="23" height="20" fill="#fff7f7"/>
<rect x="629" y="1710" width="24" height="20" fill="#fff7f7"/>
<rect x="724" y="1710" width="23" height="20" fill="#fff7f7"/>
<rect x="747" y="1710" width="24" height="20" fill="#d1d1ff"/>
<rect x="771" y="1710" width="23" height="20" fill="#f7f7ff"/>
<rect x="794" y="1710" width="24" height="20" fill="#fff7f7"/>
<rect x="818" y="1710" width="23" height="20" fill="#ffe0e0"/>
<rect x="841" y="1710" width="24" height="20" fill="#ededff"/>
<rect x="912" y="1710" width="23" height="20" fill="#f7f7ff"/>
<rect x="935" y="1710" width="24" height="20" fill="#fff7f7"/>
<rect x="982" y="1710" width="118" height="20" fill="#f7f7ff"/>
<rect x="1100" y="1710" width="24" height="20" fill="#fff7f7"/>
<rect x="1124" y="1710" width="23" height="20" fill="#f7f7ff"/>
<rect x="1147" y="1710" width="24" height="20" fill="#ededff"/>
<rect x="1171" y="1710" width="23" height="20" fill="#fff7f7"/>
<rect x="1218" y="1710" width="47" height="20" fill="#fff7f7"/>
<rect x="1265" y="1710" width="23" height="20" fill="#f7f7ff"/>
<rect x="1288" y="1710" width="24" height="20" fill="#fff7f7"/>
<rect x="1335" y="1710" width="24" height="20" fill="#fff7f7"/>
<rect x="1382" y="1710" width="24" height="20" fill="#f7f7ff"/>
<rect x="1429" y="1710" width="24" height="20" fill="#fff7f7"/>
<rect x="441" y="1730" width="24" height="20" fill="#f7f7ff"/>
<rect x="488" y="1730" width="24" height="20" fill="#fff7f7"/>
<rect x="771" y="1730" width="23" height="20" fill="#ededff"/>
<rect x="794" y="1730" width="24" height="20" fill="#ffe0e0"/>
<rect x="818" y="1730" width="23" height="20" fill="#f7f7ff"/>
<rect x="841" y="1730" width="24" height="20" fill="#fff7f7"/>
<rect x="865" y="1730" width="23" height="20" fill="#ffeded"/>
<rect x="888" y="1730" width="24" height="20" fill="#fff7f7"/>
<rect x="935" y="1730" width="24" height="20" fill="#ffe0e0"/>
<rect x="982" y="1730" width="24" height="20" fill="#ededff"/>
<rect x="1006" y="1730" width="94" height="20" fill="#f7f7ff"/>
<rect x="1100" y="1730" width="71" height="20" fill="#fff7f7"/>
<rect x="1194" y="1730" width="24" height="20" fill="#fff7f7"/>
<rect x="1265" y="1730" width="23" height="20" fill="#fff7f7"/>
<rect x="1312" y="1730" width="47" height="20" fill="#fff7f7"/>
<rect x="1359" y="1730" width="141" height="20" fill="#f7f7ff"/>
<rect x="300" y="1750" width="24" height="20" fill="#f7f7ff"/>
<rect x="441" y="1750" width="24" height="20" fill="#f7f7ff"/>
<rect x="488" y="1750" width="24" height="20" fill="#fff7f7"/>
<rect x="559" y="1750" width="23" height="20" fill="#f7f7ff"/>
<rect x="606" y="1750" width="23" height="20" fill="#f7f7ff"/>
<rect x="747" y="1750" width="24" height="20" fill="#ffeded"/>
<rect x="771" y="1750" width="23" height="20" fill="#ededff"/>
<rect x="818" y="1750" width="23" height="20" fill="#fff7f7"/>
<rect x="841" y="1750" width="24" height="20" fill="#f7f7ff"/>
<rect x="865" y="1750" width="23" height="20" fill="#e0e0ff"/>
<rect x="912" y="1750" width="23" height="20" fill="#f7f7ff"/>
<rect x="935" y="1750" width="24" height="20" fill="#ffeded"/>
<rect x="982" y="1750" width="24" height="20" fill="#e0e0ff"/>
<rect x="1029" y="1750" width="24" height="20" fill="#ffeded"/>
<rect x="1100" y="1750" width="24" height="20" fill="#ededff"/>
<rect x="1124" y="1750" width="23" height="20" fill="#f7f7ff"/>
<rect x="1171" y="1750" width="47" height="20" fill="#fff7f7"/>
<rect x="1312" y="1750" width="23" height="20" fill="#fff7f7"/>
<rect x="1335" y="1750" width="24" height="20" fill="#f7f7ff"/>
<rect x="1359" y="1750" width="23" height="20" fill="#fff7f7"/>
<rect x="1382" y="1750" width="24" height="20" fill="#ededff"/>
<rect x="1429" y="1750" width="24" height="20" fill="#f7f7ff"/>
<rect x="300" y="1770" width="24" height="20" fill="#f7f7ff"/>
<rect x="394" y="1770" width="24" height="20" fill="#fff7f7"/>
<rect x="441" y="1770" width="24" height="20" fill="#fff7f7"/>
<rect x="582" y="1770" width="24" height="20" fill="#fff7f7"/>
<rect x="771" y="1770" width="23" height="20" fill="#fff7f7"/>
<rect x="794" y="1770" width="24" height="20" fill="#f7f7ff"/>
<rect x="818" y="1770" width="23" height="20" fill="#e0e0ff"/>
<rect x="841" y="1770" width="24" height="20" fill="#ffeded"/>
<rect x="888" y="1770" width="24" height="20" fill="#f7f7ff"/>
<rect x="912" y="1770" width="94" height="20" fill="#fff7f7"/>
<rect x="1029" y="1770" width="71" height="20" fill="#f7f7ff"/>
<rect x="1100" y="1770" width="24" height="20" fill="#ededff"/>
<rect x="1171" y="1770" width="47" height="20" fill="#fff7f7"/>
<rect x="1218" y="1770" width="23" height="20" fill="#f7f7ff"/>
<rect x="1241" y="1770" width="24" height="20" fill="#fff7f7"/>
<rect x="1288" y="1770" width="47" height="20" fill="#f7f7ff"/>
<rect x="1335" y="1770" width="24" height="20" fill="#fff7f7"/>
<rect x="1382" y="1770" width="24" height="20" fill="#fff7f7"/>
<rect x="1429" y="1770" width="24" height="20" fill="#f7f7ff"/>
<rect x="1476" y="1770" width="24" height="20" fill="#fff7f7"/>
<rect x="300" y="1790" width="24" height="20" fill="#fff7f7"/>
<rect x="418" y="1790" width="23" height="20" fill="#fff7f7"/>
<rect x="488" y="1790" width="24" height="20" fill="#f7f7ff"/>
<rect x="606" y="1790" width="23" height="20" fill="#ffe0e0"/>
<rect x="747" y="1790" width="24" height="20" fill="#f7f7ff"/>
<rect x="771" y="1790" width="23" height="20" fill="#e0e0ff"/>
<rect x="794" y="1790" width="24" height="20" fill="#f7f7ff"/>
<rect x="818" y="1790" width="23" height="20" fill="#ededff"/>
<rect x="841" y="1790" width="24" height="20" fill="#ffeded"/>
<rect x="865" y="1790" width="23" height="20" fill="#ffe0e0"/>
<rect x="888" y="1790" width="47" height="20" fill="#ffeded"/>
<rect x="935" y="1790" width="24" height="20" fill="#ffe0e0"/>
<rect x="959" y="1790" width="70" height="20" fill="#f7f7ff"/>
<rect x="1124" y="1790" width="23" height="20" fill="#f7f7ff"/>
<rect x="1147" y="1790" width="47" height="20" fill="#ffeded"/>
<rect x="1194" y="1790" width="24" height="20" fill="#f7f7ff"/>
<rect x="1241" y="1790" width="24" height="20" fill="#f7f7ff"/>
<rect x="1288" y="1790" width="24" height="20" fill="#f7f7ff"/>
<rect x="1312" y="1790" width="23" height="20" fill="#ffeded"/>
<rect x="1382" y="1790" width="24" height="20" fill="#f7f7ff"/>
<rect x="1429" y="1790" width="47" height="20" fill="#f7f7ff"/>
<rect x="324" y="1810" width="23" height="20" fill="#fff7f7"/>
<rect x="371" y="1810" width="23" height="20" fill="#fff7f7"/>
<rect x="418" y="1810" width="23" height="20" fill="#ffeded"/>
<rect x="441" y="1810" width="24" height="20" fill="#f7f7ff"/>
<rect x="465" y="1810" width="23" height="20" fill="#ededff"/>
<rect x="488" y="1810" width="24" height="20" fill="#f7f7ff"/>
<rect x="512" y="1810" width="23" height="20" fill="#ffe0e0"/>
<rect x="535" y="1810" width="24" height="20" fill="#fff7f7"/>
<rect x="559" y="1810" width="23" height="20" fill="#ffeded"/>
<rect x="606" y="1810" width="23" height="20" fill="#f7f7ff"/>
<rect x="629" y="1810" width="24" height="20" fill="#e0e0ff"/>
<rect x="653" y="1810" width="47" height="20" fill="#c2c2ff"/>
<rect x="700" y="1810" width="24" height="20" fill="#9999ff"/>
<rect x="724" y="1810" width="23" height="20" fill="#c2c2ff"/>
<rect x="747" y="1810" width="24" height="20" fill="#ededff"/>
<rect x="771" y="1810" width="23" height="20" fill="#ffe0e0"/>
<rect x="794" y="1810" width="24" height="20" fill="#ff8080"/>
<rect x="818" y="1810" width="23" height="20" fill="#ff1919"/>
<rect x="841" y="1810" width="24" height="20" fill="#eb0000"/>
<rect x="865" y="1810" width="23" height="20" fill="#d60000"/>
<rect x="888" y="1810" width="24" height="20" fill="#eb0000"/>
<rect x="912" y="1810" width="23" height="20" fill="#ff0000"/>
<rect x="935" y="1810" width="24" height="20" fill="#ff4d4d"/>
<rect x="959" y="1810" width="23" height="20" fill="#ff9999"/>
<rect x="982" y="1810" width="24" height="20" fill="#ffd1d1"/>
<rect x="1006" y="1810" width="23" height="20" fill="#ffe0e0"/>
<rect x="1029" y="1810" width="24" height="20" fill="#ffadad"/>
<rect x="1053" y="1810" width="23" height="20" fill="#ff9999"/>
<rect x="1076" y="1810" width="48" height="20" fill="#ff8080"/>
<rect x="1124" y="1810" width="23" height="20" fill="#ff6666"/>
<rect x="1147" y="1810" width="24" height="20" fill="#ff8080"/>
<rect x="1171" y="1810" width="23" height="20" fill="#ff0000"/>
<rect x="1194" y="1810" width="24" height="20" fill="#ff3333"/>
<rect x="1218" y="1810" width="23" height="20" fill="#ffe0e0"/>
<rect x="1241" y="1810" width="24" height="20" fill="#ededff"/>
<rect x="1265" y="1810" width="23" height="20" fill="#f7f7ff"/>
<rect x="1288" y="1810" width="71" height="20" fill="#fff7f7"/>
<rect x="1359" y="1810" width="23" height="20" fill="#f7f7ff"/>
<rect x="1429" y="1810" width="71" height="20" fill="#f7f7ff"/>
<rect x="300" y="1830" width="24" height="20" fill="#fff7f7"/>
<rect x="371" y="1830" width="47" height="20" fill="#fff7f7"/>
<rect x="465" y="1830" width="23" height="20" fill="#e0e0ff"/>
<rect x="488" y="1830" width="24" height="20" fill="#ffe0e0"/>
<rect x="535" y="1830" width="24" height="20" fill="#f7f7ff"/>
<rect x="559" y="1830" width="23" height="20" fill="#e0e0ff"/>
<rect x="582" y="1830" width="24" height="20" fill="#adadff"/>
<rect x="606" y="1830" width="23" height="20" fill="#9999ff"/>
<rect x="629" y="1830" width="24" height="20" fill="#8080ff"/>
<rect x="653" y="1830" width="47" height="20" fill="#3333ff"/>
<rect x="700" y="1830" width="47" height="20" fill="#0000ff"/>
<rect x="747" y="1830" width="24" height="20" fill="#1919ff"/>
<rect x="771" y="1830" width="23" height="20" fill="#6666ff"/>
<rect x="794" y="1830" width="24" height="20" fill="#ffeded"/>
<rect x="818" y="1830" width="23" height="20" fill="#ff4d4d"/>
<rect x="841" y="1830" width="24" height="20" fill="#eb0000"/>
<rect x="865" y="1830" width="70" height="20" fill="#800000"/>
<rect x="935" y="1830" width="24" height="20" fill="#ad0000"/>
<rect x="959" y="1830" width="23" height="20" fill="#eb0000"/>
<rect x="982" y="1830" width="47" height="20" fill="#ff0000"/>
<rect x="1029" y="1830" width="24" height="20" fill="#ff1919"/>
<rect x="1053" y="1830" width="47" height="20" fill="#eb0000"/>
<rect x="1100" y="1830" width="47" height="20" fill="#ad0000"/>
<rect x="1147" y="1830" width="47" height="20" fill="#990000"/>
<rect x="1194" y="1830" width="47" height="20" fill="#c20000"/>
<rect x="1241" y="1830" width="71" height="20" fill="#eb0000"/>
<rect x="1312" y="1830" width="23" height="20" fill="#ff8080"/>
<rect x="1335" y="1830" width="24" height="20" fill="#ffeded"/>
<rect x="1359" y="1830" width="23" height="20" fill="#fff7f7"/>
<rect x="1382" y="1830" width="24" height="20" fill="#d1d1ff"/>
<rect x="1406" y="1830" width="47" height="20" fill="#c2c2ff"/>
<rect x="1453" y="1830" width="23" height="20" fill="#d1d1ff"/>
<rect x="1476" y="1830" width="24" height="20" fill="#e0e0ff"/>
<rect x="324" y="1850" width="70" height="20" fill="#fff7f7"/>
<rect x="418" y="1850" width="23" height="20" fill="#f7f7ff"/>
<rect x="441" y="1850" width="24" height="20" fill="#fff7f7"/>
<rect x="465" y="1850" width="23" height="20" fill="#ededff"/>
<rect x="488" y="1850" width="24" height="20" fill="#f7f7ff"/>
<rect x="559" y="1850" width="23" height="20" fill="#e0e0ff"/>
<rect x="582" y="1850" width="24" height="20" fill="#c2c2ff"/>
<rect x="606" y="1850" width="23" height="20" fill="#adadff"/>
<rect x="629" y="1850" width="24" height="20" fill="#8080ff"/>
<rect x="653" y="1850" width="23" height="20" fill="#3333ff"/>
<rect x="676" y="1850" width="24" height="20" fill="#1919ff"/>
<rect x="700" y="1850" width="71" height="20" fill="#0000ff"/>
<rect x="771" y="1850" width="23" height="20" fill="#4d4dff"/>
<rect x="794" y="1850" width="24" height="20" fill="#d1d1ff"/>
<rect x="818" y="1850" width="23" height="20" fill="#ff9999"/>
<rect x="841" y="1850" width="24" height="20" fill="#ff0000"/>
<rect x="865" y="1850" width="23" height="20" fill="#d60000"/>
<rect x="888" y="1850" width="24" height="20" fill="#c20000"/>
<rect x="912" y="1850" width="23" height="20" fill="#d60000"/>
<rect x="935" y="1850" width="24" height="20" fill="#eb0000"/>
<rect x="959" y="1850" width="23" height="20" fill="#ff3333"/>
<rect x="982" y="1850" width="24" height="20" fill="#ff6666"/>
<rect x="1006" y="1850" width="47" height="20" fill="#ff8080"/>
<rect x="1053" y="1850" width="23" height="20" fill="#ff3333"/>
<rect x="1076" y="1850" width="24" height="20" fill="#ff1919"/>
<rect x="1100" y="1850" width="24" height="20" fill="#eb0000"/>
<rect x="1124" y="1850" width="70" height="20" fill="#d60000"/>
<rect x="1194" y="1850" width="47" height="20" fill="#eb0000"/>
<rect x="1241" y="1850" width="24" height="20" fill="#ff1919"/>
<rect x="1265" y="1850" width="47" height="20" fill="#ff4d4d"/>
<rect x="1312" y="1850" width="23" height="20" fill="#ff9999"/>
<rect x="1335" y="1850" width="24" height="20" fill="#ffadad"/>
<rect x="1359" y="1850" width="23" height="20" fill="#ffd1d1"/>
<rect x="1406" y="1850" width="23" height="20" fill="#f7f7ff"/>
<rect x="1429" y="1850" width="47" height="20" fill="#ededff"/>
<rect x="324" y="1870" width="23" height="20" fill="#fff7f7"/>
<rect x="441" y="1870" width="24" height="20" fill="#f7f7ff"/>
<rect x="465" y="1870" width="23" height="20" fill="#fff7f7"/>
<rect x="488" y="1870" width="47" height="20" fill="#ededff"/>
<rect x="535" y="1870" width="24" height="20" fill="#f7f7ff"/>
<rect x="559" y="1870" width="47" height="20" fill="#e0e0ff"/>
<rect x="606" y="1870" width="23" height="20" fill="#adadff"/>
<rect x="629" y="1870" width="24" height="20" fill="#8080ff"/>
<rect x="653" y="1870" width="47" height="20" fill="#3333ff"/>
<rect x="700" y="1870" width="47" height="20" fill="#0000ff"/>
<rect x="747" y="1870" width="24" height="20" fill="#1919ff"/>
<rect x="771" y="1870" width="23" height="20" fill="#3333ff"/>
<rect x="794" y="1870" width="24" height="20" fill="#adadff"/>
<rect x="818" y="1870" width="23" height="20" fill="#ffadad"/>
<rect x="841" y="1870" width="24" height="20" fill="#ff1919"/>
<rect x="865" y="1870" width="23" height="20" fill="#eb0000"/>
<rect x="888" y="1870" width="47" height="20" fill="#d60000"/>
<rect x="935" y="1870" width="24" height="20" fill="#ff0000"/>
<rect x="959" y="1870" width="23" height="20" fill="#ff6666"/>
<rect x="982" y="1870" width="24" height="20" fill="#ff8080"/>
<rect x="1006" y="1870" width="47" height="20" fill="#ffadad"/>
<rect x="1053" y="1870" width="23" height="20" fill="#ff8080"/>
<rect x="1076" y="1870" width="24" height="20" fill="#ff4d4d"/>
<rect x="1100" y="1870" width="47" height="20" fill="#ff0000"/>
<rect x="1147" y="1870" width="71" height="20" fill="#eb0000"/>
<rect x="1218" y="1870" width="23" height="20" fill="#ff1919"/>
<rect x="1241" y="1870" width="24" height="20" fill="#ff4d4d"/>
<rect x="1265" y="1870" width="23" height="20" fill="#ff6666"/>
<rect x="1288" y="1870" width="24" height="20" fill="#ff8080"/>
<rect x="1312" y="1870" width="23" height="20" fill="#ffadad"/>
<rect x="1335" y="1870" width="24" height="20" fill="#ffd1d1"/>
<rect x="1359" y="1870" width="23" height="20" fill="#ffe0e0"/>
<rect x="1406" y="1870" width="23" height="20" fill="#f7f7ff"/>
<rect x="1429" y="1870" width="24" height="20" fill="#ededff"/>
<rect x="1453" y="1870" width="23" height="20" fill="#e0e0ff"/>
<rect x="1476" y="1870" width="24" height="20" fill="#ededff"/>
<rect x="300" y="1890" width="24" height="20" fill="#ededff"/>
<rect x="394" y="1890" width="24" height="20" fill="#fff7f7"/>
<rect x="441" y="1890" width="47" height="20" fill="#ffeded"/>
<rect x="488" y="1890" width="24" height="20" fill="#f7f7ff"/>
<rect x="512" y="1890" width="23" height="20" fill="#fff7f7"/>
<rect x="535" y="1890" width="24" height="20" fill="#ededff"/>
<rect x="559" y="1890" width="23" height="20" fill="#d1d1ff"/>
<rect x="582" y="1890" width="24" height="20" fill="#c2c2ff"/>
<rect x="606" y="1890" width="23" height="20" fill="#9999ff"/>
<rect x="629" y="1890" width="24" height="20" fill="#6666ff"/>
<rect x="653" y="1890" width="47" height="20" fill="#3333ff"/>
<rect x="700" y="1890" width="71" height="20" fill="#0000ff"/>
<rect x="771" y="1890" width="23" height="20" fill="#3333ff"/>
<rect x="794" y="1890" width="24" height="20" fill="#9999ff"/>
<rect x="818" y="1890" width="23" height="20" fill="#ffe0e0"/>
<rect x="841" y="1890" width="24" height="20" fill="#ff4d4d"/>
<rect x="865" y="1890" width="70" height="20" fill="#eb0000"/>
<rect x="935" y="1890" width="24" height="20" fill="#ff1919"/>
<rect x="959" y="1890" width="47" height="20" fill="#ff8080"/>
<rect x="1006" y="1890" width="23" height="20" fill="#ffc2c2"/>
<rect x="1029" y="1890" width="24" height="20" fill="#ffadad"/>
<rect x="1053" y="1890" width="23" height="20" fill="#ff8080"/>
<rect x="1076" y="1890" width="24" height="20" fill="#ff6666"/>
<rect x="1100" y="1890" width="24" height="20" fill="#ff1919"/>
<rect x="1124" y="1890" width="23" height="20" fill="#ff0000"/>
<rect x="1147" y="1890" width="24" height="20" fill="#eb0000"/>
<rect x="1171" y="1890" width="23" height="20" fill="#ff0000"/>
<rect x="1194" y="1890" width="47" height="20" fill="#ff1919"/>
<rect x="1241" y="1890" width="24" height="20" fill="#ff4d4d"/>
<rect x="1265" y="1890" width="23" height="20" fill="#ff8080"/>
<rect x="1288" y="1890" width="24" height="20" fill="#ff9999"/>
<rect x="1312" y="1890" width="23" height="20" fill="#ffadad"/>
<rect x="1335" y="1890" width="24" height="20" fill="#ffe0e0"/>
<rect x="1406" y="1890" width="70" height="20" fill="#ededff"/>
<rect x="1476" y="1890" width="24" height="20" fill="#f7f7ff"/>
<rect x="324" y="1910" width="47" height="20" fill="#fff7f7"/>
<rect x="371" y="1910" width="23" height="20" fill="#f7f7ff"/>
<rect x="488" y="1910" width="24" height="20" fill="#f7f7ff"/>
<rect x="512" y="1910" width="23" height="20" fill="#fff7f7"/>
<rect x="535" y="1910" width="24" height="20" fill="#c2c2ff"/>
<rect x="559" y="1910" width="23" height="20" fill="#ededff"/>
<rect x="582" y="1910" width="24" height="20" fill="#c2c2ff"/>
<rect x="606" y="1910" width="23" height="20" fill="#adadff"/>
<rect x="629" y="1910" width="24" height="20" fill="#9999ff"/>
<rect x="653" y="1910" width="23" height="20" fill="#4d4dff"/>
<rect x="676" y="1910" width="24" height="20" fill="#3333ff"/>
<rect x="700" y="1910" width="24" height="20" fill="#1919ff"/>
<rect x="724" y="1910" width="70" height="20" fill="#0000ff"/>
<rect x="794" y="1910" width="24" height="20" fill="#9999ff"/>
<rect x="818" y="1910" width="23" height="20" fill="#fff7f7"/>
<rect x="841" y="1910" width="24" height="20" fill="#ff8080"/>
<rect x="865" y="1910" width="23" height="20" fill="#ff1919"/>
<rect x="888" y="1910" width="24" height="20" fill="#eb0000"/>
<rect x="912" y="1910" width="23" height="20" fill="#ff0000"/>
<rect x="935" y="1910" width="24" height="20" fill="#ff4d4d"/>
<rect x="959" y="1910" width="23" height="20" fill="#ff9999"/>
<rect x="982" y="1910" width="24" height="20" fill="#ffd1d1"/>
<rect x="1006" y="1910" width="23" height="20" fill="#fff7f7"/>
<rect x="1029" y="1910" width="24" height="20" fill="#ffeded"/>
<rect x="1053" y="1910" width="23" height="20" fill="#ffc2c2"/>
<rect x="1076" y="1910" width="24" height="20" fill="#ff8080"/>
<rect x="1100" y="1910" width="24" height="20" fill="#ff3333"/>
<rect x="1124" y="1910" width="23" height="20" fill="#ff1919"/>
<rect x="1147" y="1910" width="47" height="20" fill="#ff0000"/>
<rect x="1194" y="1910" width="24" height="20" fill="#ff1919"/>
<rect x="1218" y="1910" width="23" height="20" fill="#ff3333"/>
<rect x="1241" y="1910" width="24" height="20" fill="#ff4d4d"/>
<rect x="1265" y="1910" width="23" height="20" fill="#ff8080"/>
<rect x="1288" y="1910" width="24" height="20" fill="#ff9999"/>
<rect x="1312" y="1910" width="23" height="20" fill="#ffd1d1"/>
<rect x="1335" y="1910" width="24" height="20" fill="#ffe0e0"/>
<rect x="1359" y="1910" width="23" height="20" fill="#f7f7ff"/>
<rect x="1382" y="1910" width="118" height="20" fill="#ededff"/>
<rect x="347" y="1930" width="47" height="20" fill="#fff7f7"/>
<rect x="418" y="1930" width="23" height="20" fill="#f7f7ff"/>
<rect x="441" y="1930" width="47" height="20" fill="#fff7f7"/>
<rect x="488" y="1930" width="47" height="20" fill="#f7f7ff"/>
<rect x="559" y="1930" width="23" height="20" fill="#e0e0ff"/>
<rect x="582" y="1930" width="24" height="20" fill="#d1d1ff"/>
<rect x="606" y="1930" width="47" height="20" fill="#9999ff"/>
<rect x="653" y="1930" width="23" height="20" fill="#4d4dff"/>
<rect x="676" y="1930" width="24" height="20" fill="#1919ff"/>
<rect x="700" y="1930" width="24" height="20" fill="#0000ff"/>
<rect x="724" y="1930" width="23" height="20" fill="#1919ff"/>
<rect x="747" y="1930" width="24" height="20" fill="#0000ff"/>
<rect x="771" y="1930" width="23" height="20" fill="#3333ff"/>
<rect x="794" y="1930" width="24" height="20" fill="#8080ff"/>
<rect x="818" y="1930" width="23" height="20" fill="#fff7f7"/>
<rect x="841" y="1930" width="24" height="20" fill="#ff9999"/>
<rect x="865" y="1930" width="23" height="20" fill="#ff3333"/>
<rect x="888" y="1930" width="47" height="20" fill="#ff1919"/>
<rect x="935" y="1930" width="24" height="20" fill="#ff8080"/>
<rect x="959" y="1930" width="23" height="20" fill="#ffadad"/>
<rect x="982" y="1930" width="24" height="20" fill="#ffe0e0"/>
<rect x="1006" y="1930" width="23" height="20" fill="#fff7f7"/>
<rect x="1029" y="1930" width="24" height="20" fill="#ffe0e0"/>
<rect x="1053" y="1930" width="23" height="20" fill="#ffd1d1"/>
<rect x="1076" y="1930" width="24" height="20" fill="#ffadad"/>
<rect x="1100" y="1930" width="24" height="20" fill="#ff6666"/>
<rect x="1124" y="1930" width="47" height="20" fill="#ff1919"/>
<rect x="1171" y="1930" width="23" height="20" fill="#ff0000"/>
<rect x="1194" y="1930" width="47" height="20" fill="#ff3333"/>
<rect x="1241" y="1930" width="24" height="20" fill="#ff6666"/>
<rect x="1265" y="1930" width="23" height="20" fill="#ff8080"/>
<rect x="1288" y="1930" width="24" height="20" fill="#ffc2c2"/>
<rect x="1312" y="1930" width="23" height="20" fill="#ffd1d1"/>
<rect x="1335" y="1930" width="24" height="20" fill="#ffeded"/>
<rect x="1382" y="1930" width="24" height="20" fill="#ededff"/>
<rect x="1406" y="1930" width="23" height="20" fill="#e0e0ff"/>
<rect x="1429" y="1930" width="47" height="20" fill="#ededff"/>
<rect x="1476" y="1930" width="24" height="20" fill="#e0e0ff"/>
<rect x="300" y="1950" width="24" height="20" fill="#fff7f7"/>
<rect x="347" y="1950" width="24" height="20" fill="#f7f7ff"/>
<rect x="371" y="1950" width="94" height="20" fill="#fff7f7"/>
<rect x="465" y="1950" width="23" height="20" fill="#f7f7ff"/>
<rect x="488" y="1950" width="47" height="20" fill="#fff7f7"/>
<rect x="535" y="1950" width="24" height="20" fill="#f7f7ff"/>
<rect x="559" y="1950" width="47" height="20" fill="#e0e0ff"/>
<rect x="606" y="1950" width="23" height="20" fill="#c2c2ff"/>
<rect x="629" y="1950" width="24" height="20" fill="#9999ff"/>
<rect x="653" y="1950" width="23" height="20" fill="#6666ff"/>
<rect x="676" y="1950" width="24" height="20" fill="#4d4dff"/>
<rect x="700" y="1950" width="71" height="20" fill="#0000ff"/>
<rect x="771" y="1950" width="23" height="20" fill="#3333ff"/>
<rect x="794" y="1950" width="24" height="20" fill="#4d4dff"/>
<rect x="818" y="1950" width="23" height="20" fill="#ededff"/>
<rect x="841" y="1950" width="24" height="20" fill="#ffadad"/>
<rect x="865" y="1950" width="23" height="20" fill="#ff4d4d"/>
<rect x="888" y="1950" width="24" height="20" fill="#ff1919"/>
<rect x="912" y="1950" width="23" height="20" fill="#ff3333"/>
<rect x="935" y="1950" width="24" height="20" fill="#ff8080"/>
<rect x="959" y="1950" width="23" height="20" fill="#ffc2c2"/>
<rect x="1006" y="1950" width="23" height="20" fill="#e0e0ff"/>
<rect x="1029" y="1950" width="24" height="20" fill="#fff7f7"/>
<rect x="1053" y="1950" width="23" height="20" fill="#ffeded"/>
<rect x="1076" y="1950" width="24" height="20" fill="#ffadad"/>
<rect x="1100" y="1950" width="24" height="20" fill="#ff8080"/>
<rect x="1124" y="1950" width="23" height="20" fill="#ff4d4d"/>
<rect x="1147" y="1950" width="24" height="20" fill="#ff1919"/>
<rect x="1171" y="1950" width="47" height="20" fill="#ff3333"/>
<rect x="1218" y="1950" width="23" height="20" fill="#ff6666"/>
<rect x="1241" y="1950" width="24" height="20" fill="#ff8080"/>
<rect x="1265" y="1950" width="23" height="20" fill="#ff9999"/>
<rect x="1288" y="1950" width="24" height="20" fill="#ffadad"/>
<rect x="1312" y="1950" width="23" height="20" fill="#ffd1d1"/>
<rect x="1335" y="1950" width="24" height="20" fill="#ffe0e0"/>
<rect x="1382" y="1950" width="24" height="20" fill="#f7f7ff"/>
<rect x="1406" y="1950" width="47" height="20" fill="#ededff"/>
<rect x="1453" y="1950" width="23" height="20" fill="#f7f7ff"/>
<rect x="1476" y="1950" width="24" height="20" fill="#ededff"/>
<rect x="324" y="1970" width="23" height="20" fill="#fff7f7"/>
<rect x="347" y="1970" width="24" height="20" fill="#ffeded"/>
<rect x="418" y="1970" width="23" height="20" fill="#f7f7ff"/>
<rect x="441" y="1970" width="24" height="20" fill="#fff7f7"/>
<rect x="465" y="1970" width="23" height="20" fill="#ffeded"/>
<rect x="488" y="1970" width="24" height="20" fill="#ededff"/>
<rect x="512" y="1970" width="23" height="20" fill="#fff7f7"/>
<rect x="535" y="1970" width="24" height="20" fill="#e0e0ff"/>
<rect x="559" y="1970" width="23" height="20" fill="#f7f7ff"/>
<rect x="582" y="1970" width="24" height="20" fill="#c2c2ff"/>
<rect x="606" y="1970" width="23" height="20" fill="#adadff"/>
<rect x="629" y="1970" width="24" height="20" fill="#9999ff"/>
<rect x="653" y="1970" width="23" height="20" fill="#8080ff"/>
<rect x="676" y="1970" width="48" height="20" fill="#1919ff"/>
<rect x="724" y="1970" width="47" height="20" fill="#0000ff"/>
<rect x="771" y="1970" width="23" height="20" fill="#1919ff"/>
<rect x="794" y="1970" width="24" height="20" fill="#6666ff"/>
<rect x="818" y="1970" width="23" height="20" fill="#d1d1ff"/>
<rect x="841" y="1970" width="24" height="20" fill="#ffc2c2"/>
<rect x="865" y="1970" width="23" height="20" fill="#ff6666"/>
<rect x="888" y="1970" width="47" height="20" fill="#ff4d4d"/>
<rect x="935" y="1970" width="24" height="20" fill="#ff8080"/>
<rect x="959" y="1970" width="23" height="20" fill="#ffd1d1"/>
<rect x="982" y="1970" width="24" height="20" fill="#f7f7ff"/>
<rect x="1006" y="1970" width="23" height="20" fill="#d1d1ff"/>
<rect x="1029" y="1970" width="24" height="20" fill="#e0e0ff"/>
<rect x="1076" y="1970" width="24" height="20" fill="#ffadad"/>
<rect x="1100" y="1970" width="24" height="20" fill="#ff8080"/>
<rect x="1124" y="1970" width="23" height="20" fill="#ff4d4d"/>
<rect x="1147" y="1970" width="71" height="20" fill="#ff3333"/>
<rect x="1218" y="1970" width="23" height="20" fill="#ff6666"/>
<rect x="1241" y="1970" width="24" height="20" fill="#ff8080"/>
<rect x="1265" y="1970" width="23" height="20" fill="#ffadad"/>
<rect x="1288" y="1970" width="24" height="20" fill="#ffc2c2"/>
<rect x="1312" y="1970" width="23" height="20" fill="#ffe0e0"/>
<rect x="1335" y="1970" width="24" height="20" fill="#ffeded"/>
<rect x="1382" y="1970" width="24" height="20" fill="#ededff"/>
<rect x="1406" y="1970" width="23" height="20" fill="#f7f7ff"/>
<rect x="1429" y="1970" width="24" height="20" fill="#ededff"/>
<rect x="1453" y="1970" width="47" height="20" fill="#e0e0ff"/>
<rect x="347" y="1990" width="94" height="20" fill="#fff7f7"/>
<rect x="441" y="1990" width="24" height="20" fill="#ededff"/>
<rect x="488" y="1990" width="24" height="20" fill="#ffe0e0"/>
<rect x="512" y="1990" width="23" height="20" fill="#fff7f7"/>
<rect x="535" y="1990" width="24" height="20" fill="#ededff"/>
<rect x="559" y="1990" width="47" height="20" fill="#e0e0ff"/>
<rect x="606" y="1990" width="23" height="20" fill="#c2c2ff"/>
<rect x="629" y="1990" width="24" height="20" fill="#8080ff"/>
<rect x="653" y="1990" width="23" height="20" fill="#6666ff"/>
<rect x="676" y="1990" width="24" height="20" fill="#4d4dff"/>
<rect x="700" y="1990" width="24" height="20" fill="#0000ff"/>
<rect x="724" y="1990" width="23" height="20" fill="#1919ff"/>
<rect x="747" y="1990" width="47" height="20" fill="#0000ff"/>
<rect x="794" y="1990" width="24" height="20" fill="#3333ff"/>
<rect x="818" y="1990" width="23" height="20" fill="#c2c2ff"/>
<rect x="841" y="1990" width="24" height="20" fill="#ffc2c2"/>
<rect x="865" y="1990" width="23" height="20" fill="#ff6666"/>
<rect x="888" y="1990" width="24" height="20" fill="#ff4d4d"/>
<rect x="912" y="1990" width="23" height="20" fill="#ff6666"/>
<rect x="935" y="1990" width="24" height="20" fill="#ff9999"/>
<rect x="959" y="1990" width="23" height="20" fill="#ffe0e0"/>
<rect x="982" y="1990" width="24" height="20" fill="#ededff"/>
<rect x="1006" y="1990" width="47" height="20" fill="#d1d1ff"/>
<rect x="1053" y="1990" width="23" height="20" fill="#f7f7ff"/>
<rect x="1076" y="1990" width="24" height="20" fill="#ffd1d1"/>
<rect x="1100" y="1990" width="24" height="20" fill="#ff8080"/>
<rect x="1124" y="1990" width="23" height="20" fill="#ff6666"/>
<rect x="1147" y="1990" width="24" height="20" fill="#ff4d4d"/>
<rect x="1171" y="1990" width="47" height="20" fill="#ff3333"/>
<rect x="1218" y="1990" width="23" height="20" fill="#ff6666"/>
<rect x="1241" y="1990" width="24" height="20" fill="#ff8080"/>
<rect x="1265" y="1990" width="23" height="20" fill="#ffadad"/>
<rect x="1288" y="1990" width="24" height="20" fill="#ffc2c2"/>
<rect x="1312" y="1990" width="23" height="20" fill="#ffe0e0"/>
<rect x="1359" y="1990" width="94" height="20" fill="#ededff"/>
<rect x="1453" y="1990" width="23" height="20" fill="#e0e0ff"/>
<rect x="1476" y="1990" width="24" height="20" fill="#ededff"/>
<rect x="347" y="2010" width="24" height="20" fill="#fff7f7"/>
<rect x="394" y="2010" width="24" height="20" fill="#fff7f7"/>
<rect x="441" y="2010" width="24" height="20" fill="#ffeded"/>
<rect x="465" y="2010" width="23" height="20" fill="#f7f7ff"/>
<rect x="488" y="2010" width="24" height="20" fill="#ffeded"/>
<rect x="512" y="2010" width="47" height="20" fill="#f7f7ff"/>
<rect x="559" y="2010" width="47" height="20" fill="#e0e0ff"/>
<rect x="606" y="2010" width="23" height="20" fill="#c2c2ff"/>
<rect x="629" y="2010" width="24" height="20" fill="#adadff"/>
<rect x="653" y="2010" width="23" height="20" fill="#6666ff"/>
<rect x="676" y="2010" width="24" height="20" fill="#4d4dff"/>
<rect x="700" y="2010" width="24" height="20" fill="#1919ff"/>
<rect x="724" y="2010" width="23" height="20" fill="#3333ff"/>
<rect x="747" y="2010" width="24" height="20" fill="#0000ff"/>
<rect x="771" y="2010" width="23" height="20" fill="#1919ff"/>
<rect x="794" y="2010" width="24" height="20" fill="#3333ff"/>
<rect x="818" y="2010" width="23" height="20" fill="#8080ff"/>
<rect x="841" y="2010" width="24" height="20" fill="#ffe0e0"/>
<rect x="865" y="2010" width="23" height="20" fill="#ff9999"/>
<rect x="888" y="2010" width="24" height="20" fill="#ff6666"/>
<rect x="912" y="2010" width="23" height="20" fill="#ff8080"/>
<rect x="935" y="2010" width="24" height="20" fill="#ffc2c2"/>
<rect x="959" y="2010" width="23" height="20" fill="#ffe0e0"/>
<rect x="982" y="2010" width="24" height="20" fill="#d1d1ff"/>
<rect x="1006" y="2010" width="47" height="20" fill="#c2c2ff"/>
<rect x="1053" y="2010" width="23" height="20" fill="#ededff"/>
<rect x="1076" y="2010" width="24" height="20" fill="#ffe0e0"/>
<rect x="1100" y="2010" width="24" height="20" fill="#ffadad"/>
<rect x="1124" y="2010" width="23" height="20" fill="#ff6666"/>
<rect x="1147" y="2010" width="24" height="20" fill="#ff4d4d"/>
<rect x="1171" y="2010" width="23" height="20" fill="#ff3333"/>
<rect x="1194" y="2010" width="47" height="20" fill="#ff6666"/>
<rect x="1241" y="2010" width="24" height="20" fill="#ff8080"/>
<rect x="1265" y="2010" width="23" height="20" fill="#ffc2c2"/>
<rect x="1288" y="2010" width="47" height="20" fill="#ffe0e0"/>
<rect x="1335" y="2010" width="24" height="20" fill="#ffeded"/>
<rect x="1359" y="2010" width="47" height="20" fill="#f7f7ff"/>
<rect x="1406" y="2010" width="23" height="20" fill="#ededff"/>
<rect x="1429" y="2010" width="24" height="20" fill="#e0e0ff"/>
<rect x="1453" y="2010" width="47" height="20" fill="#ededff"/>
<rect x="300" y="2030" width="24" height="20" fill="#fff7f7"/>
<rect x="418" y="2030" width="23" height="20" fill="#f7f7ff"/>
<rect x="441" y="2030" width="24" height="20" fill="#ffeded"/>
<rect x="465" y="2030" width="23" height="20" fill="#ffe0e0"/>
<rect x="488" y="2030" width="24" height="20" fill="#f7f7ff"/>
<rect x="559" y="2030" width="23" height="20" fill="#ededff"/>
<rect x="582" y="2030" width="47" height="20" fill="#d1d1ff"/>
<rect x="629" y="2030" width="24" height="20" fill="#adadff"/>
<rect x="653" y="2030" width="47" height="20" fill="#6666ff"/>
<rect x="700" y="2030" width="24" height="20" fill="#3333ff"/>
<rect x="724" y="2030" width="23" height="20" fill="#0000ff"/>
<rect x="747" y="2030" width="24" height="20" fill="#0000e2"/>
<rect x="771" y="2030" width="23" height="20" fill="#0000ff"/>
<rect x="794" y="2030" width="24" height="20" fill="#1919ff"/>
<rect x="818" y="2030" width="23" height="20" fill="#8080ff"/>
<rect x="841" y="2030" width="24" height="20" fill="#ededff"/>
<rect x="865" y="2030" width="23" height="20" fill="#ffadad"/>
<rect x="888" y="2030" width="24" height="20" fill="#ff8080"/>
<rect x="912" y="2030" width="23" height="20" fill="#ff9999"/>
<rect x="935" y="2030" width="24" height="20" fill="#ffadad"/>
<rect x="982" y="2030" width="24" height="20" fill="#d1d1ff"/>
<rect x="1006" y="2030" width="47" height="20" fill="#adadff"/>
<rect x="1053" y="2030" width="23" height="20" fill="#d1d1ff"/>
<rect x="1076" y="2030" width="24" height="20" fill="#ffeded"/>
<rect x="1100" y="2030" width="24" height="20" fill="#ffadad"/>
<rect x="1124" y="2030" width="47" height="20" fill="#ff6666"/>
<rect x="1171" y="2030" width="47" height="20" fill="#ff4d4d"/>
<rect x="1218" y="2030" width="47" height="20" fill="#ff8080"/>
<rect x="1265" y="2030" width="23" height="20" fill="#ffadad"/>
<rect x="1288" y="2030" width="24" height="20" fill="#ffc2c2"/>
<rect x="1312" y="2030" width="23" height="20" fill="#ffd1d1"/>
<rect x="1335" y="2030" width="24" height="20" fill="#fff7f7"/>
<rect x="1359" y="2030" width="47" height="20" fill="#f7f7ff"/>
<rect x="1406" y="2030" width="23" height="20" fill="#e0e0ff"/>
<rect x="1429" y="2030" width="71" height="20" fill="#ededff"/>
<rect x="394" y="2050" width="24" height="20" fill="#fff7f7"/>
<rect x="418" y="2050" width="23" height="20" fill="#f7f7ff"/>
<rect x="465" y="2050" width="23" height="20" fill="#ededff"/>
<rect x="488" y="2050" width="24" height="20" fill="#f7f7ff"/>
<rect x="535" y="2050" width="24" height="20" fill="#e0e0ff"/>
<rect x="559" y="2050" width="23" height="20" fill="#f7f7ff"/>
<rect x="582" y="2050" width="24" height="20" fill="#ededff"/>
<rect x="606" y="2050" width="23" height="20" fill="#e0e0ff"/>
<rect x="629" y="2050" width="24" height="20" fill="#adadff"/>
<rect x="653" y="2050" width="47" height="20" fill="#6666ff"/>
<rect x="700" y="2050" width="24" height="20" fill="#1919ff"/>
<rect x="724" y="2050" width="70" height="20" fill="#0000ff"/>
<rect x="794" y="2050" width="24" height="20" fill="#1919ff"/>
<rect x="818" y="2050" width="23" height="20" fill="#8080ff"/>
<rect x="865" y="2050" width="70" height="20" fill="#ff9999"/>
<rect x="935" y="2050" width="24" height="20" fill="#ffd1d1"/>
<rect x="959" y="2050" width="23" height="20" fill="#e0e0ff"/>
<rect x="982" y="2050" width="47" height="20" fill="#adadff"/>
<rect x="1029" y="2050" width="24" height="20" fill="#9999ff"/>
<rect x="1053" y="2050" width="23" height="20" fill="#d1d1ff"/>
<rect x="1076" y="2050" width="24" height="20" fill="#ededff"/>
<rect x="1100" y="2050" width="24" height="20" fill="#ffc2c2"/>
<rect x="1124" y="2050" width="23" height="20" fill="#ff8080"/>
<rect x="1147" y="2050" width="71" height="20" fill="#ff6666"/>
<rect x="1218" y="2050" width="23" height="20" fill="#ff8080"/>
<rect x="1241" y="2050" width="24" height="20" fill="#ff9999"/>
<rect x="1265" y="2050" width="23" height="20" fill="#ffadad"/>
<rect x="1288" y="2050" width="24" height="20" fill="#ffc2c2"/>
<rect x="1312" y="2050" width="23" height="20" fill="#ffe0e0"/>
<rect x="1359" y="2050" width="47" height="20" fill="#f7f7ff"/>
<rect x="1406" y="2050" width="23" height="20" fill="#ededff"/>
<rect x="1429" y="2050" width="24" height="20" fill="#e0e0ff"/>
<rect x="1453" y="2050" width="23" height="20" fill="#f7f7ff"/>
<rect x="1476" y="2050" width="24" height="20" fill="#ededff"/>
<rect x="371" y="2070" width="23" height="20" fill="#fff7f7"/>
<rect x="394" y="2070" width="24" height="20" fill="#f7f7ff"/>
<rect x="465" y="2070" width="23" height="20" fill="#f7f7ff"/>
<rect x="488" y="2070" width="24" height="20" fill="#ffeded"/>
<rect x="512" y="2070" width="23" height="20" fill="#d1d1ff"/>
<rect x="559" y="2070" width="70" height="20" fill="#e0e0ff"/>
<rect x="629" y="2070" width="24" height="20" fill="#adadff"/>
<rect x="653" y="2070" width="23" height="20" fill="#6666ff"/>
<rect x="676" y="2070" width="24" height="20" fill="#4d4dff"/>
<rect x="700" y="2070" width="24" height="20" fill="#1919ff"/>
<rect x="724" y="2070" width="23" height="20" fill="#0000e2"/>
<rect x="747" y="2070" width="47" height="20" fill="#0000ff"/>
<rect x="794" y="2070" width="24" height="20" fill="#1919ff"/>
<rect x="818" y="2070" width="23" height="20" fill="#6666ff"/>
<rect x="841" y="2070" width="24" height="20" fill="#f7f7ff"/>
<rect x="865" y="2070" width="23" height="20" fill="#ffc2c2"/>
<rect x="888" y="2070" width="24" height="20" fill="#ff9999"/>
<rect x="912" y="2070" width="23" height="20" fill="#ffadad"/>
<rect x="935" y="2070" width="24" height="20" fill="#ffe0e0"/>
<rect x="959" y="2070" width="23" height="20" fill="#e0e0ff"/>
<rect x="982" y="2070" width="24" height="20" fill="#c2c2ff"/>
<rect x="1006" y="2070" width="47" height="20" fill="#9999ff"/>
<rect x="1053" y="2070" width="23" height="20" fill="#adadff"/>
<rect x="1076" y="2070" width="24" height="20" fill="#fff7f7"/>
<rect x="1100" y="2070" width="24" height="20" fill="#ffc2c2"/>
<rect x="1124" y="2070" width="23" height="20" fill="#ff9999"/>
<rect x="1147" y="2070" width="24" height="20" fill="#ff6666"/>
<rect x="1171" y="2070" width="23" height="20" fill="#ff8080"/>
<rect x="1194" y="2070" width="71" height="20" fill="#ff9999"/>
<rect x="1265" y="2070" width="23" height="20" fill="#ffadad"/>
<rect x="1288" y="2070" width="47" height="20" fill="#ffe0e0"/>
<rect x="1335" y="2070" width="24" height="20" fill="#fff7f7"/>
<rect x="1359" y="2070" width="23" height="20" fill="#f7f7ff"/>
<rect x="1382" y="2070" width="47" height="20" fill="#ededff"/>
<rect x="1429" y="2070" width="24" height="20" fill="#e0e0ff"/>
<rect x="1453" y="2070" width="47" height="20" fill="#f7f7ff"/>
<rect x="324" y="2090" width="47" height="20" fill="#fff7f7"/>
<rect x="371" y="2090" width="23" height="20" fill="#f7f7ff"/>
<rect x="418" y="2090" width="23" height="20" fill="#fff7f7"/>
<rect x="441" y="2090" width="24" height="20" fill="#ededff"/>
<rect x="465" y="2090" width="23" height="20" fill="#e0e0ff"/>
<rect x="488" y="2090" width="24" height="20" fill="#ffeded"/>
<rect x="535" y="2090" width="47" height="20" fill="#f7f7ff"/>
<rect x="582" y="2090" width="24" height="20" fill="#d1d1ff"/>
<rect x="606" y="2090" width="23" height="20" fill="#c2c2ff"/>
<rect x="629" y="2090" width="24" height="20" fill="#adadff"/>
<rect x="653" y="2090" width="23" height="20" fill="#8080ff"/>
<rect x="676" y="2090" width="24" height="20" fill="#4d4dff"/>
<rect x="700" y="2090" width="24" height="20" fill="#1919ff"/>
<rect x="724" y="2090" width="70" height="20" fill="#0000ff"/>
<rect x="794" y="2090" width="24" height="20" fill="#1919ff"/>
<rect x="818" y="2090" width="23" height="20" fill="#6666ff"/>
<rect x="841" y="2090" width="24" height="20" fill="#d1d1ff"/>
<rect x="865" y="2090" width="23" height="20" fill="#ffeded"/>
<rect x="888" y="2090" width="47" height="20" fill="#ffc2c2"/>
<rect x="935" y="2090" width="24" height="20" fill="#ffe0e0"/>
<rect x="959" y="2090" width="23" height="20" fill="#e0e0ff"/>
<rect x="982" y="2090" width="24" height="20" fill="#d1d1ff"/>
<rect x="1006" y="2090" width="23" height="20" fill="#9999ff"/>
<rect x="1029" y="2090" width="24" height="20" fill="#8080ff"/>
<rect x="1053" y="2090" width="23" height="20" fill="#adadff"/>
<rect x="1076" y="2090" width="24" height="20" fill="#d1d1ff"/>
<rect x="1100" y="2090" width="24" height="20" fill="#ffe0e0"/>
<rect x="1124" y="2090" width="23" height="20" fill="#ff9999"/>
<rect x="1147" y="2090" width="24" height="20" fill="#ff8080"/>
<rect x="1171" y="2090" width="23" height="20" fill="#ff4d4d"/>
<rect x="1194" y="2090" width="24" height="20" fill="#ff6666"/>
<rect x="1218" y="2090" width="47" height="20" fill="#ff9999"/>
<rect x="1265" y="2090" width="23" height="20" fill="#ffadad"/>
<rect x="1288" y="2090" width="24" height="20" fill="#ffc2c2"/>
<rect x="1312" y="2090" width="23" height="20" fill="#ffe0e0"/>
<rect x="1359" y="2090" width="47" height="20" fill="#f7f7ff"/>
<rect x="1406" y="2090" width="70" height="20" fill="#ededff"/>
<rect x="1476" y="2090" width="24" height="20" fill="#e0e0ff"/>
<rect x="324" y="2110" width="23" height="20" fill="#f7f7ff"/>
<rect x="347" y="2110" width="24" height="20" fill="#fff7f7"/>
<rect x="371" y="2110" width="23" height="20" fill="#f7f7ff"/>
<rect x="441" y="2110" width="47" height="20" fill="#ffeded"/>
<rect x="488" y="2110" width="24" height="20" fill="#ffe0e0"/>
<rect x="512" y="2110" width="23" height="20" fill="#ffeded"/>
<rect x="535" y="2110" width="24" height="20" fill="#f7f7ff"/>
<rect x="582" y="2110" width="24" height="20" fill="#e0e0ff"/>
<rect x="606" y="2110" width="23" height="20" fill="#c2c2ff"/>
<rect x="629" y="2110" width="24" height="20" fill="#adadff"/>
<rect x="653" y="2110" width="23" height="20" fill="#8080ff"/>
<rect x="676" y="2110" width="24" height="20" fill="#6666ff"/>
<rect x="700" y="2110" width="24" height="20" fill="#1919ff"/>
<rect x="724" y="2110" width="94" height="20" fill="#0000ff"/>
<rect x="818" y="2110" width="23" height="20" fill="#4d4dff"/>
<rect x="841" y="2110" width="24" height="20" fill="#d1d1ff"/>
<rect x="865" y="2110" width="23" height="20" fill="#ffe0e0"/>
<rect x="888" y="2110" width="47" height="20" fill="#ffadad"/>
<rect x="935" y="2110" width="24" height="20" fill="#ffeded"/>
<rect x="959" y="2110" width="23" height="20" fill="#d1d1ff"/>
<rect x="982" y="2110" width="24" height="20" fill="#adadff"/>
<rect x="1006" y="2110" width="23" height="20" fill="#8080ff"/>
<rect x="1029" y="2110" width="24" height="20" fill="#9999ff"/>
<rect x="1053" y="2110" width="23" height="20" fill="#c2c2ff"/>
<rect x="1076" y="2110" width="24" height="20" fill="#f7f7ff"/>
<rect x="1100" y="2110" width="24" height="20" fill="#ffe0e0"/>
<rect x="1124" y="2110" width="23" height="20" fill="#ff9999"/>
<rect x="1147" y="2110" width="47" height="20" fill="#ff8080"/>
<rect x="1194" y="2110" width="24" height="20" fill="#ff4d4d"/>
<rect x="1218" y="2110" width="23" height="20" fill="#ff8080"/>
<rect x="1241" y="2110" width="24" height="20" fill="#ff9999"/>
<rect x="1265" y="2110" width="23" height="20" fill="#ffadad"/>
<rect x="1288" y="2110" width="24" height="20" fill="#ffc2c2"/>
<rect x="1312" y="2110" width="23" height="20" fill="#ffe0e0"/>
<rect x="1382" y="2110" width="24" height="20" fill="#ededff"/>
<rect x="1406" y="2110" width="23" height="20" fill="#f7f7ff"/>
<rect x="1429" y="2110" width="24" height="20" fill="#ededff"/>
<rect x="1453" y="2110" width="23" height="20" fill="#f7f7ff"/>
<rect x="1476" y="2110" width="24" height="20" fill="#e0e0ff"/>
<rect x="347" y="2130" width="24" height="20" fill="#fff7f7"/>
<rect x="371" y="2130" width="23" height="20" fill="#f7f7ff"/>
<rect x="394" y="2130" width="24" height="20" fill="#ededff"/>
<rect x="418" y="2130" width="23" height="20" fill="#f7f7ff"/>
<rect x="441" y="2130" width="24" height="20" fill="#ffeded"/>
<rect x="465" y="2130" width="23" height="20" fill="#f7f7ff"/>
<rect x="488" y="2130" width="24" height="20" fill="#ffe0e0"/>
<rect x="535" y="2130" width="71" height="20" fill="#ededff"/>
<rect x="606" y="2130" width="23" height="20" fill="#d1d1ff"/>
<rect x="629" y="2130" width="24" height="20" fill="#8080ff"/>
<rect x="653" y="2130" width="23" height="20" fill="#9999ff"/>
<rect x="676" y="2130" width="24" height="20" fill="#4d4dff"/>
<rect x="700" y="2130" width="24" height="20" fill="#3333ff"/>
<rect x="724" y="2130" width="23" height="20" fill="#1919ff"/>
<rect x="747" y="2130" width="47" height="20" fill="#0000ff"/>
<rect x="794" y="2130" width="24" height="20" fill="#1919ff"/>
<rect x="818" y="2130" width="23" height="20" fill="#4d4dff"/>
<rect x="841" y="2130" width="24" height="20" fill="#d1d1ff"/>
<rect x="865" y="2130" width="23" height="20" fill="#ffd1d1"/>
<rect x="888" y="2130" width="24" height="20" fill="#ff9999"/>
<rect x="912" y="2130" width="23" height="20" fill="#ffc2c2"/>
<rect x="935" y="2130" width="24" height="20" fill="#ffe0e0"/>
<rect x="959" y="2130" width="23" height="20" fill="#ededff"/>
<rect x="982" y="2130" width="24" height="20" fill="#9999ff"/>
<rect x="1006" y="2130" width="47" height="20" fill="#8080ff"/>
<rect x="1053" y="2130" width="23" height="20" fill="#adadff"/>
<rect x="1076" y="2130" width="24" height="20" fill="#d1d1ff"/>
<rect x="1100" y="2130" width="24" height="20" fill="#ffe0e0"/>
<rect x="1124" y="2130" width="23" height="20" fill="#ff9999"/>
<rect x="1147" y="2130" width="94" height="20" fill="#ff8080"/>
<rect x="1241" y="2130" width="24" height="20" fill="#ff9999"/>
<rect x="1265" y="2130" width="23" height="20" fill="#ffadad"/>
<rect x="1288" y="2130" width="24" height="20" fill="#ffc2c2"/>
<rect x="1312" y="2130" width="23" height="20" fill="#ffeded"/>
<rect x="1335" y="2130" width="24" height="20" fill="#fff7f7"/>
<rect x="1382" y="2130" width="24" height="20" fill="#ededff"/>
<rect x="1406" y="2130" width="23" height="20" fill="#f7f7ff"/>
<rect x="1429" y="2130" width="24" height="20" fill="#ededff"/>
<rect x="1453" y="2130" width="23" height="20" fill="#f7f7ff"/>
<rect x="1476" y="2130" width="24" height="20" fill="#e0e0ff"/>
<rect x="300" y="2150" width="47" height="20" fill="#fff7f7"/>
<rect x="347" y="2150" width="24" height="20" fill="#f7f7ff"/>
<rect x="371" y="2150" width="23" height="20" fill="#ededff"/>
<rect x="418" y="2150" width="23" height="20" fill="#f7f7ff"/>
<rect x="441" y="2150" width="24" height="20" fill="#ffeded"/>
<rect x="465" y="2150" width="23" height="20" fill="#f7f7ff"/>
<rect x="488" y="2150" width="24" height="20" fill="#ffeded"/>
<rect x="535" y="2150" width="24" height="20" fill="#e0e0ff"/>
<rect x="559" y="2150" width="23" height="20" fill="#ededff"/>
<rect x="582" y="2150" width="24" height="20" fill="#e0e0ff"/>
<rect x="606" y="2150" width="23" height="20" fill="#c2c2ff"/>
<rect x="629" y="2150" width="24" height="20" fill="#8080ff"/>
<rect x="653" y="2150" width="23" height="20" fill="#9999ff"/>
<rect x="676" y="2150" width="24" height="20" fill="#4d4dff"/>
<rect x="700" y="2150" width="24" height="20" fill="#3333ff"/>
<rect x="724" y="2150" width="47" height="20" fill="#0000ff"/>
<rect x="771" y="2150" width="23" height="20" fill="#0000e2"/>
<rect x="794" y="2150" width="24" height="20" fill="#0000ff"/>
<rect x="818" y="2150" width="23" height="20" fill="#3333ff"/>
<rect x="841" y="2150" width="24" height="20" fill="#adadff"/>
<rect x="865" y="2150" width="23" height="20" fill="#f7f7ff"/>
<rect x="888" y="2150" width="47" height="20" fill="#ffd1d1"/>
<rect x="935" y="2150" width="24" height="20" fill="#fff7f7"/>
<rect x="959" y="2150" width="23" height="20" fill="#d1d1ff"/>
<rect x="982" y="2150" width="71" height="20" fill="#8080ff"/>
<rect x="1053" y="2150" width="23" height="20" fill="#adadff"/>
<rect x="1076" y="2150" width="24" height="20" fill="#d1d1ff"/>
<rect x="1100" y="2150" width="24" height="20" fill="#ffeded"/>
<rect x="1124" y="2150" width="23" height="20" fill="#ffadad"/>
<rect x="1147" y="2150" width="94" height="20" fill="#ff8080"/>
<rect x="1241" y="2150" width="24" height="20" fill="#ff9999"/>
<rect x="1265" y="2150" width="23" height="20" fill="#ffadad"/>
<rect x="1288" y="2150" width="24" height="20" fill="#ffc2c2"/>
<rect x="1312" y="2150" width="23" height="20" fill="#ffd1d1"/>
<rect x="1335" y="2150" width="24" height="20" fill="#ffe0e0"/>
<rect x="1382" y="2150" width="24" height="20" fill="#ededff"/>
<rect x="1406" y="2150" width="23" height="20" fill="#f7f7ff"/>
<rect x="1429" y="2150" width="47" height="20" fill="#ededff"/>
<rect x="1476" y="2150" width="24" height="20" fill="#e0e0ff"/>
<rect x="300" y="2170" width="24" height="20" fill="#f7f7ff"/>
<rect x="324" y="2170" width="23" height="20" fill="#ffeded"/>
<rect x="371" y="2170" width="23" height="20" fill="#fff7f7"/>
<rect x="418" y="2170" width="23" height="20" fill="#fff7f7"/>
<rect x="441" y="2170" width="24" height="20" fill="#ffe0e0"/>
<rect x="465" y="2170" width="23" height="20" fill="#fff7f7"/>
<rect x="488" y="2170" width="24" height="20" fill="#e0e0ff"/>
<rect x="512" y="2170" width="47" height="20" fill="#f7f7ff"/>
<rect x="559" y="2170" width="47" height="20" fill="#ededff"/>
<rect x="606" y="2170" width="23" height="20" fill="#e0e0ff"/>
<rect x="629" y="2170" width="24" height="20" fill="#adadff"/>
<rect x="653" y="2170" width="47" height="20" fill="#6666ff"/>
<rect x="700" y="2170" width="24" height="20" fill="#1919ff"/>
<rect x="724" y="2170" width="47" height="20" fill="#0000e2"/>
<rect x="771" y="2170" width="47" height="20" fill="#0000ff"/>
<rect x="818" y="2170" width="23" height="20" fill="#1919ff"/>
<rect x="841" y="2170" width="24" height="20" fill="#adadff"/>
<rect x="865" y="2170" width="23" height="20" fill="#f7f7ff"/>
<rect x="888" y="2170" width="47" height="20" fill="#ffd1d1"/>
<rect x="935" y="2170" width="24" height="20" fill="#fff7f7"/>
<rect x="959" y="2170" width="23" height="20" fill="#c2c2ff"/>
<rect x="982" y="2170" width="24" height="20" fill="#9999ff"/>
<rect x="1006" y="2170" width="23" height="20" fill="#4d4dff"/>
<rect x="1029" y="2170" width="24" height="20" fill="#8080ff"/>
<rect x="1053" y="2170" width="23" height="20" fill="#9999ff"/>
<rect x="1076" y="2170" width="24" height="20" fill="#d1d1ff"/>
<rect x="1100" y="2170" width="24" height="20" fill="#ffeded"/>
<rect x="1124" y="2170" width="23" height="20" fill="#ffadad"/>
<rect x="1147" y="2170" width="24" height="20" fill="#ff9999"/>
<rect x="1171" y="2170" width="70" height="20" fill="#ff8080"/>
<rect x="1241" y="2170" width="24" height="20" fill="#ff9999"/>
<rect x="1265" y="2170" width="23" height="20" fill="#ffadad"/>
<rect x="1288" y="2170" width="24" height="20" fill="#ffc2c2"/>
<rect x="1312" y="2170" width="23" height="20" fill="#ffe0e0"/>
<rect x="1335" y="2170" width="47" height="20" fill="#ffeded"/>
<rect x="1382" y="2170" width="94" height="20" fill="#ededff"/>
<rect x="1476" y="2170" width="24" height="20" fill="#e0e0ff"/>
<rect x="324" y="2190" width="94" height="20" fill="#fff7f7"/>
<rect x="418" y="2190" width="23" height="20" fill="#f7f7ff"/>
<rect x="441" y="2190" width="24" height="20" fill="#fff7f7"/>
<rect x="465" y="2190" width="23" height="20" fill="#f7f7ff"/>
<rect x="488" y="2190" width="24" height="20" fill="#fff7f7"/>
<rect x="512" y="2190" width="23" height="20" fill="#ededff"/>
<rect x="559" y="2190" width="23" height="20" fill="#f7f7ff"/>
<rect x="582" y="2190" width="24" height="20" fill="#d1d1ff"/>
<rect x="606" y="2190" width="23" height="20" fill="#c2c2ff"/>
<rect x="629" y="2190" width="24" height="20" fill="#9999ff"/>
<rect x="653" y="2190" width="47" height="20" fill="#6666ff"/>
<rect x="700" y="2190" width="47" height="20" fill="#1919ff"/>
<rect x="747" y="2190" width="24" height="20" fill="#0000ff"/>
<rect x="771" y="2190" width="23" height="20" fill="#0000e2"/>
<rect x="794" y="2190" width="24" height="20" fill="#0000ff"/>
<rect x="818" y="2190" width="23" height="20" fill="#3333ff"/>
<rect x="841" y="2190" width="24" height="20" fill="#8080ff"/>
<rect x="865" y="2190" width="23" height="20" fill="#e0e0ff"/>
<rect x="888" y="2190" width="47" height="20" fill="#ffd1d1"/>
<rect x="935" y="2190" width="24" height="20" fill="#f7f7ff"/>
<rect x="959" y="2190" width="23" height="20" fill="#c2c2ff"/>
<rect x="982" y="2190" width="24" height="20" fill="#8080ff"/>
<rect x="1006" y="2190" width="47" height="20" fill="#4d4dff"/>
<rect x="1053" y="2190" width="23" height="20" fill="#8080ff"/>
<rect x="1076" y="2190" width="24" height="20" fill="#d1d1ff"/>
<rect x="1124" y="2190" width="23" height="20" fill="#ffc2c2"/>
<rect x="1147" y="2190" width="24" height="20" fill="#ff9999"/>
<rect x="1171" y="2190" width="23" height="20" fill="#ff8080"/>
<rect x="1194" y="2190" width="71" height="20" fill="#ff9999"/>
<rect x="1265" y="2190" width="23" height="20" fill="#ffadad"/>
<rect x="1288" y="2190" width="24" height="20" fill="#ffd1d1"/>
<rect x="1312" y="2190" width="23" height="20" fill="#ffe0e0"/>
<rect x="1335" y="2190" width="24" height="20" fill="#fff7f7"/>
<rect x="1382" y="2190" width="47" height="20" fill="#f7f7ff"/>
<rect x="1429" y="2190" width="47" height="20" fill="#ededff"/>
<rect x="1476" y="2190" width="24" height="20" fill="#f7f7ff"/>
<rect x="300" y="2210" width="24" height="20" fill="#fff7f7"/>
<rect x="324" y="2210" width="23" height="20" fill="#f7f7ff"/>
<rect x="441" y="2210" width="24" height="20" fill="#ffeded"/>
<rect x="488" y="2210" width="24" height="20" fill="#ffd1d1"/>
<rect x="512" y="2210" width="23" height="20" fill="#ededff"/>
<rect x="535" y="2210" width="24" height="20" fill="#fff7f7"/>
<rect x="559" y="2210" width="70" height="20" fill="#e0e0ff"/>
<rect x="629" y="2210" width="24" height="20" fill="#d1d1ff"/>
<rect x="653" y="2210" width="23" height="20" fill="#8080ff"/>
<rect x="676" y="2210" width="24" height="20" fill="#4d4dff"/>
<rect x="700" y="2210" width="47" height="20" fill="#1919ff"/>
<rect x="747" y="2210" width="47" height="20" fill="#0000c6"/>
<rect x="794" y="2210" width="24" height="20" fill="#0000e2"/>
<rect x="818" y="2210" width="23" height="20" fill="#3333ff"/>
<rect x="841" y="2210" width="24" height="20" fill="#8080ff"/>
<rect x="865" y="2210" width="23" height="20" fill="#ededff"/>
<rect x="888" y="2210" width="24" height="20" fill="#ffe0e0"/>
<rect x="912" y="2210" width="23" height="20" fill="#ffd1d1"/>
<rect x="935" y="2210" width="24" height="20" fill="#ffeded"/>
<rect x="959" y="2210" width="23" height="20" fill="#c2c2ff"/>
<rect x="982" y="2210" width="24" height="20" fill="#8080ff"/>
<rect x="1006" y="2210" width="47" height="20" fill="#4d4dff"/>
<rect x="1053" y="2210" width="23" height="20" fill="#8080ff"/>
<rect x="1076" y="2210" width="24" height="20" fill="#d1d1ff"/>
<rect x="1100" y="2210" width="24" height="20" fill="#fff7f7"/>
<rect x="1124" y="2210" width="23" height="20" fill="#ffc2c2"/>
<rect x="1147" y="2210" width="24" height="20" fill="#ff9999"/>
<rect x="1171" y="2210" width="47" height="20" fill="#ff8080"/>
<rect x="1218" y="2210" width="23" height="20" fill="#ff9999"/>
<rect x="1241" y="2210" width="47" height="20" fill="#ffadad"/>
<rect x="1288" y="2210" width="24" height="20" fill="#ffc2c2"/>
<rect x="1312" y="2210" width="23" height="20" fill="#ffe0e0"/>
<rect x="1335" y="2210" width="47" height="20" fill="#fff7f7"/>
<rect x="1382" y="2210" width="47" height="20" fill="#f7f7ff"/>
<rect x="1429" y="2210" width="71" height="20" fill="#ededff"/>
<rect x="347" y="2230" width="24" height="20" fill="#fff7f7"/>
<rect x="394" y="2230" width="71" height="20" fill="#f7f7ff"/>
<rect x="488" y="2230" width="24" height="20" fill="#e0e0ff"/>
<rect x="512" y="2230" width="23" height="20" fill="#ededff"/>
<rect x="535" y="2230" width="71" height="20" fill="#f7f7ff"/>
<rect x="606" y="2230" width="23" height="20" fill="#c2c2ff"/>
<rect x="629" y="2230" width="24" height="20" fill="#adadff"/>
<rect x="653" y="2230" width="23" height="20" fill="#8080ff"/>
<rect x="676" y="2230" width="24" height="20" fill="#4d4dff"/>
<rect x="700" y="2230" width="24" height="20" fill="#1919ff"/>
<rect x="724" y="2230" width="47" height="20" fill="#0000ff"/>
<rect x="771" y="2230" width="23" height="20" fill="#0000e2"/>
<rect x="794" y="2230" width="24" height="20" fill="#0000ff"/>
<rect x="818" y="2230" width="23" height="20" fill="#1919ff"/>
<rect x="841" y="2230" width="24" height="20" fill="#adadff"/>
<rect x="865" y="2230" width="23" height="20" fill="#ededff"/>
<rect x="888" y="2230" width="24" height="20" fill="#fff7f7"/>
<rect x="912" y="2230" width="23" height="20" fill="#ffeded"/>
<rect x="935" y="2230" width="24" height="20" fill="#ededff"/>
<rect x="959" y="2230" width="23" height="20" fill="#d1d1ff"/>
<rect x="982" y="2230" width="24" height="20" fill="#9999ff"/>
<rect x="1006" y="2230" width="47" height="20" fill="#4d4dff"/>
<rect x="1053" y="2230" width="23" height="20" fill="#9999ff"/>
<rect x="1076" y="2230" width="24" height="20" fill="#c2c2ff"/>
<rect x="1100" y="2230" width="24" height="20" fill="#fff7f7"/>
<rect x="1124" y="2230" width="23" height="20" fill="#ffd1d1"/>
<rect x="1147" y="2230" width="24" height="20" fill="#ff9999"/>
<rect x="1171" y="2230" width="23" height="20" fill="#ffadad"/>
<rect x="1194" y="2230" width="47" height="20" fill="#ff9999"/>
<rect x="1241" y="2230" width="47" height="20" fill="#ffadad"/>
<rect x="1288" y="2230" width="47" height="20" fill="#ffd1d1"/>
<rect x="1335" y="2230" width="24" height="20" fill="#fff7f7"/>
<rect x="1382" y="2230" width="118" height="20" fill="#f7f7ff"/>
</g>
<rect x="1163" y="1650" width="17" height="600" fill="#000" fill-opacity="0.25"/>
<line x1="418.0" y1="2250" x2="418.0" y2="1650" stroke="#000" stroke-width="2" stroke-dasharray="4.17 12.5"/>
<line x1="607.8" y1="2250" x2="607.8" y2="1650" stroke="#000" stroke-width="2" stroke-dasharray="4.17 12.5"/>
<line x1="797.6" y1="2250" x2="797.6" y2="1650" stroke="#000" stroke-width="2" stroke-dasharray="4.17 12.5"/>
<line x1="987.4" y1="2250" x2="987.4" y2="1650" stroke="#000" stroke-width="2" stroke-dasharray="4.17 12.5"/>
<line x1="1177.2" y1="2250" x2="1177.2" y2="1650" stroke="#000" stroke-width="2" stroke-dasharray="4.17 12.5"/>
<line x1="1367.0" y1="2250" x2="1367.0" y2="1650" stroke="#000" stroke-width="2" stroke-dasharray="4.17 12.5"/>
<line x1="300" y1="1750.0" x2="1500" y2="1750.0" stroke="#000" stroke-width="2" stroke-dasharray="4.17 12.5"/>
<line x1="300" y1="1950.0" x2="1500" y2="1950.0" stroke="#000" stroke-width="2" stroke-dasharray="4.17 12.5"/>
<line x1="300" y1="2050.0" x2="1500" y2="2050.0" stroke="#000" stroke-width="2" stroke-dasharray="4.17 12.5"/>
<line x1="300" y1="2150.0" x2="1500" y2="2150.0" stroke="#000" stroke-width="2" stroke-dasharray="4.17 12.5"/>
<line x1="300" y1="1850" x2="1500" y2="1850" stroke="#000" stroke-width="4"/>
<path d="M418.0 1650V1670M418.0 2250V2229.5M607.8 1650V1670M607.8 2250V2229.5M797.6 1650V1670M797.6 2250V2229.5M987.4 1650V1670M987.4 2250V2229.5M1177.2 1650V1670M1177.2 2250V2229.5M1367.0 1650V1670M1367.0 2250V2229.5M300 1650H320.5M1500 1650H1479.5M300 1750H320.5M1500 1750H1479.5M300 1850H320.5M1500 1850H1479.5M300 1950H320.5M1500 1950H1479.5M300 2050H320.5M1500 2050H1479.5M300 2150H320.5M1500 2150H1479.5M300 2250H320.5M1500 2250H1479.5" stroke="#000" stroke-width="2" fill="none"/>
<rect x="300" y="1650" width="1200" height="600" fill="none" stroke="#000" stroke-width="4"/>
<text x="282.5" y="1667.3" text-anchor="end" style="font-family:'DejaVu Sans','Liberation Sans',sans-serif;font-size:58.33px">1.0</text>
<text x="282.5" y="1767.3" text-anchor="end" style="font-family:'DejaVu Sans','Liberation Sans',sans-serif;font-size:58.33px">0.5</text>
<text x="282.5" y="1867.3" text-anchor="end" style="font-family:'DejaVu Sans','Liberation Sans',sans-serif;font-size:58.33px">0.0</text>
<text x="282.5" y="1967.3" text-anchor="end" style="font-family:'DejaVu Sans','Liberation Sans',sans-serif;font-size:58.33px">−0.5</text>
<text x="282.5" y="2067.3" text-anchor="end" style="font-family:'DejaVu Sans','Liberation Sans',sans-serif;font-size:58.33px">−1.0</text>
<text x="282.5" y="2167.3" text-anchor="end" style="font-family:'DejaVu Sans','Liberation Sans',sans-serif;font-size:58.33px">−1.5</text>
<text x="282.5" y="2267.3" text-anchor="end" style="font-family:'DejaVu Sans','Liberation Sans',sans-serif;font-size:58.33px">−2.0</text>
<g transform="translate(0 1950) rotate(-90)">
<text transform="matrix(0.7551 0 0 0.6189 -104.29 102.98)" style="font-family:'DejaVu Serif',serif;font-style:italic;font-size:100px">τ</text>
<text transform="matrix(0.5144 0 0 0.5446 -68.36 116.00)" style="font-family:'Liberation Serif',serif;font-size:100px">21</text>
<text transform="matrix(0.4385 0 0 0.5522 2.45 106.70)" style="font-family:'Liberation Serif',serif;font-size:100px">(</text>
<text transform="matrix(0.6122 0 0 0.6167 18.49 105.05)" style="font-family:'DejaVu Sans',sans-serif;font-size:100px">p</text>
<text transform="matrix(0.5881 0 0 0.6172 56.36 103.18)" style="font-family:'DejaVu Sans',sans-serif;font-size:100px">s</text>
<text transform="matrix(0.4385 0 0 0.5433 86.48 105.49)" style="font-family:'Liberation Serif',serif;font-size:100px">)</text>
</g>
<rect x="334" y="1684" width="422.0" height="117" fill="#fff" fill-opacity="0.75" stroke="#000" stroke-opacity="0.75" stroke-width="4"/>
<text x="354" y="1763.7" style="font-family:'DejaVu Sans','Liberation Sans',sans-serif;font-size:76px">1000 dual</text>
<text x="418.0" y="2312" text-anchor="middle" style="font-family:'DejaVu Sans','Liberation Sans',sans-serif;font-size:58.33px">1.6</text>
<text x="607.8" y="2312" text-anchor="middle" style="font-family:'DejaVu Sans','Liberation Sans',sans-serif;font-size:58.33px">1.7</text>
<text x="797.6" y="2312" text-anchor="middle" style="font-family:'DejaVu Sans','Liberation Sans',sans-serif;font-size:58.33px">1.8</text>
<text x="987.4" y="2312" text-anchor="middle" style="font-family:'DejaVu Sans','Liberation Sans',sans-serif;font-size:58.33px">1.9</text>
<text x="1177.2" y="2312" text-anchor="middle" style="font-family:'DejaVu Sans','Liberation Sans',sans-serif;font-size:58.33px">2.0</text>
<text x="1367.0" y="2312" text-anchor="middle" style="font-family:'DejaVu Sans','Liberation Sans',sans-serif;font-size:58.33px">2.1</text>
<text transform="matrix(0.6260 0 0 0.6711 618.47 2399.00)" style="font-family:'DejaVu Serif',serif;font-style:italic;font-size:100px">ℏ</text>
<text transform="matrix(0.5947 0 0 0.6346 660.02 2399.80)" style="font-family:'DejaVu Serif',serif;font-style:italic;font-size:100px">ω</text>
<text transform="matrix(0.4204 0 0 0.4603 708.92 2411.58)" style="font-family:'DejaVu Sans',sans-serif;font-size:100px">probe</text>
<text transform="matrix(1.0638 0 0 0.7040 844.68 2403.38)" style="font-family:'Liberation Serif',serif;font-size:100px">=</text>
<text transform="matrix(0.7500 0 0 0.6750 915.75 2399.30)" style="font-family:'DejaVu Serif',serif;font-style:italic;font-size:100px">ℏ</text>
<text transform="matrix(0.5933 0 0 0.6538 958.72 2400.00)" style="font-family:'DejaVu Serif',serif;font-style:italic;font-size:100px">ω</text>
<text transform="matrix(0.4287 0 0 0.4281 1005.44 2412.30)" style="font-family:'DejaVu Sans',sans-serif;font-size:100px">m</text>
<text transform="matrix(0.5115 0 0 0.5889 1065.65 2387.43)" style="font-family:'Liberation Serif',serif;font-size:100px">(</text>
<text transform="matrix(0.5800 0 0 0.5793 1082.92 2399.42)" style="font-family:'DejaVu Sans',sans-serif;font-size:100px">e</text>
<text transform="matrix(0.7652 0 0 0.7151 1114.63 2399.00)" style="font-family:'DejaVu Sans',sans-serif;font-size:100px">V</text>
<text transform="matrix(0.5154 0 0 0.5889 1167.95 2387.63)" style="font-family:'Liberation Serif',serif;font-size:100px">)</text>
<g shape-rendering="crispEdges">
<rect x="1575" y="2242.38" width="75" height="8.22" fill="#00004c"/>
<rect x="1575" y="2234.77" width="75" height="8.22" fill="#00004f"/>
<rect x="1575" y="2227.15" width="75" height="8.22" fill="#000052"/>
<rect x="1575" y="2219.53" width="75" height="8.22" fill="#000055"/>
<rect x="1575" y="2211.91" width="75" height="8.22" fill="#000058"/>
<rect x="1575" y="2204.30" width="75" height="8.22" fill="#00005a"/>
<rect x="1575" y="2196.68" width="75" height="8.22" fill="#00005d"/>
<rect x="1575" y="2189.06" width="75" height="8.22" fill="#000060"/>
<rect x="1575" y="2181.45" width="75" height="8.22" fill="#000063"/>
<rect x="1575" y="2173.83" width="75" height="8.22" fill="#000066"/>
<rect x="1575" y="2166.21" width="75" height="8.22" fill="#000068"/>
<rect x="1575" y="2158.59" width="75" height="8.22" fill="#00006b"/>
<rect x="1575" y="2150.98" width="75" height="8.22" fill="#00006e"/>
<rect x="1575" y="2143.36" width="75" height="8.22" fill="#000071"/>
<rect x="1575" y="2135.74" width="75" height="8.22" fill="#000074"/>
<rect x="1575" y="2128.12" width="75" height="8.22" fill="#000076"/>
<rect x="1575" y="2120.51" width="75" height="8.22" fill="#000079"/>
<rect x="1575" y="2112.89" width="75" height="8.22" fill="#00007c"/>
<rect x="1575" y="2105.27" width="75" height="8.22" fill="#00007f"/>
<rect x="1575" y="2097.66" width="75" height="8.22" fill="#000082"/>
<rect x="1575" y="2090.04" width="75" height="8.22" fill="#000084"/>
<rect x="1575" y="2082.42" width="75" height="8.22" fill="#000087"/>
<rect x="1575" y="2074.80" width="75" height="8.22" fill="#00008a"/>
<rect x="1575" y="2067.19" width="75" height="8.22" fill="#00008d"/>
<rect x="1575" y="2059.57" width="75" height="8.22" fill="#000090"/>
<rect x="1575" y="2051.95" width="75" height="8.22" fill="#000092"/>
<rect x="1575" y="2044.34" width="75" height="8.22" fill="#000095"/>
<rect x="1575" y="2036.72" width="75" height="8.22" fill="#000098"/>
<rect x="1575" y="2029.10" width="75" height="8.22" fill="#00009b"/>
<rect x="1575" y="2021.48" width="75" height="8.22" fill="#00009e"/>
<rect x="1575" y="2013.87" width="75" height="8.22" fill="#0000a0"/>
<rect x="1575" y="2006.25" width="75" height="8.22" fill="#0000a3"/>
<rect x="1575" y="1998.63" width="75" height="8.22" fill="#0000a6"/>
<rect x="1575" y="1991.02" width="75" height="8.22" fill="#0000a9"/>
<rect x="1575" y="1983.40" width="75" height="8.22" fill="#0000ac"/>
<rect x="1575" y="1975.78" width="75" height="8.22" fill="#0000ae"/>
<rect x="1575" y="1968.16" width="75" height="8.22" fill="#0000b1"/>
<rect x="1575" y="1960.55" width="75" height="8.22" fill="#0000b4"/>
<rect x="1575" y="1952.93" width="75" height="8.22" fill="#0000b7"/>
<rect x="1575" y="1945.31" width="75" height="8.22" fill="#0000ba"/>
<rect x="1575" y="1937.70" width="75" height="8.22" fill="#0000bc"/>
<rect x="1575" y="1930.08" width="75" height="8.22" fill="#0000bf"/>
<rect x="1575" y="1922.46" width="75" height="8.22" fill="#0000c2"/>
<rect x="1575" y="1914.84" width="75" height="8.22" fill="#0000c5"/>
<rect x="1575" y="1907.23" width="75" height="8.22" fill="#0000c8"/>
<rect x="1575" y="1899.61" width="75" height="8.22" fill="#0000cb"/>
<rect x="1575" y="1891.99" width="75" height="8.22" fill="#0000cd"/>
<rect x="1575" y="1884.38" width="75" height="8.22" fill="#0000d0"/>
<rect x="1575" y="1876.76" width="75" height="8.22" fill="#0000d3"/>
<rect x="1575" y="1869.14" width="75" height="8.22" fill="#0000d6"/>
<rect x="1575" y="1861.52" width="75" height="8.22" fill="#0000d8"/>
<rect x="1575" y="1853.91" width="75" height="8.22" fill="#0000db"/>
<rect x="1575" y="1846.29" width="75" height="8.22" fill="#0000de"/>
<rect x="1575" y="1838.67" width="75" height="8.22" fill="#0000e1"/>
<rect x="1575" y="1831.05" width="75" height="8.22" fill="#0000e4"/>
<rect x="1575" y="1823.44" width="75" height="8.22" fill="#0000e6"/>
<rect x="1575" y="1815.82" width="75" height="8.22" fill="#0000e9"/>
<rect x="1575" y="1808.20" width="75" height="8.22" fill="#0000ec"/>
<rect x="1575" y="1800.59" width="75" height="8.22" fill="#0000ef"/>
<rect x="1575" y="1792.97" width="75" height="8.22" fill="#0000f2"/>
<rect x="1575" y="1785.35" width="75" height="8.22" fill="#0000f4"/>
<rect x="1575" y="1777.73" width="75" height="8.22" fill="#0000f7"/>
<rect x="1575" y="1770.12" width="75" height="8.22" fill="#0000fa"/>
<rect x="1575" y="1762.50" width="75" height="8.22" fill="#0000fd"/>
<rect x="1575" y="1754.88" width="75" height="8.22" fill="#0101ff"/>
<rect x="1575" y="1747.27" width="75" height="8.22" fill="#0505ff"/>
<rect x="1575" y="1739.65" width="75" height="8.22" fill="#0909ff"/>
<rect x="1575" y="1732.03" width="75" height="8.22" fill="#0d0dff"/>
<rect x="1575" y="1724.41" width="75" height="8.22" fill="#1111ff"/>
<rect x="1575" y="1716.80" width="75" height="8.22" fill="#1515ff"/>
<rect x="1575" y="1709.18" width="75" height="8.22" fill="#1919ff"/>
<rect x="1575" y="1701.56" width="75" height="8.22" fill="#1d1dff"/>
<rect x="1575" y="1693.95" width="75" height="8.22" fill="#2121ff"/>
<rect x="1575" y="1686.33" width="75" height="8.22" fill="#2525ff"/>
<rect x="1575" y="1678.71" width="75" height="8.22" fill="#2929ff"/>
<rect x="1575" y="1671.09" width="75" height="8.22" fill="#2d2dff"/>
<rect x="1575" y="1663.48" width="75" height="8.22" fill="#3131ff"/>
<rect x="1575" y="1655.86" width="75" height="8.22" fill="#3535ff"/>
<rect x="1575" y="1648.24" width="75" height="8.22" fill="#3939ff"/>
<rect x="1575" y="1640.62" width="75" height="8.22" fill="#3d3dff"/>
<rect x="1575" y="1633.01" width="75" height="8.22" fill="#4141ff"/>
<rect x="1575" y="1625.39" width="75" height="8.22" fill="#4545ff"/>
<rect x="1575" y="1617.77" width="75" height="8.22" fill="#4949ff"/>
<rect x="1575" y="1610.16" width="75" height="8.22" fill="#4d4dff"/>
<rect x="1575" y="1602.54" width="75" height="8.22" fill="#5151ff"/>
<rect x="1575" y="1594.92" width="75" height="8.22" fill="#5555ff"/>
<rect x="1575" y="1587.30" width="75" height="8.22" fill="#5959ff"/>
<rect x="1575" y="1579.69" width="75" height="8.22" fill="#5d5dff"/>
<rect x="1575" y="1572.07" width="75" height="8.22" fill="#6161ff"/>
<rect x="1575" y="1564.45" width="75" height="8.22" fill="#6565ff"/>
<rect x="1575" y="1556.84" width="75" height="8.22" fill="#6969ff"/>
<rect x="1575" y="1549.22" width="75" height="8.22" fill="#6d6dff"/>
<rect x="1575" y="1541.60" width="75" height="8.22" fill="#7171ff"/>
<rect x="1575" y="1533.98" width="75" height="8.22" fill="#7575ff"/>
<rect x="1575" y="1526.37" width="75" height="8.22" fill="#7979ff"/>
<rect x="1575" y="1518.75" width="75" height="8.22" fill="#7d7dff"/>
<rect x="1575" y="1511.13" width="75" height="8.22" fill="#8181ff"/>
<rect x="1575" y="1503.52" width="75" height="8.22" fill="#8585ff"/>
<rect x="1575" y="1495.90" width="75" height="8.22" fill="#8989ff"/>
<rect x="1575" y="1488.28" width="75" height="8.22" fill="#8d8dff"/>
<rect x="1575" y="1480.66" width="75" height="8.22" fill="#9191ff"/>
<rect x="1575" y="1473.05" width="75" height="8.22" fill="#9595ff"/>
<rect x="1575" y="1465.43" width="75" height="8.22" fill="#9999ff"/>
<rect x="1575" y="1457.81" width="75" height="8.22" fill="#9d9dff"/>
<rect x="1575" y="1450.20" width="75" height="8.22" fill="#a1a1ff"/>
<rect x="1575" y="1442.58" width="75" height="8.22" fill="#a5a5ff"/>
<rect x="1575" y="1434.96" width="75" height="8.22" fill="#a9a9ff"/>
<rect x="1575" y="1427.34" width="75" height="8.22" fill="#adadff"/>
<rect x="1575" y="1419.73" width="75" height="8.22" fill="#b1b1ff"/>
<rect x="1575" y="1412.11" width="75" height="8.22" fill="#b5b5ff"/>
<rect x="1575" y="1404.49" width="75" height="8.22" fill="#b9b9ff"/>
<rect x="1575" y="1396.88" width="75" height="8.22" fill="#bdbdff"/>
<rect x="1575" y="1389.26" width="75" height="8.22" fill="#c1c1ff"/>
<rect x="1575" y="1381.64" width="75" height="8.22" fill="#c5c5ff"/>
<rect x="1575" y="1374.02" width="75" height="8.22" fill="#c9c9ff"/>
<rect x="1575" y="1366.41" width="75" height="8.22" fill="#cdcdff"/>
<rect x="1575" y="1358.79" width="75" height="8.22" fill="#d1d1ff"/>
<rect x="1575" y="1351.17" width="75" height="8.22" fill="#d5d5ff"/>
<rect x="1575" y="1343.55" width="75" height="8.22" fill="#d9d9ff"/>
<rect x="1575" y="1335.94" width="75" height="8.22" fill="#ddddff"/>
<rect x="1575" y="1328.32" width="75" height="8.22" fill="#e1e1ff"/>
<rect x="1575" y="1320.70" width="75" height="8.22" fill="#e5e5ff"/>
<rect x="1575" y="1313.09" width="75" height="8.22" fill="#e9e9ff"/>
<rect x="1575" y="1305.47" width="75" height="8.22" fill="#ededff"/>
<rect x="1575" y="1297.85" width="75" height="8.22" fill="#f1f1ff"/>
<rect x="1575" y="1290.23" width="75" height="8.22" fill="#f5f5ff"/>
<rect x="1575" y="1282.62" width="75" height="8.22" fill="#f9f9ff"/>
<rect x="1575" y="1275.00" width="75" height="8.22" fill="#fdfdff"/>
<rect x="1575" y="1267.38" width="75" height="8.22" fill="#fffdfd"/>
<rect x="1575" y="1259.77" width="75" height="8.22" fill="#fff9f9"/>
<rect x="1575" y="1252.15" width="75" height="8.22" fill="#fff5f5"/>
<rect x="1575" y="1244.53" width="75" height="8.22" fill="#fff1f1"/>
<rect x="1575" y="1236.91" width="75" height="8.22" fill="#ffeded"/>
<rect x="1575" y="1229.30" width="75" height="8.22" fill="#ffe9e9"/>
<rect x="1575" y="1221.68" width="75" height="8.22" fill="#ffe5e5"/>
<rect x="1575" y="1214.06" width="75" height="8.22" fill="#ffe1e1"/>
<rect x="1575" y="1206.45" width="75" height="8.22" fill="#ffdddd"/>
<rect x="1575" y="1198.83" width="75" height="8.22" fill="#ffd9d9"/>
<rect x="1575" y="1191.21" width="75" height="8.22" fill="#ffd5d5"/>
<rect x="1575" y="1183.59" width="75" height="8.22" fill="#ffd1d1"/>
<rect x="1575" y="1175.98" width="75" height="8.22" fill="#ffcdcd"/>
<rect x="1575" y="1168.36" width="75" height="8.22" fill="#ffc9c9"/>
<rect x="1575" y="1160.74" width="75" height="8.22" fill="#ffc5c5"/>
<rect x="1575" y="1153.12" width="75" height="8.22" fill="#ffc1c1"/>
<rect x="1575" y="1145.51" width="75" height="8.22" fill="#ffbdbd"/>
<rect x="1575" y="1137.89" width="75" height="8.22" fill="#ffb9b9"/>
<rect x="1575" y="1130.27" width="75" height="8.22" fill="#ffb5b5"/>
<rect x="1575" y="1122.66" width="75" height="8.22" fill="#ffb1b1"/>
<rect x="1575" y="1115.04" width="75" height="8.22" fill="#ffadad"/>
<rect x="1575" y="1107.42" width="75" height="8.22" fill="#ffa9a9"/>
<rect x="1575" y="1099.80" width="75" height="8.22" fill="#ffa5a5"/>
<rect x="1575" y="1092.19" width="75" height="8.22" fill="#ffa1a1"/>
<rect x="1575" y="1084.57" width="75" height="8.22" fill="#ff9d9d"/>
<rect x="1575" y="1076.95" width="75" height="8.22" fill="#ff9999"/>
<rect x="1575" y="1069.34" width="75" height="8.22" fill="#ff9595"/>
<rect x="1575" y="1061.72" width="75" height="8.22" fill="#ff9191"/>
<rect x="1575" y="1054.10" width="75" height="8.22" fill="#ff8d8d"/>
<rect x="1575" y="1046.48" width="75" height="8.22" fill="#ff8989"/>
<rect x="1575" y="1038.87" width="75" height="8.22" fill="#ff8585"/>
<rect x="1575" y="1031.25" width="75" height="8.22" fill="#ff8181"/>
<rect x="1575" y="1023.63" width="75" height="8.22" fill="#ff7d7d"/>
<rect x="1575" y="1016.02" width="75" height="8.22" fill="#ff7979"/>
<rect x="1575" y="1008.40" width="75" height="8.22" fill="#ff7575"/>
<rect x="1575" y="1000.78" width="75" height="8.22" fill="#ff7171"/>
<rect x="1575" y="993.16" width="75" height="8.22" fill="#ff6d6d"/>
<rect x="1575" y="985.55" width="75" height="8.22" fill="#ff6969"/>
<rect x="1575" y="977.93" width="75" height="8.22" fill="#ff6565"/>
<rect x="1575" y="970.31" width="75" height="8.22" fill="#ff6161"/>
<rect x="1575" y="962.70" width="75" height="8.22" fill="#ff5d5d"/>
<rect x="1575" y="955.08" width="75" height="8.22" fill="#ff5959"/>
<rect x="1575" y="947.46" width="75" height="8.22" fill="#ff5555"/>
<rect x="1575" y="939.84" width="75" height="8.22" fill="#ff5151"/>
<rect x="1575" y="932.23" width="75" height="8.22" fill="#ff4d4d"/>
<rect x="1575" y="924.61" width="75" height="8.22" fill="#ff4949"/>
<rect x="1575" y="916.99" width="75" height="8.22" fill="#ff4545"/>
<rect x="1575" y="909.38" width="75" height="8.22" fill="#ff4141"/>
<rect x="1575" y="901.76" width="75" height="8.22" fill="#ff3d3d"/>
<rect x="1575" y="894.14" width="75" height="8.22" fill="#ff3939"/>
<rect x="1575" y="886.52" width="75" height="8.22" fill="#ff3535"/>
<rect x="1575" y="878.91" width="75" height="8.22" fill="#ff3131"/>
<rect x="1575" y="871.29" width="75" height="8.22" fill="#ff2d2d"/>
<rect x="1575" y="863.67" width="75" height="8.22" fill="#ff2929"/>
<rect x="1575" y="856.05" width="75" height="8.22" fill="#ff2525"/>
<rect x="1575" y="848.44" width="75" height="8.22" fill="#ff2121"/>
<rect x="1575" y="840.82" width="75" height="8.22" fill="#ff1d1d"/>
<rect x="1575" y="833.20" width="75" height="8.22" fill="#ff1919"/>
<rect x="1575" y="825.59" width="75" height="8.22" fill="#ff1515"/>
<rect x="1575" y="817.97" width="75" height="8.22" fill="#ff1111"/>
<rect x="1575" y="810.35" width="75" height="8.22" fill="#ff0d0d"/>
<rect x="1575" y="802.73" width="75" height="8.22" fill="#ff0909"/>
<rect x="1575" y="795.12" width="75" height="8.22" fill="#ff0505"/>
<rect x="1575" y="787.50" width="75" height="8.22" fill="#ff0101"/>
<rect x="1575" y="779.88" width="75" height="8.22" fill="#fe0000"/>
<rect x="1575" y="772.27" width="75" height="8.22" fill="#fc0000"/>
<rect x="1575" y="764.65" width="75" height="8.22" fill="#fa0000"/>
<rect x="1575" y="757.03" width="75" height="8.22" fill="#f80000"/>
<rect x="1575" y="749.41" width="75" height="8.22" fill="#f50000"/>
<rect x="1575" y="741.80" width="75" height="8.22" fill="#f30000"/>
<rect x="1575" y="734.18" width="75" height="8.22" fill="#f20000"/>
<rect x="1575" y="726.56" width="75" height="8.22" fill="#f00000"/>
<rect x="1575" y="718.95" width="75" height="8.22" fill="#ee0000"/>
<rect x="1575" y="711.33" width="75" height="8.22" fill="#ec0000"/>
<rect x="1575" y="703.71" width="75" height="8.22" fill="#ea0000"/>
<rect x="1575" y="696.09" width="75" height="8.22" fill="#e80000"/>
<rect x="1575" y="688.48" width="75" height="8.22" fill="#e50000"/>
<rect x="1575" y="680.86" width="75" height="8.22" fill="#e30000"/>
<rect x="1575" y="673.24" width="75" height="8.22" fill="#e20000"/>
<rect x="1575" y="665.62" width="75" height="8.22" fill="#e00000"/>
<rect x="1575" y="658.01" width="75" height="8.22" fill="#de0000"/>
<rect x="1575" y="650.39" width="75" height="8.22" fill="#dc0000"/>
<rect x="1575" y="642.77" width="75" height="8.22" fill="#da0000"/>
<rect x="1575" y="635.16" width="75" height="8.22" fill="#d80000"/>
<rect x="1575" y="627.54" width="75" height="8.22" fill="#d50000"/>
<rect x="1575" y="619.92" width="75" height="8.22" fill="#d30000"/>
<rect x="1575" y="612.30" width="75" height="8.22" fill="#d20000"/>
<rect x="1575" y="604.69" width="75" height="8.22" fill="#d00000"/>
<rect x="1575" y="597.07" width="75" height="8.22" fill="#ce0000"/>
<rect x="1575" y="589.45" width="75" height="8.22" fill="#cc0000"/>
<rect x="1575" y="581.84" width="75" height="8.22" fill="#ca0000"/>
<rect x="1575" y="574.22" width="75" height="8.22" fill="#c80000"/>
<rect x="1575" y="566.60" width="75" height="8.22" fill="#c50000"/>
<rect x="1575" y="558.98" width="75" height="8.22" fill="#c30000"/>
<rect x="1575" y="551.37" width="75" height="8.22" fill="#c20000"/>
<rect x="1575" y="543.75" width="75" height="8.22" fill="#c00000"/>
<rect x="1575" y="536.13" width="75" height="8.22" fill="#be0000"/>
<rect x="1575" y="528.52" width="75" height="8.22" fill="#bc0000"/>
<rect x="1575" y="520.90" width="75" height="8.22" fill="#ba0000"/>
<rect x="1575" y="513.28" width="75" height="8.22" fill="#b80000"/>
<rect x="1575" y="505.66" width="75" height="8.22" fill="#b50000"/>
<rect x="1575" y="498.05" width="75" height="8.22" fill="#b30000"/>
<rect x="1575" y="490.43" width="75" height="8.22" fill="#b20000"/>
<rect x="1575" y="482.81" width="75" height="8.22" fill="#b00000"/>
<rect x="1575" y="475.20" width="75" height="8.22" fill="#ae0000"/>
<rect x="1575" y="467.58" width="75" height="8.22" fill="#ac0000"/>
<rect x="1575" y="459.96" width="75" height="8.22" fill="#aa0000"/>
<rect x="1575" y="452.34" width="75" height="8.22" fill="#a80000"/>
<rect x="1575" y="444.73" width="75" height="8.22" fill="#a50000"/>
<rect x="1575" y="437.11" width="75" height="8.22" fill="#a30000"/>
<rect x="1575" y="429.49" width="75" height="8.22" fill="#a20000"/>
<rect x="1575" y="421.88" width="75" height="8.22" fill="#a00000"/>
<rect x="1575" y="414.26" width="75" height="8.22" fill="#9e0000"/>
<rect x="1575" y="406.64" width="75" height="8.22" fill="#9c0000"/>
<rect x="1575" y="399.02" width="75" height="8.22" fill="#9a0000"/>
<rect x="1575" y="391.41" width="75" height="8.22" fill="#980000"/>
<rect x="1575" y="383.79" width="75" height="8.22" fill="#950000"/>
<rect x="1575" y="376.17" width="75" height="8.22" fill="#930000"/>
<rect x="1575" y="368.55" width="75" height="8.22" fill="#920000"/>
<rect x="1575" y="360.94" width="75" height="8.22" fill="#900000"/>
<rect x="1575" y="353.32" width="75" height="8.22" fill="#8e0000"/>
<rect x="1575" y="345.70" width="75" height="8.22" fill="#8c0000"/>
<rect x="1575" y="338.09" width="75" height="8.22" fill="#8a0000"/>
<rect x="1575" y="330.47" width="75" height="8.22" fill="#880000"/>
<rect x="1575" y="322.85" width="75" height="8.22" fill="#850000"/>
<rect x="1575" y="315.23" width="75" height="8.22" fill="#840000"/>
<rect x="1575" y="307.62" width="75" height="8.22" fill="#820000"/>
<rect x="1575" y="300.00" width="75" height="8.22" fill="#800000"/>
</g>
<text x="1667.5" y="317.3" style="font-family:'DejaVu Sans','Liberation Sans',sans-serif;font-size:58.33px">1.0</text>
<text x="1667.5" y="560.9" style="font-family:'DejaVu Sans','Liberation Sans',sans-serif;font-size:58.33px">0.75</text>
<text x="1667.5" y="804.4" style="font-family:'DejaVu Sans','Liberation Sans',sans-serif;font-size:58.33px">0.5</text>
<text x="1667.5" y="1048.0" style="font-family:'DejaVu Sans','Liberation Sans',sans-serif;font-size:58.33px">0.25</text>
<text x="1667.5" y="1291.5" style="font-family:'DejaVu Sans','Liberation Sans',sans-serif;font-size:58.33px">0.0</text>
<text x="1667.5" y="1535.1" style="font-family:'DejaVu Sans','Liberation Sans',sans-serif;font-size:58.33px">-0.25</text>
<text x="1667.5" y="1778.7" style="font-family:'DejaVu Sans','Liberation Sans',sans-serif;font-size:58.33px">-0.5</text>
<text x="1667.5" y="2022.2" style="font-family:'DejaVu Sans','Liberation Sans',sans-serif;font-size:58.33px">-0.75</text>
<text x="1667.5" y="2265.8" style="font-family:'DejaVu Sans','Liberation Sans',sans-serif;font-size:58.33px">-1.0</text>
<path d="M1650 543.75H1633M1650 787.50H1633M1650 1031.25H1633M1650 1275.00H1633M1650 1518.75H1633M1650 1762.50H1633M1650 2006.25H1633" stroke="#000" stroke-width="2" fill="none"/>
<rect x="1575" y="300" width="75" height="1950" fill="none" stroke="#000" stroke-width="4"/>
<g transform="translate(0 1275) rotate(-90)">
<text transform="matrix(0.6250 0 0 0.7013 -27.75 1895.30)" style="font-family:'DejaVu Sans',sans-serif;font-size:100px">d</text>
<text transform="matrix(0.7000 0 0 0.7233 11.00 1894.90)" style="font-family:'DejaVu Sans',sans-serif;font-size:100px">I</text>
</g>
</svg></body></html>
